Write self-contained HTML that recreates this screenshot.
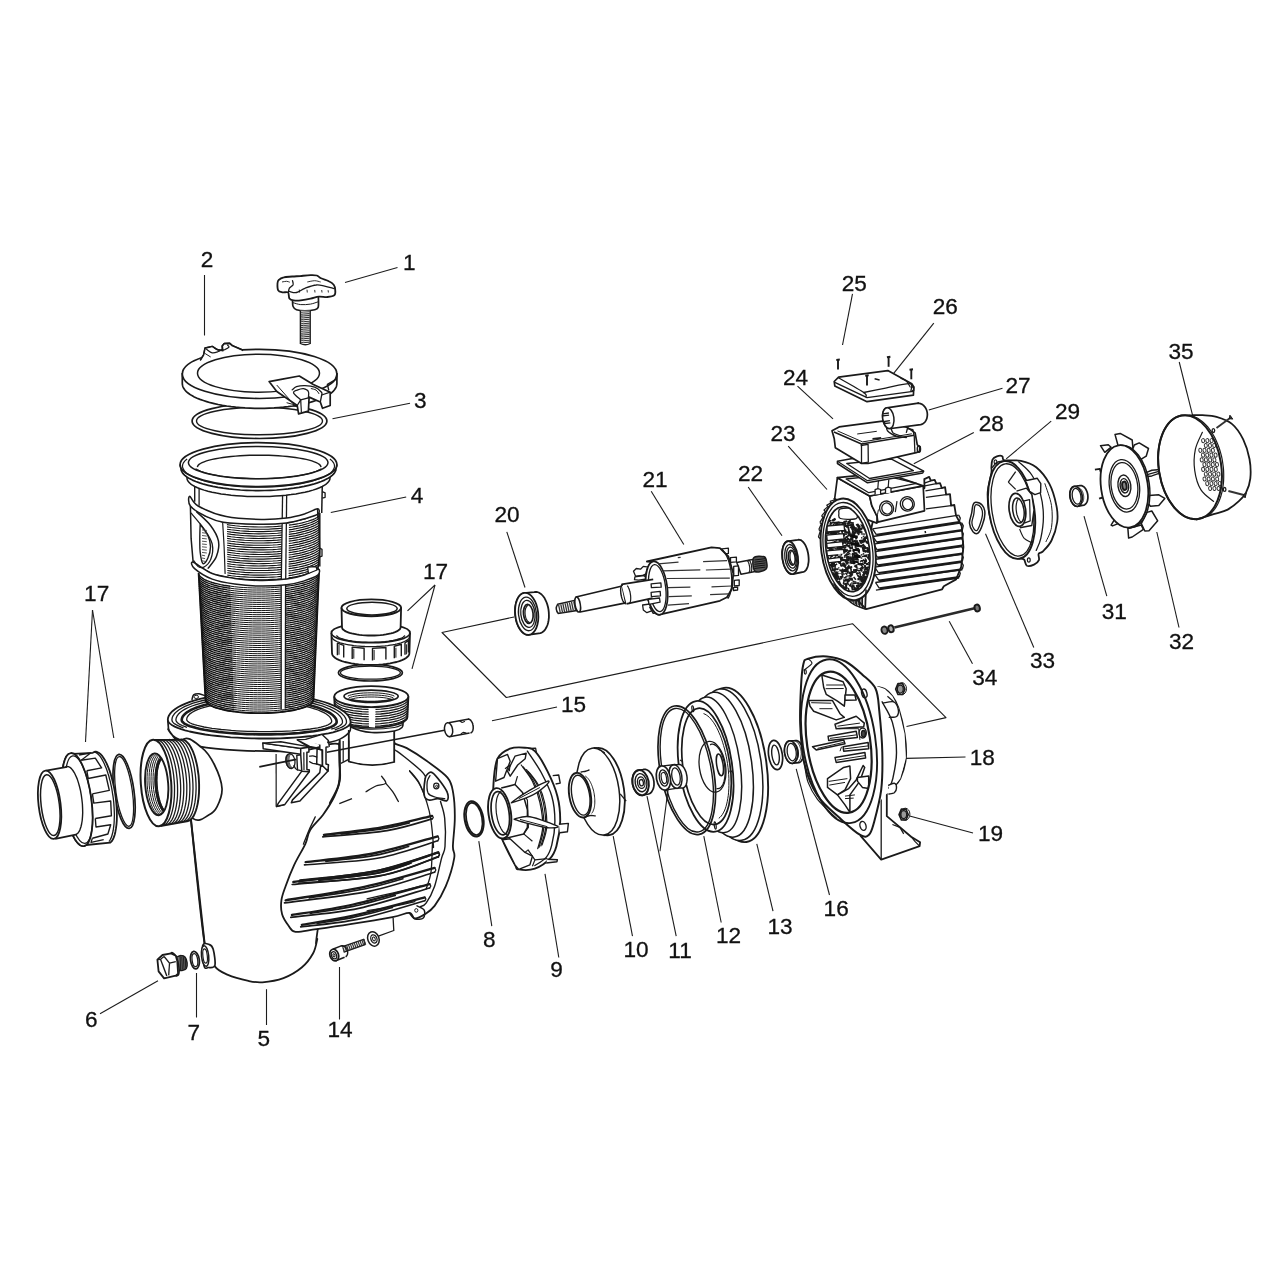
<!DOCTYPE html>
<html><head><meta charset="utf-8"><title>Pump exploded view</title>
<style>
html,body{margin:0;padding:0;background:#fff;}
body{width:1281px;height:1281px;overflow:hidden;font-family:"Liberation Sans",sans-serif;}
svg{display:block;will-change:transform;font-family:"Liberation Sans",sans-serif;}
</style></head><body>
<svg width="1281" height="1281" viewBox="0 0 1281 1281">
<rect width="1281" height="1281" fill="#fff"/>
<!-- p_labels -->
<g font-family="Liberation Sans, sans-serif">
<text x="402.9" y="270.0" font-size="22.6" fill="#111" stroke="#111" stroke-width="0.3">1</text>
<text x="200.7" y="267.0" font-size="22.6" fill="#111" stroke="#111" stroke-width="0.3">2</text>
<text x="413.9" y="407.5" font-size="22.6" fill="#111" stroke="#111" stroke-width="0.3">3</text>
<text x="410.7" y="502.5" font-size="22.6" fill="#111" stroke="#111" stroke-width="0.3">4</text>
<text x="84.1" y="601.0" font-size="22.6" fill="#111" stroke="#111" stroke-width="0.3">17</text>
<text x="422.9" y="579.0" font-size="22.6" fill="#111" stroke="#111" stroke-width="0.3">17</text>
<text x="494.4" y="522.0" font-size="22.6" fill="#111" stroke="#111" stroke-width="0.3">20</text>
<text x="642.4" y="487.0" font-size="22.6" fill="#111" stroke="#111" stroke-width="0.3">21</text>
<text x="737.9" y="481.2" font-size="22.6" fill="#111" stroke="#111" stroke-width="0.3">22</text>
<text x="770.4" y="441.2" font-size="22.6" fill="#111" stroke="#111" stroke-width="0.3">23</text>
<text x="783.0" y="385.2" font-size="22.6" fill="#111" stroke="#111" stroke-width="0.3">24</text>
<text x="841.8" y="290.8" font-size="22.6" fill="#111" stroke="#111" stroke-width="0.3">25</text>
<text x="932.8" y="314.0" font-size="22.6" fill="#111" stroke="#111" stroke-width="0.3">26</text>
<text x="1005.4" y="393.2" font-size="22.6" fill="#111" stroke="#111" stroke-width="0.3">27</text>
<text x="978.7" y="430.5" font-size="22.6" fill="#111" stroke="#111" stroke-width="0.3">28</text>
<text x="1055.0" y="418.5" font-size="22.6" fill="#111" stroke="#111" stroke-width="0.3">29</text>
<text x="1168.4" y="358.8" font-size="22.6" fill="#111" stroke="#111" stroke-width="0.3">35</text>
<text x="1101.7" y="618.8" font-size="22.6" fill="#111" stroke="#111" stroke-width="0.3">31</text>
<text x="1169.0" y="648.8" font-size="22.6" fill="#111" stroke="#111" stroke-width="0.3">32</text>
<text x="1030.0" y="668.2" font-size="22.6" fill="#111" stroke="#111" stroke-width="0.3">33</text>
<text x="972.3" y="684.5" font-size="22.6" fill="#111" stroke="#111" stroke-width="0.3">34</text>
<text x="560.9" y="712.0" font-size="22.6" fill="#111" stroke="#111" stroke-width="0.3">15</text>
<text x="969.7" y="765.0" font-size="22.6" fill="#111" stroke="#111" stroke-width="0.3">18</text>
<text x="977.9" y="840.5" font-size="22.6" fill="#111" stroke="#111" stroke-width="0.3">19</text>
<text x="823.6" y="915.8" font-size="22.6" fill="#111" stroke="#111" stroke-width="0.3">16</text>
<text x="767.4" y="934.0" font-size="22.6" fill="#111" stroke="#111" stroke-width="0.3">13</text>
<text x="715.9" y="942.5" font-size="22.6" fill="#111" stroke="#111" stroke-width="0.3">12</text>
<text x="668.3" y="958.2" font-size="22.6" fill="#111" stroke="#111" stroke-width="0.3">11</text>
<text x="623.4" y="956.5" font-size="22.6" fill="#111" stroke="#111" stroke-width="0.3">10</text>
<text x="550.3" y="976.5" font-size="22.6" fill="#111" stroke="#111" stroke-width="0.3">9</text>
<text x="483.1" y="947.0" font-size="22.6" fill="#111" stroke="#111" stroke-width="0.3">8</text>
<text x="84.9" y="1026.5" font-size="22.6" fill="#111" stroke="#111" stroke-width="0.3">6</text>
<text x="187.5" y="1040.0" font-size="22.6" fill="#111" stroke="#111" stroke-width="0.3">7</text>
<text x="257.5" y="1045.5" font-size="22.6" fill="#111" stroke="#111" stroke-width="0.3">5</text>
<text x="327.4" y="1037.0" font-size="22.6" fill="#111" stroke="#111" stroke-width="0.3">14</text>
</g>
<path d="M397.5 267.5L345 282.5" fill="none" stroke="#1c1c1c" stroke-width="1.1"/>
<path d="M204.5 275L204.5 335.5" fill="none" stroke="#1c1c1c" stroke-width="1.1"/>
<path d="M410 403.2L332.5 418.8" fill="none" stroke="#1c1c1c" stroke-width="1.1"/>
<path d="M406.2 497L330.8 512.5" fill="none" stroke="#1c1c1c" stroke-width="1.1"/>
<path d="M92.5 610L85.5 742" fill="none" stroke="#1c1c1c" stroke-width="1.1"/>
<path d="M92.5 610L113.8 738" fill="none" stroke="#1c1c1c" stroke-width="1.1"/>
<path d="M435 585L407.5 610.8" fill="none" stroke="#1c1c1c" stroke-width="1.1"/>
<path d="M435 585L412 668.8" fill="none" stroke="#1c1c1c" stroke-width="1.1"/>
<path d="M506.8 531.8L525 587.5" fill="none" stroke="#1c1c1c" stroke-width="1.1"/>
<path d="M651.2 491.2L683.8 544.5" fill="none" stroke="#1c1c1c" stroke-width="1.1"/>
<path d="M748.2 487L782 535.8" fill="none" stroke="#1c1c1c" stroke-width="1.1"/>
<path d="M788.2 446.2L827 489.5" fill="none" stroke="#1c1c1c" stroke-width="1.1"/>
<path d="M797.5 386.2L833 418.8" fill="none" stroke="#1c1c1c" stroke-width="1.1"/>
<path d="M852.5 293.8L842.5 345" fill="none" stroke="#1c1c1c" stroke-width="1.1"/>
<path d="M933.8 323.2L887.5 381.2" fill="none" stroke="#1c1c1c" stroke-width="1.1"/>
<path d="M1002.5 388.2L928.8 410" fill="none" stroke="#1c1c1c" stroke-width="1.1"/>
<path d="M973.8 432.5L913.8 463.8" fill="none" stroke="#1c1c1c" stroke-width="1.1"/>
<path d="M1051.2 421.2L1006.2 458.8" fill="none" stroke="#1c1c1c" stroke-width="1.1"/>
<path d="M1179.2 362L1192.8 416.2" fill="none" stroke="#1c1c1c" stroke-width="1.1"/>
<path d="M1084 516.2L1106.8 596.2" fill="none" stroke="#1c1c1c" stroke-width="1.1"/>
<path d="M1156.8 532L1179 627.5" fill="none" stroke="#1c1c1c" stroke-width="1.1"/>
<path d="M985.5 533.8L1033.8 647.5" fill="none" stroke="#1c1c1c" stroke-width="1.1"/>
<path d="M949.2 621.2L972.5 663.8" fill="none" stroke="#1c1c1c" stroke-width="1.1"/>
<path d="M492 720.8L557 707" fill="none" stroke="#1c1c1c" stroke-width="1.1"/>
<path d="M906 758.4L965.5 757" fill="none" stroke="#1c1c1c" stroke-width="1.1"/>
<path d="M909.6 816L973 833" fill="none" stroke="#1c1c1c" stroke-width="1.1"/>
<path d="M796.2 768.8L829.5 895" fill="none" stroke="#1c1c1c" stroke-width="1.1"/>
<path d="M756.8 843.8L773 911.2" fill="none" stroke="#1c1c1c" stroke-width="1.1"/>
<path d="M703.8 836.2L721.2 922.5" fill="none" stroke="#1c1c1c" stroke-width="1.1"/>
<path d="M647 796.2L676.2 936.2" fill="none" stroke="#1c1c1c" stroke-width="1.1"/>
<path d="M668 790L660 851.2" fill="none" stroke="#1c1c1c" stroke-width="1.1"/>
<path d="M613.2 836.2L632.5 936.2" fill="none" stroke="#1c1c1c" stroke-width="1.1"/>
<path d="M545 873.8L558.8 957.5" fill="none" stroke="#1c1c1c" stroke-width="1.1"/>
<path d="M478.8 841.2L491.8 926.2" fill="none" stroke="#1c1c1c" stroke-width="1.1"/>
<path d="M100 1013.8L158 980.8" fill="none" stroke="#1c1c1c" stroke-width="1.1"/>
<path d="M196.5 973L196.5 1017.5" fill="none" stroke="#1c1c1c" stroke-width="1.1"/>
<path d="M266.5 989.2L266.5 1025" fill="none" stroke="#1c1c1c" stroke-width="1.1"/>
<path d="M339.5 967L339.5 1019.5" fill="none" stroke="#1c1c1c" stroke-width="1.1"/>
<path d="M514 617L442 632.5L506.3 697.5L852.5 623.7L946 717.6L906.5 726.5" fill="none" stroke="#1c1c1c" stroke-width="1.1" stroke-linejoin="round"/>
<!-- p_body -->
<path d="M168.6 730C166.9 726.3 170.5 735.1 175.6 737.8C180.7 740.5 188.6 744.3 199 746.4C209.4 748.5 221.2 749.5 238 750.3C254.8 751.1 283 751.9 300 751C317 750.1 333.3 740.2 340 745C346.7 749.8 343.7 748.7 339.9 779.6C336.2 810.5 321.4 903.7 317.6 930.3C313.8 956.9 318 935.6 317.2 939.4C316.4 943.3 315.6 948.8 313 953.5C310.4 958.2 306.7 963.4 301.7 967.5C296.8 971.6 290 975.6 283.5 978.1C276.9 980.5 268.3 981.8 262.4 982.3C256.6 982.8 254.2 982.2 248.4 980.9C242.5 979.6 232.9 977 227.3 974.6C221.7 972.1 218.4 971 214.6 966.1C210.9 961.2 208.7 969.4 204.8 945.1C200.9 920.7 194.1 850.8 191 820C187.9 789.2 189.7 775 186 760C182.3 745 170.3 733.7 168.6 730Z" fill="#fff" stroke="#1a1a1a" stroke-width="1.8" stroke-linejoin="round" stroke-linecap="round"/>
<path d="M182 740.6C186.9 733.8 196.3 743.6 201.7 747.6C207 751.6 210.9 757.7 214.3 764.5C217.7 771.3 221.6 781.3 222 788.4C222.5 795.4 219.3 802.2 217.1 806.6C214.9 811.1 212.7 813.1 208.7 815.1C204.7 817 199.3 823 193.2 818.6C187.1 814.1 174 801.4 172.2 788.4C170.3 775.4 177.1 747.4 182 740.6Z" fill="#fff" stroke="#1a1a1a" stroke-width="1.7" stroke-linejoin="round" stroke-linecap="round"/>
<path d="M191 820L204.8 945" fill="none" stroke="#1a1a1a" stroke-width="1.9"/>
<path d="M202.7 945.8C203.5 942.1 207.3 943.8 209 944.4C210.8 944.9 212.2 945.8 213.2 949.3C214.2 952.8 215.7 962.4 214.9 965.4C214.1 968.5 210.1 967.4 208.3 967.5C206.5 967.7 205 969.8 204.1 966.1C203.2 962.5 201.9 949.4 202.7 945.8Z" fill="#fff" stroke="#1a1a1a" stroke-width="1.7" stroke-linejoin="round" stroke-linecap="round"/>
<ellipse cx="205.1" cy="956" rx="3.6" ry="10.4" transform="rotate(-6 205.1 956)" fill="#fff" stroke="#1a1a1a" stroke-width="1.5"/>
<ellipse cx="205.1" cy="956" rx="2.2" ry="7.2" transform="rotate(-6 205.1 956)" fill="none" stroke="#1a1a1a" stroke-width="1.2"/>
<path d="M151.7 740L180 739.6L181.5 739.4L183.1 739.6L184.6 740.2L186.2 741.3L187.7 742.8L189.3 744.7L190.7 747L192.1 749.7L193.4 752.7L194.6 756L195.6 759.6L196.6 763.4L197.4 767.4L198 771.5L198.6 775.7L198.9 780L199.1 784.3L199.1 788.5L199 792.6L198.7 796.6L198.2 800.5L197.6 804.1L196.8 807.4L195.9 810.5L194.9 813.2L193.8 815.6L192.5 817.5L191.2 819.1L189.7 820.3L188.2 821L160.3 826L160.3 826L158.8 826.3L157.2 826.1L155.5 825.4L153.9 824.3L152.3 822.7L150.8 820.7L149.3 818.2L147.9 815.4L146.5 812.2L145.3 808.7L144.2 804.9L143.2 800.9L142.4 796.7L141.7 792.3L141.2 787.8L140.8 783.3L140.6 778.8L140.5 774.3L140.7 769.9L141 765.7L141.4 761.6L142.1 757.8L142.8 754.2L143.8 751L144.8 748.1L146 745.6L147.3 743.6L148.7 741.9L150.1 740.7L151.7 740Z" fill="#fff" stroke="none" stroke-width="0" stroke-linejoin="round"/>
<path d="M151.7 740L180 739.6L181.5 739.4L183.1 739.6L184.6 740.2L186.2 741.3L187.7 742.8L189.3 744.7L190.7 747L192.1 749.7L193.4 752.7L194.6 756L195.6 759.6L196.6 763.4L197.4 767.4L198 771.5L198.6 775.7L198.9 780L199.1 784.3L199.1 788.5L199 792.6L198.7 796.6L198.2 800.5L197.6 804.1L196.8 807.4L195.9 810.5L194.9 813.2L193.8 815.6L192.5 817.5L191.2 819.1L189.7 820.3L188.2 821L160.3 826" fill="none" stroke="#1a1a1a" stroke-width="1.9" stroke-linejoin="round"/>
<path d="M156.6 739.7L158.6 740.1L160.5 741.1L162.4 742.8L164.2 745.2L166 748.1L167.7 751.5L169.2 755.5L170.6 759.8L171.8 764.6L172.8 769.6L173.6 774.8L174.1 780.1L174.5 785.5L174.5 790.9L174.4 796.1L174 801.1L173.4 805.8L172.5 810.1L171.4 814.1L170.2 817.5L168.8 820.4L167.2 822.7L165.5 824.4L163.7 825.4" fill="none" stroke="#1a1a1a" stroke-width="1.3"/>
<path d="M159.8 739.6L161.7 740L163.6 741.1L165.5 742.8L167.4 745.1L169.1 748L170.8 751.4L172.3 755.3L173.7 759.7L174.9 764.4L175.9 769.4L176.6 774.5L177.2 779.9L177.5 785.2L177.6 790.5L177.5 795.7L177.1 800.6L176.4 805.3L175.6 809.7L174.5 813.6L173.3 817L171.9 819.8L170.3 822.1L168.6 823.8L166.8 824.8" fill="none" stroke="#1a1a1a" stroke-width="1.3"/>
<path d="M162.9 739.6L164.8 740L166.7 741L168.6 742.7L170.5 745L172.2 747.9L173.9 751.3L175.4 755.2L176.8 759.5L178 764.2L179 769.1L179.7 774.3L180.3 779.6L180.6 784.9L180.7 790.2L180.5 795.3L180.1 800.2L179.5 804.9L178.7 809.2L177.6 813.1L176.4 816.5L174.9 819.3L173.4 821.6L171.7 823.2L169.9 824.3" fill="none" stroke="#1a1a1a" stroke-width="1.3"/>
<path d="M166.1 739.6L168 739.9L169.9 741L171.8 742.7L173.6 744.9L175.3 747.8L177 751.2L178.5 755.1L179.9 759.4L181.1 764L182 768.9L182.8 774L183.4 779.3L183.7 784.6L183.8 789.8L183.6 794.9L183.2 799.8L182.6 804.4L181.7 808.7L180.7 812.6L179.4 815.9L178 818.8L176.5 821L174.8 822.7L173 823.7" fill="none" stroke="#1a1a1a" stroke-width="1.3"/>
<path d="M169.2 739.5L171.1 739.9L173 740.9L174.9 742.6L176.7 744.9L178.5 747.7L180.1 751.1L181.6 754.9L183 759.2L184.1 763.8L185.1 768.7L185.9 773.8L186.4 779L186.8 784.2L186.8 789.4L186.7 794.5L186.3 799.4L185.7 804L184.8 808.2L183.8 812.1L182.5 815.4L181.1 818.2L179.6 820.5L177.9 822.1L176.1 823.1" fill="none" stroke="#1a1a1a" stroke-width="1.3"/>
<path d="M172.3 739.5L174.2 739.9L176.1 740.9L178 742.5L179.8 744.8L181.6 747.6L183.2 751L184.7 754.8L186.1 759L187.2 763.6L188.2 768.5L189 773.5L189.5 778.7L189.8 783.9L189.9 789.1L189.7 794.1L189.4 799L188.7 803.6L187.9 807.8L186.8 811.6L185.6 814.9L184.2 817.7L182.6 819.9L181 821.6L179.2 822.6" fill="none" stroke="#1a1a1a" stroke-width="1.3"/>
<path d="M175.5 739.5L177.4 739.8L179.3 740.8L181.1 742.5L182.9 744.7L184.7 747.5L186.3 750.9L187.8 754.7L189.2 758.9L190.3 763.4L191.3 768.3L192.1 773.3L192.6 778.4L192.9 783.6L193 788.7L192.8 793.8L192.4 798.6L191.8 803.1L191 807.3L189.9 811.1L188.7 814.4L187.3 817.2L185.7 819.4L184.1 821L182.3 822" fill="none" stroke="#1a1a1a" stroke-width="1.3"/>
<path d="M178.6 739.4L180.5 739.8L182.4 740.8L184.2 742.4L186.1 744.7L187.8 747.5L189.4 750.8L190.9 754.5L192.2 758.7L193.4 763.2L194.4 768L195.1 773L195.7 778.1L196 783.3L196.1 788.4L195.9 793.4L195.5 798.1L194.9 802.7L194 806.8L193 810.6L191.8 813.9L190.4 816.6L188.8 818.8L187.2 820.4L185.4 821.4" fill="none" stroke="#1a1a1a" stroke-width="1.3"/>
<ellipse cx="156" cy="783" rx="15.2" ry="43.4" transform="rotate(-4 156 783)" fill="#fff" stroke="#1a1a1a" stroke-width="2"/>
<ellipse cx="156.7" cy="784.3" rx="11.5" ry="31" transform="rotate(-4 156.7 784.3)" fill="#fff" stroke="#1a1a1a" stroke-width="1.9"/>
<clipPath id="inl"><ellipse cx="156.7" cy="784.3" rx="11.5" ry="31" transform="rotate(-4 156.7 784.3)"/></clipPath>
<g clip-path="url(#inl)">
<path d="M158.8 814.9L157.2 814L155.6 812.4L154.1 810.4L152.6 807.8L151.3 804.8L150.1 801.4L149.1 797.6L148.3 793.6L147.6 789.4L147.2 785.1L147 780.8L147.1 776.5L147.3 772.5L147.8 768.6L148.5 765L149.4 761.9L150.5 759.1L151.7 756.9L153.1 755.1L154.6 754" fill="none" stroke="#1a1a1a" stroke-width="1"/>
<path d="M160.8 814.9L159.2 814L157.6 812.4L156.1 810.4L154.6 807.8L153.3 804.8L152.1 801.4L151.1 797.6L150.3 793.6L149.6 789.4L149.2 785.1L149 780.8L149.1 776.5L149.3 772.5L149.8 768.6L150.5 765L151.4 761.9L152.5 759.1L153.7 756.9L155.1 755.1L156.6 754" fill="none" stroke="#1a1a1a" stroke-width="1"/>
<path d="M162.8 814.9L161.2 814L159.6 812.4L158.1 810.4L156.6 807.8L155.3 804.8L154.1 801.4L153.1 797.6L152.3 793.6L151.6 789.4L151.2 785.1L151 780.8L151.1 776.5L151.3 772.5L151.8 768.6L152.5 765L153.4 761.9L154.5 759.1L155.7 756.9L157.1 755.1L158.6 754" fill="none" stroke="#1a1a1a" stroke-width="1"/>
<path d="M164.8 814.9L163.2 814L161.6 812.4L160.1 810.4L158.6 807.8L157.3 804.8L156.1 801.4L155.1 797.6L154.3 793.6L153.6 789.4L153.2 785.1L153 780.8L153.1 776.5L153.3 772.5L153.8 768.6L154.5 765L155.4 761.9L156.5 759.1L157.7 756.9L159.1 755.1L160.6 754" fill="none" stroke="#1a1a1a" stroke-width="1"/>
<path d="M166.8 814.9L165.2 814L163.6 812.4L162.1 810.4L160.6 807.8L159.3 804.8L158.1 801.4L157.1 797.6L156.3 793.6L155.6 789.4L155.2 785.1L155 780.8L155.1 776.5L155.3 772.5L155.8 768.6L156.5 765L157.4 761.9L158.5 759.1L159.7 756.9L161.1 755.1L162.6 754" fill="none" stroke="#1a1a1a" stroke-width="1"/>
<path d="M168.8 814.9L167.2 814L165.6 812.4L164.1 810.4L162.6 807.8L161.3 804.8L160.1 801.4L159.1 797.6L158.3 793.6L157.6 789.4L157.2 785.1L157 780.8L157.1 776.5L157.3 772.5L157.8 768.6L158.5 765L159.4 761.9L160.5 759.1L161.7 756.9L163.1 755.1L164.6 754" fill="none" stroke="#1a1a1a" stroke-width="1"/>
<path d="M172.7 808.8L170.9 811.3L169 812.7L166.9 812.9L164.8 811.8L162.7 809.5L160.8 806.2L159.1 802L157.7 797L156.6 791.5L156 785.7L155.8 779.9L156.1 774.3L156.8 769.1L157.9 764.7L159.3 761.2L161.1 758.7L163 757.3L165.1 757.1L167.2 758.2L169.3 760.5" fill="none" stroke="#1a1a1a" stroke-width="2.8"/>
</g>
<path d="M393.9 741.1C394.1 741.5 393.4 742.7 395.5 743.9C397.7 745.1 401.6 745.3 406.8 748.1C411.9 750.9 419.7 755.8 426.5 760.7C433.2 765.7 443.1 772.2 447.5 777.6C452 783 451.9 786.3 453.2 793.1C454.4 799.9 454.9 809.5 454.8 818.4C454.8 827.3 453 839.8 452.9 846.5C452.8 853.1 455.4 851.5 454.2 858.1C453.1 864.7 449.1 878.2 445.8 886.2C442.5 894.2 438.1 901.2 434.6 905.9C431 910.6 428 912.2 424.7 914.3C421.4 916.4 417.5 918.8 414.9 918.5C412.3 918.3 413 913.1 409.3 912.9C405.5 912.7 402.2 915.2 392.4 917.1C382.6 919 362.9 922.2 350.3 924.1C337.6 926.1 325.7 927.8 316.5 929.1C307.4 930.3 300.1 932.5 295.5 931.9C290.8 931.3 290.7 928.5 288.4 925.5C286.2 922.6 283.3 918.5 282.1 914.3C280.9 910.1 280.8 904.9 281.4 900.3C282 895.6 283.5 892.1 285.6 886.2C287.7 880.3 290.8 872.2 294.1 865.1C297.3 858.1 302.6 849.9 305.3 844.1C308 838.2 307.2 834.9 310.2 830C313.2 825.1 319 820.3 323.1 814.7C327.1 809.1 331.5 802.3 334.3 796.5C337.1 790.6 339.1 785.5 339.9 779.6C340.8 773.7 339.5 767.4 339.4 761.3C339.2 755.2 339.1 746.1 339.1 743.1" fill="#fff" stroke="#1a1a1a" stroke-width="1.8" stroke-linejoin="round" stroke-linecap="round"/>
<path d="M395.5 750.2C397 751.3 399.8 753.1 404 756.5C408.2 759.9 417 766.8 420.8 770.6C424.7 774.3 426.1 777.6 427.2 779" fill="none" stroke="#1a1a1a" stroke-width="1.4" stroke-linejoin="round" stroke-linecap="round"/>
<path d="M440.5 801.5C441.2 804.3 444 810.9 444.7 818.4C445.5 825.8 445.5 839.8 445 846.5C444.5 853.1 443.3 851.5 441.6 858.1C439.8 864.7 437.1 878.7 434.6 886.2C432 893.7 428.5 899.7 426.1 903.1C423.8 906.5 421.4 906 420.5 906.6" fill="none" stroke="#1a1a1a" stroke-width="1.4" stroke-linejoin="round" stroke-linecap="round"/>
<path d="M409.6 770.6C411.2 772.7 416.6 778.1 419.4 783.2C422.2 788.4 424.6 795.6 426.5 801.5C428.3 807.3 429.5 810.9 430.7 818.4C431.8 825.8 433.2 842.2 433.5 846.5C433.8 850.7 432.9 839.8 432.5 844.1C432 848.3 432.1 864.7 431 872.2C430 879.6 426.9 886.2 426.1 889" fill="none" stroke="#1a1a1a" stroke-width="1.3" stroke-linejoin="round" stroke-linecap="round"/>
<path d="M425.1 779C425.6 775.3 426.6 774.7 427.9 773.7C429.1 772.6 430.3 771.3 432.4 772.7C434.5 774 438 778.4 440.5 781.8C443 785.2 446.5 789.9 447.5 793.1C448.6 796.2 448.5 799.9 446.8 800.8C445.2 801.7 440.6 798.8 437.7 798.7C434.8 798.6 431.5 800.6 429.3 800.1C427 799.6 425.1 799.4 424.4 795.9C423.6 792.4 424.5 782.7 425.1 779Z" fill="#fff" stroke="#1a1a1a" stroke-width="1.7" stroke-linejoin="round" stroke-linecap="round"/>
<path d="M430 775.5C429.5 776.6 427.5 778.9 427.2 781.8C426.9 784.8 426.9 790.5 428.1 793.1C429.4 795.6 432.1 796.1 434.9 797C437.7 797.9 443.1 798.4 444.7 798.7" fill="none" stroke="#1a1a1a" stroke-width="1.3" stroke-linejoin="round" stroke-linecap="round"/>
<ellipse cx="436.3" cy="786" rx="2.6" ry="2.8" fill="none" stroke="#1a1a1a" stroke-width="1.3"/>
<ellipse cx="436.6" cy="786.3" rx="1" ry="1.1" fill="none" stroke="#1a1a1a" stroke-width="1"/>
<path d="M366 791.7C367.7 790.7 372.6 787.4 375.9 786C379.2 784.6 384.8 784.9 385.7 783.2C386.6 781.6 382.2 777.4 381.5 776.2" fill="none" stroke="#1a1a1a" stroke-width="1.3" stroke-linejoin="round" stroke-linecap="round"/>
<path d="M385.7 783.2C386.9 784.6 390.6 788.6 392.7 791.7C394.8 794.7 397.4 799.9 398.4 801.5" fill="none" stroke="#1a1a1a" stroke-width="1.3" stroke-linejoin="round" stroke-linecap="round"/>
<path d="M339.3 803.6L352 798.7" fill="none" stroke="#1a1a1a" stroke-width="1.3"/>
<path d="M409.6 771.3C411 773 415.7 778.2 418 781.8C420.4 785.5 422.7 791.2 423.6 793.1" fill="none" stroke="#1a1a1a" stroke-width="1.2" stroke-linejoin="round" stroke-linecap="round"/>
<path d="M315.3 816.8C314.3 819.1 311 825.6 309 830.2C307 834.7 304.3 841.9 303.4 844.2" fill="none" stroke="#1a1a1a" stroke-width="1.3" stroke-linejoin="round" stroke-linecap="round"/>
<path d="M323.9 834.9C333.5 833.7 363.5 830.7 381.5 827.5C399.5 824.3 423.6 817.8 432.1 815.8" fill="none" stroke="#1a1a1a" stroke-width="2.3" stroke-linejoin="round" stroke-linecap="round"/>
<path d="M322.8 836.8C333.5 835.8 368.9 833.6 387.1 830.6C405.3 827.6 424.6 820.9 432.1 818.9" fill="none" stroke="#1a1a1a" stroke-width="1.7" stroke-linejoin="round" stroke-linecap="round"/>
<path d="M432.1 815.8C432.3 816.1 433.3 816.9 433.3 817.4C433.3 817.9 432.3 818.7 432.1 818.9" fill="none" stroke="#1a1a1a" stroke-width="1.3" stroke-linejoin="round" stroke-linecap="round"/>
<path d="M341.2 833.9C347.9 833.1 370.1 830.9 381.5 829C392.9 827.2 404.7 823.8 409.3 822.8" fill="none" stroke="#1a1a1a" stroke-width="1.7" stroke-linejoin="round" stroke-linecap="round"/>
<path d="M305.6 862.2C316.9 860.7 351.1 857.8 373.1 853.5C395.1 849.2 426.9 839.2 437.7 836.3" fill="none" stroke="#1a1a1a" stroke-width="2.3" stroke-linejoin="round" stroke-linecap="round"/>
<path d="M304.5 864.9C316.9 863.7 356.5 862 378.7 858C400.9 854 427.9 843.7 437.7 840.8" fill="none" stroke="#1a1a1a" stroke-width="1.7" stroke-linejoin="round" stroke-linecap="round"/>
<path d="M437.7 836.3C437.9 836.7 438.9 837.8 438.9 838.6C438.9 839.3 437.9 840.5 437.7 840.8" fill="none" stroke="#1a1a1a" stroke-width="1.3" stroke-linejoin="round" stroke-linecap="round"/>
<path d="M325.9 861.4C333.7 860.4 359.3 858.2 373.1 855.7C386.9 853.3 402.7 848.1 408.6 846.5" fill="none" stroke="#1a1a1a" stroke-width="1.7" stroke-linejoin="round" stroke-linecap="round"/>
<path d="M300 880.5C312.2 879 350 876.4 373.1 871.7C396.1 867.1 427.5 855.6 438.4 852.4" fill="none" stroke="#1a1a1a" stroke-width="2.3" stroke-linejoin="round" stroke-linecap="round"/>
<path d="M298.9 883.2C312.2 882 355.4 880.6 378.7 876.2C401.9 871.9 428.4 860.1 438.4 856.9" fill="none" stroke="#1a1a1a" stroke-width="1.7" stroke-linejoin="round" stroke-linecap="round"/>
<path d="M438.4 852.4C438.6 852.7 439.6 853.9 439.6 854.6C439.6 855.4 438.6 856.5 438.4 856.9" fill="none" stroke="#1a1a1a" stroke-width="1.3" stroke-linejoin="round" stroke-linecap="round"/>
<path d="M321.9 879.6C330.4 878.7 358.6 876.7 373.1 874C387.6 871.3 403 865.3 409 863.6" fill="none" stroke="#1a1a1a" stroke-width="1.7" stroke-linejoin="round" stroke-linecap="round"/>
<path d="M293.3 882C307.5 880.1 354.2 875.7 378.4 870.7C402.5 865.8 428.1 855.5 438.1 852.5" fill="none" stroke="#1a1a1a" stroke-width="2.3" stroke-linejoin="round" stroke-linecap="round"/>
<path d="M292.2 884.5C307.5 882.9 359.7 879.6 384 875C408.3 870.3 429.1 859.7 438.1 856.7" fill="none" stroke="#1a1a1a" stroke-width="1.7" stroke-linejoin="round" stroke-linecap="round"/>
<path d="M438.1 852.5C438.3 852.8 439.3 853.9 439.3 854.6C439.3 855.3 438.3 856.3 438.1 856.7" fill="none" stroke="#1a1a1a" stroke-width="1.3" stroke-linejoin="round" stroke-linecap="round"/>
<path d="M318.9 880.3C328.8 879.1 363 875.7 378.4 872.9C393.7 870 405.7 864.7 411.2 863" fill="none" stroke="#1a1a1a" stroke-width="1.7" stroke-linejoin="round" stroke-linecap="round"/>
<path d="M285.6 900.3C298.7 898 339.5 892.3 364.3 886.9C389.1 881.5 422.9 871.1 434.6 867.9" fill="none" stroke="#1a1a1a" stroke-width="2.3" stroke-linejoin="round" stroke-linecap="round"/>
<path d="M284.5 902.8C298.7 900.8 344.9 896.2 369.9 891.1C394.9 886 423.8 875.3 434.6 872.2" fill="none" stroke="#1a1a1a" stroke-width="1.7" stroke-linejoin="round" stroke-linecap="round"/>
<path d="M434.6 867.9C434.8 868.3 435.8 869.3 435.8 870C435.8 870.7 434.8 871.8 434.6 872.2" fill="none" stroke="#1a1a1a" stroke-width="1.3" stroke-linejoin="round" stroke-linecap="round"/>
<path d="M309.2 897.9C318.4 896.4 348.7 892.2 364.3 889C379.9 885.8 396.5 880.5 402.9 878.8" fill="none" stroke="#1a1a1a" stroke-width="1.7" stroke-linejoin="round" stroke-linecap="round"/>
<path d="M291.9 915C302.1 913.3 330.1 909.6 353.1 904.5C376 899.3 416.9 887.5 429.6 884.1" fill="none" stroke="#1a1a1a" stroke-width="2.3" stroke-linejoin="round" stroke-linecap="round"/>
<path d="M290.8 917.4C302.1 915.9 335.5 913.3 358.7 908.4C381.8 903.5 417.8 891.4 429.6 888" fill="none" stroke="#1a1a1a" stroke-width="1.7" stroke-linejoin="round" stroke-linecap="round"/>
<path d="M429.6 884.1C429.8 884.4 430.8 885.4 430.8 886.1C430.8 886.7 429.8 887.7 429.6 888" fill="none" stroke="#1a1a1a" stroke-width="1.3" stroke-linejoin="round" stroke-linecap="round"/>
<path d="M310.3 913.4C317.4 912.3 338.9 909.4 353.1 906.4C367.2 903.4 388.2 897.3 395.2 895.4" fill="none" stroke="#1a1a1a" stroke-width="1.7" stroke-linejoin="round" stroke-linecap="round"/>
<path d="M301.8 924.8C310.3 923.3 332.6 920.3 353.1 915.7C373.6 911.1 412.8 900.5 424.7 897.4" fill="none" stroke="#1a1a1a" stroke-width="2.3" stroke-linejoin="round" stroke-linecap="round"/>
<path d="M300.7 926.9C310.3 925.6 338 923.4 358.7 919.1C379.4 914.7 413.7 903.9 424.7 900.8" fill="none" stroke="#1a1a1a" stroke-width="1.7" stroke-linejoin="round" stroke-linecap="round"/>
<path d="M424.7 897.4C424.9 897.7 425.9 898.6 425.9 899.1C425.9 899.7 424.9 900.5 424.7 900.8" fill="none" stroke="#1a1a1a" stroke-width="1.3" stroke-linejoin="round" stroke-linecap="round"/>
<path d="M317.2 923.5C323.1 922.4 340.5 920.1 353.1 917.4C365.6 914.7 385.9 909.2 392.5 907.5" fill="none" stroke="#1a1a1a" stroke-width="1.7" stroke-linejoin="round" stroke-linecap="round"/>
<path d="M367.1 898.8C371.3 897.9 383.5 895.3 392.4 893.2C401.3 891.1 415.8 887.4 420.5 886.2" fill="none" stroke="#1a1a1a" stroke-width="1.3" stroke-linejoin="round" stroke-linecap="round"/>
<path d="M367.1 910.8C371.3 910.1 384.4 908.1 392.4 906.6C400.4 905.1 411.1 902.5 414.9 901.7" fill="none" stroke="#1a1a1a" stroke-width="1.3" stroke-linejoin="round" stroke-linecap="round"/>
<path d="M409.3 912.9C410.2 913.9 412.5 918 414.9 918.8C417.2 919.6 421.8 919.4 423.3 918C424.9 916.5 425.2 912.1 424.2 910.1C423.1 908.1 418.2 906.6 417 905.9" fill="none" stroke="#1a1a1a" stroke-width="1.5" stroke-linejoin="round" stroke-linecap="round"/>
<ellipse cx="416.3" cy="910.4" rx="1.6" ry="1.8" fill="none" stroke="#1a1a1a" stroke-width="1"/>
<path d="M393.1 917.8L393.8 930.5L378.4 936.1" fill="none" stroke="#1a1a1a" stroke-width="1.3" stroke-linejoin="round"/>
<path d="M348.8 730L348.8 761.5Q371.5 768.5 394.2 762L394.2 730" fill="#fff" stroke="#1a1a1a" stroke-width="1.8"/>
<path d="M350.7 721.2C351 722.3 348.6 725.7 352.2 727.5C355.7 729.4 364.8 731.9 371.8 732.5C378.8 733 389.3 731.9 394.3 731C399.3 730.2 400.6 728.9 402 727.5C403.5 726.1 402.9 723.4 403 722.6" fill="#fff" stroke="#1a1a1a" stroke-width="1.7" stroke-linejoin="round" stroke-linecap="round"/>
<path d="M352.2 727.5C355.4 727.8 364.8 729.2 371.8 729.2C378.8 729.2 389.3 728.3 394.3 727.5C399.3 726.8 400.7 725.2 402 724.7" fill="none" stroke="#1a1a1a" stroke-width="1.2" stroke-linejoin="round" stroke-linecap="round"/>
<path d="M334.2 696.6L335.2 717.1L335.4 718.2L336 719.3L337 720.3L338.3 721.4L340 722.4L342.1 723.3L344.5 724.1L347.1 724.9L350.1 725.6L353.2 726.2L356.6 726.7L360.1 727.1L363.8 727.4L367.5 727.5L371.3 727.6L375.1 727.5L378.8 727.4L382.5 727.1L386 726.7L389.4 726.2L392.5 725.6L395.5 724.9L398.1 724.1L400.5 723.3L402.6 722.4L404.3 721.4L405.6 720.3L406.6 719.3L407.2 718.2L407.4 717.1L408.4 696.6" fill="#fff" stroke="#1a1a1a" stroke-width="1.8" stroke-linejoin="round"/>
<path d="M334.3 699.4L334.8 700.7L335.9 702L337.5 703.3L339.7 704.5L342.4 705.6L345.6 706.6L349.2 707.4L353.2 708.2L357.4 708.7L361.9 709.2L366.6 709.4L371.3 709.5L376 709.4L380.7 709.2L385.2 708.7L389.4 708.2L393.4 707.4L397 706.6L400.2 705.6L402.9 704.5L405.1 703.3L406.7 702L407.8 700.7L408.3 699.4" fill="none" stroke="#1a1a1a" stroke-width="1.3"/>
<path d="M334.4 701.8L334.9 703.1L336 704.4L337.6 705.7L339.8 706.9L342.5 708L345.7 709L349.3 709.8L353.2 710.6L357.5 711.1L362 711.6L366.6 711.8L371.3 711.9L376 711.8L380.6 711.6L385.1 711.1L389.4 710.6L393.3 709.8L396.9 709L400.1 708L402.8 706.9L405 705.7L406.6 704.4L407.7 703.1L408.2 701.8" fill="none" stroke="#1a1a1a" stroke-width="1.3"/>
<path d="M334.5 704.2L335 705.5L336 706.8L337.7 708.1L339.9 709.3L342.6 710.4L345.7 711.4L349.3 712.2L353.3 713L357.5 713.5L362 714L366.6 714.2L371.3 714.3L376 714.2L380.6 714L385.1 713.5L389.3 713L393.3 712.2L396.9 711.4L400 710.4L402.7 709.3L404.9 708.1L406.6 706.8L407.6 705.5L408.1 704.2" fill="none" stroke="#1a1a1a" stroke-width="1.3"/>
<path d="M334.6 706.6L335.1 707.9L336.1 709.2L337.8 710.5L340 711.7L342.6 712.8L345.8 713.8L349.4 714.6L353.3 715.4L357.6 715.9L362 716.4L366.6 716.6L371.3 716.7L376 716.6L380.6 716.4L385 715.9L389.3 715.4L393.2 714.6L396.8 713.8L400 712.8L402.6 711.7L404.8 710.5L406.5 709.2L407.5 707.9L408 706.6" fill="none" stroke="#1a1a1a" stroke-width="1.3"/>
<path d="M334.7 709L335.2 710.3L336.2 711.6L337.9 712.9L340 714.1L342.7 715.2L345.9 716.2L349.4 717L353.4 717.8L357.6 718.3L362 718.8L366.6 719L371.3 719.1L376 719L380.6 718.8L385 718.3L389.2 717.8L393.2 717L396.7 716.2L399.9 715.2L402.6 714.1L404.7 712.9L406.4 711.6L407.4 710.3L407.9 709" fill="none" stroke="#1a1a1a" stroke-width="1.3"/>
<path d="M334.8 711.4L335.3 712.7L336.3 714L338 715.3L340.1 716.5L342.8 717.6L345.9 718.6L349.5 719.4L353.4 720.2L357.6 720.7L362.1 721.2L366.6 721.4L371.3 721.5L376 721.4L380.5 721.2L385 720.7L389.2 720.2L393.1 719.4L396.7 718.6L399.8 717.6L402.5 716.5L404.6 715.3L406.3 714L407.3 712.7L407.8 711.4" fill="none" stroke="#1a1a1a" stroke-width="1.3"/>
<path d="M334.9 713.8L335.4 715.1L336.4 716.4L338 717.7L340.2 718.9L342.9 720L346 721L349.6 721.8L353.5 722.6L357.7 723.1L362.1 723.6L366.7 723.8L371.3 723.9L375.9 723.8L380.5 723.6L384.9 723.1L389.1 722.6L393 721.8L396.6 721L399.7 720L402.4 718.9L404.6 717.7L406.2 716.4L407.2 715.1L407.7 713.8" fill="none" stroke="#1a1a1a" stroke-width="1.3"/>
<path d="M335 716.2L335.5 717.5L336.5 718.8L338.1 720.1L340.3 721.3L343 722.4L346.1 723.4L349.6 724.2L353.5 725L357.7 725.5L362.1 726L366.7 726.2L371.3 726.3L375.9 726.2L380.5 726L384.9 725.5L389.1 725L393 724.2L396.5 723.4L399.6 722.4L402.3 721.3L404.5 720.1L406.1 718.8L407.1 717.5L407.6 716.2" fill="none" stroke="#1a1a1a" stroke-width="1.3"/>
<path d="M368.5 708L375.5 708.5L375 727.5L369 727Z" fill="#fff" stroke="none" stroke-width="0" stroke-linejoin="round"/>
<ellipse cx="371.3" cy="696.6" rx="37.1" ry="10.5" fill="#fff" stroke="#1a1a1a" stroke-width="1.9"/>
<ellipse cx="371.1" cy="696.3" rx="27.1" ry="6.1" fill="none" stroke="#1a1a1a" stroke-width="1.7"/>
<path d="M347.8 696.2L349.4 695.4L351.4 694.8L354 694.2L356.9 693.7L360.1 693.3L363.6 693L367.3 692.9L371.1 692.8L374.9 692.9L378.6 693L382.1 693.3L385.3 693.7L388.2 694.2L390.8 694.8L392.8 695.4L394.4 696.2" fill="none" stroke="#1a1a1a" stroke-width="1"/>
<path d="M394 698.6L392.5 699.3L390.5 699.9L388 700.4L385.1 700.9L381.9 701.3L378.4 701.6L374.8 701.7L371.1 701.8L367.4 701.7L363.8 701.6L360.3 701.3L357.1 700.9L354.2 700.4L351.7 699.9L349.7 699.3L348.2 698.6" fill="none" stroke="#1a1a1a" stroke-width="0.9"/>
<path d="M348.9 697.9L350.4 697.3L352.4 696.7L354.8 696.2L357.6 695.7L360.7 695.4L364 695.1L367.5 695L371.1 694.9L374.7 695L378.2 695.1L381.5 695.4L384.6 695.7L387.4 696.2L389.8 696.7L391.8 697.3L393.3 697.9" fill="none" stroke="#1a1a1a" stroke-width="1"/>
<path d="M392.5 698.9L391.1 699.4L389.2 699.9L386.9 700.4L384.2 700.8L381.2 701.1L378 701.3L374.6 701.5L371.1 701.5L367.6 701.5L364.2 701.3L361 701.1L358 700.8L355.3 700.4L353 699.9L351.1 699.4L349.7 698.9" fill="none" stroke="#1a1a1a" stroke-width="0.9"/>
<path d="M350.1 699.7L351.5 699.1L353.3 698.6L355.6 698.1L358.3 697.7L361.2 697.4L364.4 697.2L367.7 697L371.1 697L374.5 697L377.8 697.2L381 697.4L383.9 697.7L386.6 698.1L388.9 698.6L390.7 699.1L392.1 699.7" fill="none" stroke="#1a1a1a" stroke-width="1"/>
<path d="M391 699.2L389.7 699.6L387.9 700L385.8 700.3L383.3 700.6L380.5 700.9L377.5 701.1L374.3 701.2L371.1 701.2L367.9 701.2L364.7 701.1L361.7 700.9L358.9 700.6L356.4 700.3L354.3 700L352.5 699.6L351.2 699.2" fill="none" stroke="#1a1a1a" stroke-width="0.9"/>
<path d="M350.5 722.2C350.3 723.7 351.5 728.7 349.7 731.5C347.9 734.4 343.1 737.5 339.5 739.3C336 741.2 330.4 741.9 328.6 742.5" fill="none" stroke="#1a1a1a" stroke-width="1.5" stroke-linejoin="round" stroke-linecap="round"/>
<path d="M167.8 719.8L168.1 717.6L169 715.4L170.4 713.3L172.4 711.2L174.9 709.2L177.9 707.2L181.5 705.4L185.5 703.6L189.9 701.9L194.8 700.4L200.1 698.9L205.8 697.6L211.8 696.5L218 695.5L224.6 694.7L231.3 694L238.2 693.5L245.3 693.2L252.4 693L259.6 693L266.7 693.2L273.9 693.5L280.9 694.1L287.8 694.7L294.5 695.6L301 696.6L307.3 697.8L313.2 699.1L318.8 700.5L324.1 702L328.9 703.7L333.4 705.5L337.3 707.4L340.8 709.4L343.8 711.4L346.2 713.5L348.2 715.6L349.5 717.8L350.3 720L350.6 722.2L350.6 722.2L350.3 723.6L349.4 724.9L348 726.2L346 727.5L343.5 728.8L340.5 730L337 731.2L333 732.3L328.5 733.3L323.7 734.2L318.4 735.1L312.7 735.9L306.8 736.5L300.5 737.1L294 737.6L287.2 738L280.3 738.3L273.3 738.5L266.1 738.5L259 738.5L251.8 738.4L244.7 738.1L237.6 737.7L230.7 737.3L224 736.7L217.5 736L211.3 735.3L205.3 734.5L199.7 733.5L194.4 732.5L189.6 731.5L185.1 730.3L181.2 729.1L177.7 727.9L174.7 726.6L172.2 725.3L170.3 723.9L168.9 722.6L168.1 721.2L167.8 719.8Z" fill="#fff" stroke="#1a1a1a" stroke-width="1.8" stroke-linejoin="round"/>
<path d="M183.5 727.8L180.8 726.9L178.5 725.9L176.5 724.9L174.8 723.9L173.5 722.9L172.6 721.9L172.1 720.9L171.9 719.9L171.9 719.9L172.2 717.8L173 715.8L174.4 713.8L176.3 711.9L178.7 710L181.6 708.2L184.9 706.4L188.8 704.8L193 703.2L197.7 701.8L202.8 700.5L208.2 699.3L213.9 698.2L219.9 697.3L226.1 696.5L232.5 695.9L239.2 695.5L245.9 695.1L252.7 695L259.5 695L266.4 695.2L273.2 695.5L279.9 696L286.5 696.6L292.9 697.4L299.1 698.4L305.1 699.4L310.8 700.6L316.2 702L321.2 703.4L325.8 705L330 706.6L333.8 708.4L337.1 710.2L340 712.1L342.3 714.1L344.2 716L345.5 718.1L346.3 720.1L346.5 722.1L346.5 722.1L346.3 723.2L345.7 724.2L344.8 725.2L343.5 726.1L341.8 727.1L339.8 728L337.4 728.9L334.7 729.8" fill="none" stroke="#1a1a1a" stroke-width="1.3" stroke-linejoin="round"/>
<path d="M187 727.3L184.4 726.4L182.2 725.5L180.3 724.6L178.7 723.7L177.5 722.7L176.6 721.8L176.1 720.9L175.9 719.9L175.9 719.9L176.2 718L177 716.2L178.3 714.3L180.1 712.5L182.4 710.8L185.1 709.1L188.3 707.5L192 706L196.1 704.6L200.5 703.3L205.3 702L210.5 700.9L215.9 700L221.7 699.1L227.6 698.4L233.8 697.8L240.1 697.4L246.5 697.1L253 697L259.5 697L266 697.2L272.5 697.5L278.9 697.9L285.2 698.5L291.4 699.2L297.3 700.1L303 701.1L308.4 702.2L313.5 703.5L318.3 704.8L322.7 706.2L326.8 707.8L330.4 709.4L333.6 711.1L336.3 712.8L338.5 714.6L340.3 716.5L341.5 718.3L342.3 720.2L342.5 722.1L342.5 722.1L342.3 723L341.8 724L340.9 724.9L339.6 725.8L338 726.7L336.1 727.5L333.8 728.3L331.2 729.1" fill="none" stroke="#1a1a1a" stroke-width="1.3" stroke-linejoin="round"/>
<path d="M181.7 720L182 718.3L182.7 716.6L183.9 715L185.6 713.4L187.7 711.8L190.3 710.3L193.3 708.9L196.7 707.5L200.5 706.3L204.6 705.1L209.1 704L213.9 703L218.9 702.1L224.3 701.4L229.8 700.8L235.5 700.2L241.4 699.9L247.4 699.6L253.4 699.5L259.5 699.5L265.6 699.6L271.6 699.9L277.6 700.3L283.4 700.9L289.1 701.5L294.6 702.3L299.9 703.2L305 704.2L309.7 705.3L314.2 706.5L318.3 707.8L322.1 709.2L325.4 710.6L328.4 712.1L330.9 713.7L333 715.3L334.6 717L335.8 718.6L336.5 720.3L336.7 722L336.7 722L336.4 723.1L335.7 724.1L334.5 725.1L332.8 726.1L330.7 727.1L328.2 728L325.2 728.9L321.8 729.7L318 730.5L313.9 731.2L309.4 731.8L304.6 732.4L299.5 733L294.2 733.4L288.7 733.8L283 734.1L277.1 734.3L271.1 734.4L265.1 734.4L259 734.4L252.9 734.3L246.9 734.1L240.9 733.8L235.1 733.4L229.4 733L223.9 732.5L218.6 731.9L213.5 731.2L208.7 730.5L204.3 729.8L200.2 728.9L196.4 728.1L193 727.1L190.1 726.2L187.5 725.2L185.4 724.2L183.8 723.1L182.6 722.1L181.9 721L181.7 720Z" fill="none" stroke="#1a1a1a" stroke-width="2.6" stroke-linejoin="round"/>
<path d="M186.7 719.5L186.9 718L187.6 716.5L188.8 715L190.3 713.6L192.3 712.3L194.7 710.9L197.5 709.7L200.7 708.5L204.2 707.3L208.1 706.3L212.3 705.3L216.8 704.5L221.5 703.7L226.5 703L231.7 702.5L237 702L242.5 701.7L248.1 701.5L253.8 701.4L259.4 701.4L265.1 701.5L270.8 701.8L276.4 702.1L281.8 702.6L287.2 703.2L292.3 703.9L297.3 704.7L302 705.6L306.5 706.6L310.6 707.6L314.5 708.8L318 710L321.1 711.3L323.9 712.6L326.3 714L328.2 715.4L329.7 716.9L330.8 718.4L331.5 719.9L331.7 721.3L331.7 721.3L331.5 722.2L330.8 723.1L329.7 723.9L328.1 724.8L326.1 725.6L323.7 726.3L320.9 727.1L317.8 727.8L314.2 728.4L310.4 729L306.2 729.5L301.7 730L297 730.4L292 730.8L286.8 731.1L281.5 731.3L276 731.5L270.4 731.6L264.7 731.6L259.1 731.6L253.4 731.5L247.7 731.3L242.1 731.1L236.7 730.8L231.3 730.4L226.2 729.9L221.2 729.5L216.5 728.9L212 728.3L207.8 727.6L204 727L200.5 726.2L197.3 725.4L194.5 724.6L192.2 723.8L190.2 723L188.7 722.1L187.6 721.2L186.9 720.3L186.7 719.5Z" fill="none" stroke="#1a1a1a" stroke-width="1.3" stroke-linejoin="round"/>
<path d="M192 699.5C192.3 698.7 192.4 695.8 193.6 694.8C194.7 693.9 197.2 693.6 199 693.7C200.9 693.9 203.6 695.3 204.5 695.6" fill="none" stroke="#1a1a1a" stroke-width="1.5" stroke-linejoin="round" stroke-linecap="round"/>
<ellipse cx="196.2" cy="696.9" rx="2.3" ry="1.6" fill="none" stroke="#1a1a1a" stroke-width="1"/>
<path d="M167.8 720.5L168.6 730" fill="none" stroke="#1a1a1a" stroke-width="1.7"/>
<path d="M276.1 753.9L276.2 806.6" fill="none" stroke="#1a1a1a" stroke-width="1.2"/>
<path d="M276.2 806.6L284.7 804.6" fill="none" stroke="#1a1a1a" stroke-width="1.3"/>
<path d="M301.8 771.1L278.4 803.1L276.5 806.6L284.7 804.6L309 772L308.9 769.9Z" fill="#fff" stroke="#1a1a1a" stroke-width="1.5" stroke-linejoin="round"/>
<path d="M320.6 766.4L319.8 772.6L292.5 799.9L291.3 802.7L299.9 801.1L328 771.1L328.4 764.8Z" fill="#fff" stroke="#1a1a1a" stroke-width="1.5" stroke-linejoin="round"/>
<ellipse cx="290.5" cy="761.1" rx="4.4" ry="7.6" transform="rotate(-8 290.5 761.1)" fill="#fff" stroke="#1a1a1a" stroke-width="1.3"/>
<path d="M289.7 768.2L289.5 768.1L289.2 768L288.9 767.9L288.7 767.7L288.4 767.5L288.2 767.3L287.9 767L287.7 766.7L287.5 766.4L287.3 766L287.1 765.7L286.9 765.3L286.7 764.9L286.5 764.4L286.3 764L286.2 763.5L286.1 763L286 762.6L285.9 762.1L285.8 761.6L285.7 761.1L285.7 760.6L285.7 760.1L285.6 759.6L285.7 759.1L285.7 758.6L285.7 758.2L285.8 757.7L285.9 757.3L286 756.9L286.1 756.5L286.2 756.1L286.4 755.8L286.5 755.4L286.7 755.1L286.9 754.9L287.1 754.6L287.3 754.4L287.5 754.3L287.7 754.1" fill="none" stroke="#1a1a1a" stroke-width="1"/>
<path d="M290.8 768.2L290.6 768.1L290.3 768L290 767.9L289.8 767.7L289.5 767.5L289.3 767.3L289 767L288.8 766.7L288.6 766.4L288.4 766L288.1 765.7L287.9 765.3L287.8 764.9L287.6 764.4L287.4 764L287.3 763.5L287.2 763L287.1 762.6L287 762.1L286.9 761.6L286.8 761.1L286.8 760.6L286.7 760.1L286.7 759.6L286.7 759.1L286.8 758.6L286.8 758.2L286.9 757.7L287 757.3L287.1 756.9L287.2 756.5L287.3 756.1L287.5 755.8L287.6 755.4L287.8 755.1L288 754.9L288.2 754.6L288.4 754.4L288.6 754.3L288.8 754.1" fill="none" stroke="#1a1a1a" stroke-width="1"/>
<path d="M291.9 768.2L291.6 768.1L291.4 768L291.1 767.9L290.9 767.7L290.6 767.5L290.4 767.3L290.1 767L289.9 766.7L289.7 766.4L289.4 766L289.2 765.7L289 765.3L288.9 764.9L288.7 764.4L288.5 764L288.4 763.5L288.3 763L288.1 762.6L288 762.1L288 761.6L287.9 761.1L287.9 760.6L287.8 760.1L287.8 759.6L287.8 759.1L287.9 758.6L287.9 758.2L288 757.7L288.1 757.3L288.2 756.9L288.3 756.5L288.4 756.1L288.5 755.8L288.7 755.4L288.9 755.1L289.1 754.9L289.3 754.6L289.5 754.4L289.7 754.3L289.9 754.1" fill="none" stroke="#1a1a1a" stroke-width="1"/>
<path d="M293 768.2L292.7 768.1L292.5 768L292.2 767.9L292 767.7L291.7 767.5L291.5 767.3L291.2 767L291 766.7L290.8 766.4L290.5 766L290.3 765.7L290.1 765.3L289.9 764.9L289.8 764.4L289.6 764L289.5 763.5L289.3 763L289.2 762.6L289.1 762.1L289.1 761.6L289 761.1L289 760.6L288.9 760.1L288.9 759.6L288.9 759.1L289 758.6L289 758.2L289.1 757.7L289.2 757.3L289.3 756.9L289.4 756.5L289.5 756.1L289.6 755.8L289.8 755.4L290 755.1L290.2 754.9L290.4 754.6L290.6 754.4L290.8 754.3L291 754.1" fill="none" stroke="#1a1a1a" stroke-width="1"/>
<path d="M259.3 766.8L296.4 759.3" fill="none" stroke="#1a1a1a" stroke-width="1.8"/>
<path d="M296.8 755.4L302.6 754.7L303.8 771.1L297.5 769.9Z" fill="#fff" stroke="#1a1a1a" stroke-width="1.4" stroke-linejoin="round"/>
<path d="M297.5 769.9C297.2 769.7 296.2 769.4 295.6 768.7C295 768 294.3 766.1 294 765.6" fill="none" stroke="#1a1a1a" stroke-width="1.3" stroke-linejoin="round" stroke-linecap="round"/>
<path d="M262.8 743.1L263.2 748.8L300.7 754.3L301.1 748.4Z" fill="#fff" stroke="#1a1a1a" stroke-width="1.5" stroke-linejoin="round"/>
<path d="M262.8 743.1L280.8 741.7L309.6 746.9L301.1 748.4Z" fill="#fff" stroke="#1a1a1a" stroke-width="1.4" stroke-linejoin="round"/>
<path d="M300.7 748.4L308.9 747.2L308.9 751.9L306.9 752.3L306.9 769.5L309.3 769.9L309.3 771.8L301.8 771.2L300.7 754.3Z" fill="#fff" stroke="#1a1a1a" stroke-width="1.5" stroke-linejoin="round"/>
<path d="M303.8 752.3L304 770.3" fill="none" stroke="#1a1a1a" stroke-width="1.2"/>
<path d="M317.1 748.8L322.1 750L322.5 765.7L316.7 764Z" fill="#fff" stroke="#1a1a1a" stroke-width="1.5" stroke-linejoin="round"/>
<path d="M309.6 756.2C310.2 756.2 311.6 755.7 312.8 755.8C313.9 756 316 756.8 316.7 757" fill="none" stroke="#1a1a1a" stroke-width="1.3" stroke-linejoin="round" stroke-linecap="round"/>
<path d="M309.6 761.7C310.2 762 311.6 762.9 312.8 763.3C313.9 763.6 316 763.9 316.7 764" fill="none" stroke="#1a1a1a" stroke-width="1.3" stroke-linejoin="round" stroke-linecap="round"/>
<path d="M297.2 739.8L309.6 746.5L319.8 748.4L319.8 744.1L327.6 743.3L328.8 746.5L326 747.2L326 764L328.4 764.8L328 771.1L322.5 765.7L322.5 750L317.1 748.8L308.9 747.2Z" fill="#fff" stroke="#1a1a1a" stroke-width="1.5" stroke-linejoin="round"/>
<path d="M305.7 739.4L319.8 744.1" fill="none" stroke="#1a1a1a" stroke-width="1.3" stroke-linejoin="round"/>
<path d="M297.2 739.8L305.7 739.4L322.1 734.4L328.4 740.6L329.2 746.1L328.8 746.5" fill="#fff" stroke="#1a1a1a" stroke-width="1.4" stroke-linejoin="round"/>
<path d="M319.8 744.1L322.1 734.4" fill="none" stroke="#1a1a1a" stroke-width="0" stroke-linejoin="round"/>
<path d="M327.6 743.3L328.4 740.6" fill="none" stroke="#1a1a1a" stroke-width="1.3" stroke-linejoin="round"/>
<path d="M339.7 740.6C339.7 746.5 340 767.9 339.7 775.7C339.4 783.5 339.4 782.9 337.7 787.5C336.1 792 331.2 800.5 329.9 803.1" fill="none" stroke="#1a1a1a" stroke-width="2" stroke-linejoin="round" stroke-linecap="round"/>
<path d="M348.7 740.6L348.7 759.3L340.9 763.3" fill="none" stroke="#1a1a1a" stroke-width="1.3" stroke-linejoin="round"/>
<path d="M343.2 741L343.2 761.7" fill="none" stroke="#1a1a1a" stroke-width="1.2"/>
<path d="M326.9 752.3L444.5 730.2" fill="none" stroke="#1a1a1a" stroke-width="1.5"/>
<path d="M448.6 722.7L469 719.1L469 733.1L449.4 736.7Z" fill="#fff" stroke="none" stroke-width="0" stroke-linejoin="round"/>
<path d="M448.6 722.7L469 719.1" fill="none" stroke="#1a1a1a" stroke-width="1.5"/>
<path d="M449.4 736.7L469.6 732.9" fill="none" stroke="#1a1a1a" stroke-width="1.5"/>
<path d="M468 719.2L468.3 719.2L468.6 719.2L468.9 719.2L469.2 719.3L469.5 719.5L469.9 719.7L470.2 719.9L470.5 720.1L470.8 720.4L471.1 720.7L471.3 721.1L471.6 721.5L471.8 721.9L472.1 722.4L472.3 722.8L472.5 723.3L472.7 723.8L472.8 724.4L472.9 724.9L473 725.4L473.1 726L473.2 726.5L473.2 727.1L473.2 727.6L473.2 728.1L473.2 728.6L473.1 729.1L473 729.6L472.9 730.1L472.8 730.5L472.6 730.9L472.4 731.3L472.2 731.6L472 731.9L471.8 732.2L471.5 732.4L471.3 732.6L471 732.8L470.7 732.9L470.4 733" fill="none" stroke="#1a1a1a" stroke-width="1.5"/>
<ellipse cx="448.6" cy="729.7" rx="4" ry="7" transform="rotate(-10 448.6 729.7)" fill="#fff" stroke="#1a1a1a" stroke-width="1.5"/>
<path d="M460 721.1C460.3 721.3 461.2 722.2 462 722.3C462.8 722.4 464.1 721.6 464.5 721.5" fill="none" stroke="#1a1a1a" stroke-width="1.2" stroke-linejoin="round" stroke-linecap="round"/>
<path d="M461 734.1C461.3 733.8 462.2 732.7 463 732.5C463.8 732.3 465.5 733 466 733.1" fill="none" stroke="#1a1a1a" stroke-width="1.2" stroke-linejoin="round" stroke-linecap="round"/>
<ellipse cx="373.4" cy="938.9" rx="5.6" ry="7.4" transform="rotate(-20 373.4 938.9)" fill="#fff" stroke="#1a1a1a" stroke-width="1.5"/>
<ellipse cx="373.9" cy="938.9" rx="3" ry="4.2" transform="rotate(-20 373.9 938.9)" fill="none" stroke="#1a1a1a" stroke-width="1.3"/>
<ellipse cx="373.9" cy="938.9" rx="1.3" ry="2" transform="rotate(-20 373.9 938.9)" fill="none" stroke="#1a1a1a" stroke-width="1"/>
<path d="M341.8 946.9L363.7 939.3L365.1 944.5L343.9 952.2Z" fill="#fff" stroke="#1a1a1a" stroke-width="1.4" stroke-linejoin="round"/>
<path d="M342.6 946.6L344.6 952" fill="none" stroke="#333" stroke-width="1.2"/>
<path d="M344.5 946L346.5 951.4" fill="none" stroke="#333" stroke-width="1.2"/>
<path d="M346.5 945.3L348.5 950.7" fill="none" stroke="#333" stroke-width="1.2"/>
<path d="M348.4 944.6L350.4 950" fill="none" stroke="#333" stroke-width="1.2"/>
<path d="M350.3 943.9L352.3 949.3" fill="none" stroke="#333" stroke-width="1.2"/>
<path d="M352.2 943.2L354.2 948.6" fill="none" stroke="#333" stroke-width="1.2"/>
<path d="M354.1 942.6L356.1 948" fill="none" stroke="#333" stroke-width="1.2"/>
<path d="M356 941.9L358 947.3" fill="none" stroke="#333" stroke-width="1.2"/>
<path d="M358 941.2L360 946.6" fill="none" stroke="#333" stroke-width="1.2"/>
<path d="M359.9 940.5L361.9 945.9" fill="none" stroke="#333" stroke-width="1.2"/>
<path d="M361.8 939.9L363.8 945.3" fill="none" stroke="#333" stroke-width="1.2"/>
<path d="M363.7 939.2L365.7 944.6" fill="none" stroke="#333" stroke-width="1.2"/>
<path d="M332.7 949.3L341.8 945.6L344.9 957.2L335.8 960.8Z" fill="#fff" stroke="none" stroke-width="0" stroke-linejoin="round"/>
<path d="M332.7 949.3L341.8 945.6" fill="none" stroke="#1a1a1a" stroke-width="1.5"/>
<path d="M335.8 960.8L344.6 957.2" fill="none" stroke="#1a1a1a" stroke-width="1.5"/>
<path d="M340.9 946L341.2 945.9L341.5 945.8L341.8 945.7L342.2 945.7L342.5 945.7L342.8 945.7L343.2 945.8L343.5 945.9L343.9 946.1L344.2 946.2L344.6 946.4L344.9 946.7L345.2 946.9L345.5 947.2L345.8 947.6L346.1 947.9L346.3 948.3L346.6 948.7L346.8 949.1L347 949.5L347.2 949.9L347.3 950.4L347.4 950.8L347.5 951.2L347.6 951.7L347.6 952.1L347.7 952.6L347.7 953L347.6 953.4L347.5 953.9L347.5 954.3L347.3 954.6L347.2 955L347 955.3L346.8 955.7L346.6 955.9L346.4 956.2L346.1 956.4L345.9 956.6L345.6 956.8" fill="none" stroke="#1a1a1a" stroke-width="1.4"/>
<ellipse cx="334.2" cy="955.1" rx="4.3" ry="6" transform="rotate(-20 334.2 955.1)" fill="#fff" stroke="#1a1a1a" stroke-width="1.7"/>
<ellipse cx="334" cy="955.3" rx="2.5" ry="3.7" transform="rotate(-20 334 955.3)" fill="none" stroke="#1a1a1a" stroke-width="1.3"/>
<ellipse cx="334" cy="955.3" rx="1" ry="1.6" transform="rotate(-20 334 955.3)" fill="none" stroke="#1a1a1a" stroke-width="1"/>
<ellipse cx="194.9" cy="960.1" rx="4.4" ry="8.8" transform="rotate(-8 194.9 960.1)" fill="#fff" stroke="#1a1a1a" stroke-width="1.7"/>
<ellipse cx="194.9" cy="960.1" rx="2.8" ry="6.6" transform="rotate(-8 194.9 960.1)" fill="none" stroke="#1a1a1a" stroke-width="1.3"/>
<path d="M177.3 956.9C178 956.7 179.9 955.3 181.2 955.4C182.5 955.4 184.2 956.1 185.1 957.3C186.1 958.6 186.9 961 187.1 962.8C187.3 964.6 187 967 186.3 968.3C185.6 969.5 184 969.8 182.8 970.2C181.6 970.6 179.5 970.5 178.9 970.6" fill="#777" stroke="#1a1a1a" stroke-width="1.5" stroke-linejoin="round" stroke-linecap="round"/>
<path d="M180.1 956.2L180.6 970.2" fill="none" stroke="#222" stroke-width="1.2"/>
<path d="M181.8 956.6L182.3 969.6" fill="none" stroke="#222" stroke-width="1.2"/>
<path d="M183.5 957.1L184 969" fill="none" stroke="#222" stroke-width="1.2"/>
<path d="M185.2 957.6L185.8 968.3" fill="none" stroke="#222" stroke-width="1.2"/>
<path d="M171.1 953.4C171.5 951.2 174.5 953.9 175.8 955.8C177 957.6 178 961.4 178.5 964.3C179 967.3 179.3 971.8 178.9 973.7C178.4 975.6 176.7 976.4 175.8 975.7C174.9 974.9 174.2 972.7 173.4 969C172.6 965.3 170.7 955.6 171.1 953.4Z" fill="#fff" stroke="#1a1a1a" stroke-width="1.5" stroke-linejoin="round" stroke-linecap="round"/>
<path d="M157.4 959.7L162.5 955L171.1 953.4L175.8 955.8L177.3 961.2L178.1 973.7L175.8 975.7L164.1 978.4L158.6 971.4Z" fill="#fff" stroke="#1a1a1a" stroke-width="1.8" stroke-linejoin="round"/>
<path d="M160.5 959.3L166.8 976.1" fill="none" stroke="#1a1a1a" stroke-width="1.4" stroke-linejoin="round"/>
<path d="M164.1 956.5L169.5 963.2L175.8 961.6" fill="none" stroke="#1a1a1a" stroke-width="1.3" stroke-linejoin="round"/>
<path d="M169.5 963.2L168.7 975.4" fill="none" stroke="#1a1a1a" stroke-width="1.3" stroke-linejoin="round"/>
<path d="M157.4 959.7L160.5 959.3L164.1 956.5" fill="none" stroke="#1a1a1a" stroke-width="1.2" stroke-linejoin="round"/>
<!-- p_strainer -->
<path d="M292.5 300.1C292.6 301.2 292.4 304.9 293.1 306.5C293.7 308 294.5 309 296.5 309.7C298.4 310.4 301.8 310.8 304.9 310.8C307.9 310.8 312.5 310.3 314.7 309.7C316.9 309.1 317.6 309.2 318.2 307.2C318.8 305.1 318.4 299.2 318.4 297.6" fill="#fff" stroke="#1a1a1a" stroke-width="1.7" stroke-linejoin="round" stroke-linecap="round"/>
<path d="M293.1 302.7C294.4 303 297.8 304.4 300.7 304.6C303.6 304.9 307.6 304.5 310.5 304.1C313.4 303.6 316.8 302.2 318.1 301.8" fill="none" stroke="#1a1a1a" stroke-width="1" stroke-linejoin="round" stroke-linecap="round"/>
<path d="M277.5 283.3C277.6 281.5 277.8 280.7 278.9 279.8C279.9 278.8 281.6 277.9 283.8 277.4C286 276.8 289.4 276.8 292.2 276.5C295.1 276.3 297.6 276.2 300.7 276C303.7 275.7 307.8 275.2 310.5 275.1C313.2 275 315.1 275 316.8 275.5C318.6 276.1 319.1 277.4 321 278.3C323 279.3 326.7 280.1 328.8 281.2C330.9 282.2 332.6 283.3 333.7 284.7C334.8 286.1 335.1 287.8 335.2 289.6C335.4 291.3 335.7 294 334.4 295.2C333.1 296.5 329.9 296.8 327.4 297C324.8 297.3 321.7 296.3 318.9 296.6C316.1 296.9 313.6 298.1 310.5 298.7C307.5 299.4 303.5 300.1 300.7 300.4C297.9 300.7 295.5 300.7 293.6 300.4C291.8 300.1 290.4 299.8 289.4 298.4C288.5 297.1 289.2 293.4 288 292.4C286.9 291.4 284 292.8 282.4 292.4C280.8 292 279 291.8 278.2 290.3C277.4 288.8 277.4 285 277.5 283.3Z" fill="#fff" stroke="#1a1a1a" stroke-width="1.8" stroke-linejoin="round" stroke-linecap="round"/>
<path d="M288.3 292.4C288.5 291.7 288.6 289.5 289.4 288.2C290.2 286.9 292.6 285.9 293.1 284.7C293.6 283.4 292.6 281.4 292.5 280.7" fill="none" stroke="#1a1a1a" stroke-width="1.3" stroke-linejoin="round" stroke-linecap="round"/>
<path d="M289.4 291.4C290.6 291.6 293.9 293.1 296.5 292.5C299 292 301.6 289.6 304.9 288.3C308.2 287.1 312.9 285.3 316.1 285C319.4 284.6 321.6 285.5 324.6 286.1C327.6 286.7 332.5 288.2 334.1 288.6" fill="none" stroke="#1a1a1a" stroke-width="1.3" stroke-linejoin="round" stroke-linecap="round"/>
<path d="M299.3 289.6L299.5 292.5" fill="none" stroke="#1a1a1a" stroke-width="0.9"/>
<path d="M307 289.7L307.3 292.5" fill="none" stroke="#1a1a1a" stroke-width="0.9"/>
<path d="M314.7 289.9L315 292.5" fill="none" stroke="#1a1a1a" stroke-width="0.9"/>
<path d="M321.7 290L322 292.5" fill="none" stroke="#1a1a1a" stroke-width="0.9"/>
<path d="M328.1 290.2L328.4 292.5" fill="none" stroke="#1a1a1a" stroke-width="0.9"/>
<path d="M282.4 281.9C283.1 281.8 285.5 281.3 286.6 281.3C287.8 281.3 289 282 289.4 282.1" fill="none" stroke="#1a1a1a" stroke-width="0.9" stroke-linejoin="round" stroke-linecap="round"/>
<path d="M307.7 281.9C308.9 281.7 312.6 280.7 314.7 280.7C316.8 280.7 319.4 281.7 320.3 281.9" fill="none" stroke="#1a1a1a" stroke-width="0.9" stroke-linejoin="round" stroke-linecap="round"/>
<path d="M300.4 310.8L300.4 343.5Q305.3 346.0 310.2 343.5L310.2 310.8" fill="#fff" stroke="#1a1a1a" stroke-width="1.4"/>
<path d="M300.9 312.3L309.7 311.7" fill="none" stroke="#333" stroke-width="1.1"/>
<path d="M300.9 314.2L309.7 313.6" fill="none" stroke="#333" stroke-width="1.1"/>
<path d="M300.9 316.1L309.7 315.5" fill="none" stroke="#333" stroke-width="1.1"/>
<path d="M300.9 318L309.7 317.4" fill="none" stroke="#333" stroke-width="1.1"/>
<path d="M300.9 319.9L309.7 319.3" fill="none" stroke="#333" stroke-width="1.1"/>
<path d="M300.9 321.8L309.7 321.2" fill="none" stroke="#333" stroke-width="1.1"/>
<path d="M300.9 323.7L309.7 323.1" fill="none" stroke="#333" stroke-width="1.1"/>
<path d="M300.9 325.6L309.7 325" fill="none" stroke="#333" stroke-width="1.1"/>
<path d="M300.9 327.5L309.7 326.9" fill="none" stroke="#333" stroke-width="1.1"/>
<path d="M300.9 329.4L309.7 328.8" fill="none" stroke="#333" stroke-width="1.1"/>
<path d="M300.9 331.3L309.7 330.7" fill="none" stroke="#333" stroke-width="1.1"/>
<path d="M300.9 333.2L309.7 332.6" fill="none" stroke="#333" stroke-width="1.1"/>
<path d="M300.9 335.1L309.7 334.5" fill="none" stroke="#333" stroke-width="1.1"/>
<path d="M300.9 337L309.7 336.4" fill="none" stroke="#333" stroke-width="1.1"/>
<path d="M300.9 338.9L309.7 338.3" fill="none" stroke="#333" stroke-width="1.1"/>
<path d="M300.9 340.8L309.7 340.2" fill="none" stroke="#333" stroke-width="1.1"/>
<path d="M300.9 342.7L309.7 342.1" fill="none" stroke="#333" stroke-width="1.1"/>
<path d="M303.8 311.8L303.8 343.5" fill="none" stroke="#999" stroke-width="0.8"/>
<ellipse cx="259.5" cy="421" rx="67.4" ry="17.5" fill="#fff" stroke="#1a1a1a" stroke-width="1.7"/>
<ellipse cx="259.5" cy="421" rx="63" ry="13.8" fill="none" stroke="#1a1a1a" stroke-width="1.4"/>
<path d="M336.9 373.9L336.9 383.7L336.7 385.2L336.3 386.8L335.5 388.3L334.5 389.8L333.1 391.3L331.5 392.8L329.5 394.2L327.3 395.6L324.9 396.9L322.1 398.2L319.2 399.4L315.9 400.5L312.5 401.6L308.9 402.7L305 403.6L301 404.5L296.8 405.3L292.5 406L288.1 406.6L283.5 407.1L278.8 407.5L274.1 407.9L269.3 408.1L264.5 408.3L259.6 408.3L254.7 408.3L249.9 408.1L245.1 407.9L240.4 407.5L235.7 407.1L231.1 406.6L226.7 406L222.4 405.3L218.2 404.5L214.2 403.6L210.3 402.7L206.7 401.6L203.3 400.5L200 399.4L197.1 398.2L194.3 396.9L191.9 395.6L189.7 394.2L187.7 392.8L186.1 391.3L184.7 389.8L183.7 388.3L182.9 386.8L182.5 385.2L182.3 383.7L182.3 373.9Z" fill="#fff" stroke="#1a1a1a" stroke-width="1.7"/>
<path d="M191.1 366.2L200.2 360.5L203.7 354.9L205.1 348.2L212.2 346.5L216.4 349.3L222.7 351L222.3 346.1L224.1 343.7L229.7 343.3L232.5 345.8L236 347.3L243.1 350.4L248.7 354.9L226.2 363.4Z" fill="#fff" stroke="#1a1a1a" stroke-width="1.7" stroke-linejoin="round"/>
<ellipse cx="259.6" cy="373.9" rx="77.3" ry="24.6" fill="#fff" stroke="#1a1a1a" stroke-width="1.7"/>
<path d="M200.2 360.5L203.7 354.9L205.1 348.2L212.2 346.5L216.4 349.3L222.7 351L222.3 346.1L224.1 343.7L229.7 343.3L232.5 345.8L236 347.3L243.1 350.4" fill="#fff" stroke="#1a1a1a" stroke-width="1.7" stroke-linejoin="round"/>
<path d="M201.2 361.1L204.6 355.5L206 349.3L212.2 347.6L216.4 350.4L223.4 351.8L231.8 347.1L235.3 348.5L241.9 351L237.4 354.9L212.2 362Z" fill="#fff" stroke="none" stroke-width="0" stroke-linejoin="round"/>
<path d="M206.5 349.3C207.5 349.9 210.3 352.4 212.2 352.8C214 353.2 216.1 352.4 217.8 351.8C219.5 351.2 221.5 349.7 222.3 349.3" fill="none" stroke="#1a1a1a" stroke-width="1.2" stroke-linejoin="round" stroke-linecap="round"/>
<path d="M216.4 349.3C216.8 349.5 217.8 350.4 219.2 350.4C220.6 350.5 223.2 350.1 224.8 349.6C226.4 349 228.5 347.9 229 347.2C229.5 346.4 227.8 345.4 227.6 345.1" fill="none" stroke="#1a1a1a" stroke-width="1.2" stroke-linejoin="round" stroke-linecap="round"/>
<path d="M205.1 353.5L210.7 357" fill="none" stroke="#1a1a1a" stroke-width="1"/>
<ellipse cx="258.5" cy="373.2" rx="61" ry="19" fill="none" stroke="#1a1a1a" stroke-width="1.5"/>
<path d="M336.8 373.2L336.4 379.1L327.4 384.4L328.8 390.3" fill="none" stroke="#1a1a1a" stroke-width="1.4" stroke-linejoin="round"/>
<path d="M269.1 381.6L282.4 379.1L299.3 376L313.3 384.4L330.2 392.2L330.2 405.5L322.5 408.3L320.3 402L309.1 397.1L308.4 411.1L298.6 413.9L297.2 405.5L276.8 391.5Z" fill="#fff" stroke="#1a1a1a" stroke-width="1.7" stroke-linejoin="round"/>
<path d="M297.2 405.5L300.7 399.9L308.4 397.8" fill="none" stroke="#1a1a1a" stroke-width="1.3" stroke-linejoin="round"/>
<path d="M300.7 399.9L301.4 412.5" fill="none" stroke="#1a1a1a" stroke-width="1.2" stroke-linejoin="round"/>
<path d="M320.3 402L321.7 395L330.2 392.2" fill="none" stroke="#1a1a1a" stroke-width="1.3" stroke-linejoin="round"/>
<path d="M308.4 397.8C308.4 396.7 309.2 393 308.4 391.5C307.6 389.9 305.4 388.9 303.5 388.6C301.6 388.4 298.8 389.4 297.2 390.1C295.5 390.8 293.1 391.2 293.6 392.9C294.2 394.5 299.5 398.7 300.7 399.9" fill="none" stroke="#1a1a1a" stroke-width="1.3" stroke-linejoin="round" stroke-linecap="round"/>
<path d="M292.2 389.8C292.9 389.3 294.4 387.4 296.5 386.7C298.6 386 301.8 385.5 304.9 385.6C307.9 385.7 312 386.1 314.7 387.2C317.5 388.3 320.3 390.9 321.5 392.2C322.6 393.4 321.7 394.5 321.7 395" fill="none" stroke="#1a1a1a" stroke-width="1.3" stroke-linejoin="round" stroke-linecap="round"/>
<path d="M311.2 388.6C312 388.9 314.8 389.2 316.1 390.1C317.4 390.9 318.5 393 318.9 393.6" fill="none" stroke="#1a1a1a" stroke-width="1" stroke-linejoin="round" stroke-linecap="round"/>
<path d="M276.8 385.1L293.6 404.1" fill="none" stroke="#1a1a1a" stroke-width="1"/>
<path d="M286.6 402.7L297.2 405.5" fill="none" stroke="#1a1a1a" stroke-width="1"/>
<path d="M198.6 573L205.5 699.7L205.7 700.8L206.2 701.8L207 702.9L208.1 703.9L209.6 704.9L211.4 705.8L213.5 706.8L215.8 707.6L218.4 708.5L221.3 709.2L224.4 710L227.8 710.6L231.3 711.2L235 711.7L238.8 712.2L242.8 712.5L246.9 712.8L251.1 713L255.3 713.2L259.5 713.2L263.7 713.2L267.9 713L272.1 712.8L276.2 712.5L280.2 712.2L284 711.7L287.7 711.2L291.2 710.6L294.6 710L297.7 709.2L300.6 708.5L303.2 707.6L305.5 706.8L307.6 705.8L309.4 704.9L310.9 703.9L312 702.9L312.8 701.8L313.3 700.8L313.5 699.7L319 573" fill="#fff" stroke="#1a1a1a" stroke-width="1.8" stroke-linejoin="round"/>
<path d="M198.6 573.3L198.8 574.3L199.3 575.2L200 576.2L201 577.2L202.3 578.1L203.8 579.1L205.5 580L207.5 580.8L209.7 581.7L212.1 582.5L214.7 583.2L217.6 583.9L220.6 584.6L223.7 585.2L227.1 585.7L230.5 586.2" fill="none" stroke="#111" stroke-width="1.4"/>
<path d="M230.5 586.2L234.6 586.7L238.9 587.2L243.2 587.5L247.7 587.7L252.2 587.9L256.7 588L261.3 588L265.8 587.9L270.3 587.7L274.7 587.5L279.1 587.1L283.3 586.7" fill="none" stroke="#111" stroke-width="1"/>
<path d="M283.3 586.7L287.1 586.2L290.8 585.7L294.3 585.1L297.7 584.4L300.9 583.7L303.8 583L306.5 582.1L309 581.3L311.2 580.4L313.2 579.4L314.9 578.5L316.3 577.4L317.4 576.4L318.2 575.4L318.8 574.3L319 573.3" fill="none" stroke="#111" stroke-width="1.3"/>
<path d="M198.7 575.3L198.9 576.3L199.4 577.3L200.1 578.3L201.1 579.3L202.4 580.2L203.9 581.1L205.6 582L207.6 582.9L209.8 583.7L212.2 584.5L214.8 585.3L217.6 586L220.6 586.6L223.8 587.2L227.1 587.8L230.6 588.3" fill="none" stroke="#111" stroke-width="1.4"/>
<path d="M230.6 588.3L234.7 588.8L238.9 589.2L243.3 589.5L247.7 589.8L252.2 590L256.7 590L261.3 590L265.8 590L270.3 589.8L274.7 589.5L279 589.2L283.3 588.8" fill="none" stroke="#111" stroke-width="1"/>
<path d="M283.3 588.8L287.1 588.3L290.8 587.8L294.3 587.2L297.6 586.5L300.8 585.8L303.7 585L306.5 584.2L308.9 583.3L311.2 582.4L313.1 581.5L314.8 580.5L316.2 579.5L317.3 578.5L318.1 577.5L318.7 576.4L318.9 575.3" fill="none" stroke="#111" stroke-width="1.3"/>
<path d="M198.8 577.4L199 578.4L199.5 579.4L200.2 580.4L201.2 581.3L202.5 582.3L204 583.2L205.7 584.1L207.7 585L209.9 585.8L212.3 586.6L214.9 587.3L217.7 588L220.7 588.7L223.9 589.3L227.2 589.9L230.7 590.4" fill="none" stroke="#111" stroke-width="1.4"/>
<path d="M230.7 590.4L234.7 590.8L239 591.3L243.3 591.6L247.7 591.8L252.2 592L256.7 592.1L261.3 592.1L265.8 592L270.3 591.8L274.7 591.6L279 591.2L283.2 590.8" fill="none" stroke="#111" stroke-width="1"/>
<path d="M283.2 590.8L287 590.3L290.7 589.8L294.2 589.2L297.6 588.6L300.7 587.9L303.7 587.1L306.4 586.3L308.9 585.4L311.1 584.5L313 583.6L314.7 582.6L316.1 581.6L317.2 580.6L318.1 579.5L318.6 578.5L318.8 577.4" fill="none" stroke="#111" stroke-width="1.3"/>
<path d="M198.9 579.5L199.2 580.5L199.6 581.5L200.3 582.4L201.3 583.4L202.6 584.4L204.1 585.3L205.8 586.2L207.8 587L210 587.9L212.4 588.6L215 589.4L217.8 590.1L220.8 590.8L223.9 591.4L227.3 591.9L230.7 592.4" fill="none" stroke="#111" stroke-width="1.4"/>
<path d="M230.7 592.4L234.8 592.9L239 593.3L243.3 593.6L247.7 593.9L252.2 594.1L256.7 594.1L261.3 594.1L265.8 594.1L270.3 593.9L274.7 593.6L279 593.3L283.2 592.9" fill="none" stroke="#111" stroke-width="1"/>
<path d="M283.2 592.9L287 592.4L290.7 591.9L294.2 591.3L297.5 590.6L300.7 589.9L303.6 589.1L306.3 588.3L308.8 587.5L311 586.6L313 585.6L314.6 584.7L316 583.7L317.1 582.6L318 581.6L318.5 580.5L318.7 579.5" fill="none" stroke="#111" stroke-width="1.3"/>
<path d="M199.1 581.6L199.3 582.6L199.7 583.5L200.5 584.5L201.4 585.5L202.7 586.4L204.2 587.3L205.9 588.2L207.9 589.1L210.1 589.9L212.5 590.7L215.1 591.5L217.9 592.2L220.9 592.8L224 593.4L227.3 594L230.8 594.5" fill="none" stroke="#111" stroke-width="1.4"/>
<path d="M230.8 594.5L234.8 595L239.1 595.4L243.4 595.7L247.8 596L252.2 596.1L256.8 596.2L261.3 596.2L265.8 596.1L270.3 595.9L274.7 595.7L279 595.3L283.2 594.9" fill="none" stroke="#111" stroke-width="1"/>
<path d="M283.2 594.9L287 594.5L290.6 593.9L294.1 593.3L297.5 592.7L300.6 592L303.5 591.2L306.2 590.4L308.7 589.5L310.9 588.6L312.9 587.7L314.6 586.7L315.9 585.7L317.1 584.7L317.9 583.7L318.4 582.6L318.6 581.6" fill="none" stroke="#111" stroke-width="1.3"/>
<path d="M199.2 583.6L199.4 584.6L199.8 585.6L200.6 586.6L201.6 587.5L202.8 588.5L204.3 589.4L206 590.3L208 591.2L210.1 592L212.6 592.8L215.2 593.5L218 594.2L220.9 594.9L224.1 595.5L227.4 596L230.8 596.5" fill="none" stroke="#111" stroke-width="1.4"/>
<path d="M230.8 596.5L234.9 597L239.1 597.4L243.4 597.8L247.8 598L252.3 598.2L256.8 598.3L261.3 598.2L265.8 598.2L270.2 598L274.6 597.7L278.9 597.4L283.1 597" fill="none" stroke="#111" stroke-width="1"/>
<path d="M283.1 597L286.9 596.5L290.6 596L294.1 595.4L297.4 594.7L300.6 594L303.5 593.3L306.2 592.5L308.6 591.6L310.8 590.7L312.8 589.8L314.5 588.8L315.9 587.8L317 586.8L317.8 585.7L318.3 584.7L318.5 583.6" fill="none" stroke="#111" stroke-width="1.3"/>
<path d="M199.3 585.7L199.5 586.7L200 587.7L200.7 588.7L201.7 589.6L202.9 590.6L204.4 591.5L206.1 592.4L208.1 593.2L210.2 594L212.6 594.8L215.2 595.6L218 596.3L221 596.9L224.2 597.5L227.5 598.1L230.9 598.6" fill="none" stroke="#111" stroke-width="1.4"/>
<path d="M230.9 598.6L234.9 599.1L239.1 599.5L243.4 599.8L247.8 600.1L252.3 600.2L256.8 600.3L261.3 600.3L265.8 600.2L270.2 600L274.6 599.8L278.9 599.4L283.1 599" fill="none" stroke="#111" stroke-width="1"/>
<path d="M283.1 599L286.9 598.6L290.6 598L294.1 597.4L297.4 596.8L300.5 596.1L303.4 595.3L306.1 594.5L308.6 593.7L310.8 592.8L312.7 591.8L314.4 590.9L315.8 589.9L316.9 588.9L317.7 587.8L318.2 586.8L318.4 585.7" fill="none" stroke="#111" stroke-width="1.3"/>
<path d="M199.4 587.8L199.6 588.8L200.1 589.8L200.8 590.7L201.8 591.7L203 592.6L204.5 593.5L206.2 594.4L208.2 595.3L210.3 596.1L212.7 596.9L215.3 597.6L218.1 598.3L221.1 599L224.2 599.6L227.5 600.1L231 600.6" fill="none" stroke="#111" stroke-width="1.4"/>
<path d="M231 600.6L235 601.1L239.2 601.5L243.5 601.9L247.9 602.1L252.3 602.3L256.8 602.4L261.3 602.4L265.8 602.3L270.2 602.1L274.6 601.8L278.9 601.5L283.1 601.1" fill="none" stroke="#111" stroke-width="1"/>
<path d="M283.1 601.1L286.9 600.6L290.5 600.1L294 599.5L297.3 598.9L300.4 598.1L303.3 597.4L306 596.6L308.5 595.7L310.7 594.8L312.6 593.9L314.3 592.9L315.7 591.9L316.8 590.9L317.6 589.9L318.1 588.8L318.4 587.8" fill="none" stroke="#111" stroke-width="1.3"/>
<path d="M199.5 589.9L199.7 590.9L200.2 591.8L200.9 592.8L201.9 593.8L203.1 594.7L204.6 595.6L206.3 596.5L208.3 597.4L210.4 598.2L212.8 599L215.4 599.7L218.2 600.4L221.2 601L224.3 601.6L227.6 602.2L231 602.7" fill="none" stroke="#111" stroke-width="1.4"/>
<path d="M231 602.7L235.1 603.2L239.2 603.6L243.5 603.9L247.9 604.2L252.3 604.3L256.8 604.4L261.3 604.4L265.8 604.3L270.2 604.1L274.6 603.9L278.9 603.6L283 603.1" fill="none" stroke="#111" stroke-width="1"/>
<path d="M283 603.1L286.8 602.7L290.5 602.2L294 601.6L297.3 600.9L300.4 600.2L303.3 599.4L306 598.6L308.4 597.8L310.6 596.9L312.5 596L314.2 595L315.6 594L316.7 593L317.5 592L318 590.9L318.3 589.9" fill="none" stroke="#111" stroke-width="1.3"/>
<path d="M199.6 592L199.8 592.9L200.3 593.9L201 594.9L202 595.8L203.2 596.8L204.7 597.7L206.4 598.6L208.4 599.4L210.5 600.2L212.9 601L215.5 601.8L218.3 602.5L221.2 603.1L224.4 603.7L227.7 604.3L231.1 604.7" fill="none" stroke="#111" stroke-width="1.4"/>
<path d="M231.1 604.7L235.1 605.2L239.3 605.6L243.6 606L247.9 606.2L252.4 606.4L256.8 606.5L261.3 606.5L265.8 606.4L270.2 606.2L274.6 605.9L278.9 605.6L283 605.2" fill="none" stroke="#111" stroke-width="1"/>
<path d="M283 605.2L286.8 604.7L290.4 604.2L293.9 603.6L297.2 603L300.3 602.3L303.2 601.5L305.9 600.7L308.3 599.9L310.5 599L312.5 598L314.1 597.1L315.5 596.1L316.6 595.1L317.4 594L318 593L318.2 592" fill="none" stroke="#111" stroke-width="1.3"/>
<path d="M199.7 594L199.9 595L200.4 596L201.1 596.9L202.1 597.9L203.3 598.8L204.8 599.7L206.5 600.6L208.5 601.5L210.6 602.3L213 603.1L215.6 603.8L218.4 604.5L221.3 605.2L224.4 605.8L227.7 606.3L231.1 606.8" fill="none" stroke="#111" stroke-width="1.4"/>
<path d="M231.1 606.8L235.2 607.3L239.3 607.7L243.6 608L248 608.3L252.4 608.4L256.8 608.5L261.3 608.5L265.8 608.4L270.2 608.3L274.6 608L278.8 607.7L283 607.2" fill="none" stroke="#111" stroke-width="1"/>
<path d="M283 607.2L286.8 606.8L290.4 606.3L293.9 605.7L297.2 605L300.3 604.3L303.2 603.6L305.8 602.8L308.3 601.9L310.5 601L312.4 600.1L314.1 599.1L315.4 598.1L316.5 597.1L317.3 596.1L317.9 595.1L318.1 594" fill="none" stroke="#111" stroke-width="1.3"/>
<path d="M199.9 596.1L200.1 597.1L200.5 598.1L201.2 599L202.2 600L203.4 600.9L204.9 601.8L206.6 602.7L208.6 603.5L210.7 604.4L213.1 605.1L215.7 605.9L218.4 606.6L221.4 607.2L224.5 607.8L227.8 608.4L231.2 608.9" fill="none" stroke="#111" stroke-width="1.4"/>
<path d="M231.2 608.9L235.2 609.3L239.4 609.7L243.6 610.1L248 610.3L252.4 610.5L256.9 610.6L261.3 610.6L265.8 610.5L270.2 610.3L274.5 610.1L278.8 609.7L283 609.3" fill="none" stroke="#111" stroke-width="1"/>
<path d="M283 609.3L286.7 608.8L290.3 608.3L293.8 607.7L297.1 607.1L300.2 606.4L303.1 605.6L305.8 604.8L308.2 604L310.4 603.1L312.3 602.2L314 601.2L315.4 600.2L316.5 599.2L317.3 598.2L317.8 597.1L318 596.1" fill="none" stroke="#111" stroke-width="1.3"/>
<path d="M200 598.2L200.2 599.2L200.6 600.1L201.3 601.1L202.3 602L203.5 603L205 603.9L206.7 604.8L208.6 605.6L210.8 606.4L213.2 607.2L215.8 607.9L218.5 608.6L221.5 609.3L224.6 609.9L227.8 610.4L231.2 610.9" fill="none" stroke="#111" stroke-width="1.4"/>
<path d="M231.2 610.9L235.3 611.4L239.4 611.8L243.7 612.1L248 612.4L252.4 612.5L256.9 612.6L261.3 612.6L265.8 612.5L270.2 612.4L274.5 612.1L278.8 611.8L282.9 611.4" fill="none" stroke="#111" stroke-width="1"/>
<path d="M282.9 611.4L286.7 610.9L290.3 610.4L293.8 609.8L297 609.1L300.1 608.4L303 607.7L305.7 606.9L308.1 606L310.3 605.2L312.2 604.2L313.9 603.3L315.3 602.3L316.4 601.3L317.2 600.3L317.7 599.2L317.9 598.2" fill="none" stroke="#111" stroke-width="1.3"/>
<path d="M200.1 600.3L200.3 601.2L200.7 602.2L201.5 603.2L202.4 604.1L203.6 605L205.1 605.9L206.8 606.8L208.7 607.7L210.9 608.5L213.3 609.3L215.8 610L218.6 610.7L221.5 611.3L224.7 611.9L227.9 612.5L231.3 613" fill="none" stroke="#111" stroke-width="1.4"/>
<path d="M231.3 613L235.3 613.4L239.5 613.9L243.7 614.2L248.1 614.4L252.5 614.6L256.9 614.7L261.3 614.7L265.8 614.6L270.2 614.4L274.5 614.2L278.8 613.8L282.9 613.4" fill="none" stroke="#111" stroke-width="1"/>
<path d="M282.9 613.4L286.6 613L290.3 612.4L293.7 611.8L297 611.2L300.1 610.5L303 609.8L305.6 609L308 608.1L310.2 607.2L312.1 606.3L313.8 605.3L315.2 604.4L316.3 603.4L317.1 602.3L317.6 601.3L317.8 600.3" fill="none" stroke="#111" stroke-width="1.3"/>
<path d="M200.2 602.3L200.4 603.3L200.8 604.3L201.6 605.2L202.5 606.2L203.8 607.1L205.2 608L206.9 608.9L208.8 609.7L211 610.6L213.4 611.3L215.9 612.1L218.7 612.8L221.6 613.4L224.7 614L228 614.5L231.4 615" fill="none" stroke="#111" stroke-width="1.4"/>
<path d="M231.4 615L235.4 615.5L239.5 615.9L243.7 616.2L248.1 616.5L252.5 616.6L256.9 616.7L261.4 616.7L265.8 616.6L270.2 616.5L274.5 616.2L278.7 615.9L282.9 615.5" fill="none" stroke="#111" stroke-width="1"/>
<path d="M282.9 615.5L286.6 615L290.2 614.5L293.7 613.9L296.9 613.3L300 612.6L302.9 611.8L305.6 611L308 610.2L310.1 609.3L312.1 608.4L313.7 607.4L315.1 606.4L316.2 605.4L317 604.4L317.5 603.4L317.7 602.3" fill="none" stroke="#111" stroke-width="1.3"/>
<path d="M200.3 604.4L200.5 605.4L201 606.3L201.7 607.3L202.6 608.2L203.9 609.2L205.3 610.1L207 611L208.9 611.8L211.1 612.6L213.5 613.4L216 614.1L218.8 614.8L221.7 615.5L224.8 616L228 616.6L231.4 617.1" fill="none" stroke="#111" stroke-width="1.4"/>
<path d="M231.4 617.1L235.4 617.6L239.5 618L243.8 618.3L248.1 618.5L252.5 618.7L256.9 618.8L261.4 618.8L265.8 618.7L270.2 618.5L274.5 618.3L278.7 617.9L282.8 617.5" fill="none" stroke="#111" stroke-width="1"/>
<path d="M282.8 617.5L286.6 617.1L290.2 616.5L293.6 616L296.9 615.3L300 614.6L302.8 613.9L305.5 613.1L307.9 612.2L310.1 611.3L312 610.4L313.6 609.5L315 608.5L316.1 607.5L316.9 606.5L317.4 605.4L317.6 604.4" fill="none" stroke="#111" stroke-width="1.3"/>
<path d="M200.4 606.5L200.6 607.5L201.1 608.4L201.8 609.4L202.7 610.3L204 611.2L205.4 612.1L207.1 613L209 613.9L211.2 614.7L213.5 615.4L216.1 616.2L218.8 616.9L221.8 617.5L224.9 618.1L228.1 618.6L231.5 619.1" fill="none" stroke="#111" stroke-width="1.4"/>
<path d="M231.5 619.1L235.5 619.6L239.6 620L243.8 620.3L248.1 620.6L252.5 620.8L256.9 620.8L261.4 620.8L265.8 620.7L270.2 620.6L274.5 620.3L278.7 620L282.8 619.6" fill="none" stroke="#111" stroke-width="1"/>
<path d="M282.8 619.6L286.5 619.1L290.1 618.6L293.6 618L296.8 617.4L299.9 616.7L302.8 615.9L305.4 615.1L307.8 614.3L310 613.4L311.9 612.5L313.6 611.5L314.9 610.6L316 609.6L316.8 608.5L317.3 607.5L317.5 606.5" fill="none" stroke="#111" stroke-width="1.3"/>
<path d="M200.5 608.6L200.7 609.5L201.2 610.5L201.9 611.5L202.9 612.4L204.1 613.3L205.5 614.2L207.2 615.1L209.1 615.9L211.3 616.7L213.6 617.5L216.2 618.2L218.9 618.9L221.9 619.6L224.9 620.2L228.2 620.7L231.5 621.2" fill="none" stroke="#111" stroke-width="1.4"/>
<path d="M231.5 621.2L235.5 621.7L239.6 622.1L243.9 622.4L248.2 622.6L252.5 622.8L257 622.9L261.4 622.9L265.8 622.8L270.2 622.6L274.5 622.4L278.7 622L282.8 621.6" fill="none" stroke="#111" stroke-width="1"/>
<path d="M282.8 621.6L286.5 621.2L290.1 620.7L293.5 620.1L296.8 619.4L299.8 618.7L302.7 618L305.3 617.2L307.8 616.4L309.9 615.5L311.8 614.6L313.5 613.6L314.8 612.6L315.9 611.6L316.7 610.6L317.2 609.6L317.5 608.6" fill="none" stroke="#111" stroke-width="1.3"/>
<path d="M200.6 610.6L200.8 611.6L201.3 612.6L202 613.5L203 614.5L204.2 615.4L205.6 616.3L207.3 617.2L209.2 618L211.4 618.8L213.7 619.6L216.3 620.3L219 621L221.9 621.6L225 622.2L228.2 622.8L231.6 623.2" fill="none" stroke="#111" stroke-width="1.4"/>
<path d="M231.6 623.2L235.6 623.7L239.7 624.1L243.9 624.4L248.2 624.7L252.6 624.9L257 624.9L261.4 624.9L265.8 624.8L270.1 624.7L274.4 624.4L278.7 624.1L282.7 623.7" fill="none" stroke="#111" stroke-width="1"/>
<path d="M282.7 623.7L286.5 623.2L290 622.7L293.5 622.1L296.7 621.5L299.8 620.8L302.6 620.1L305.3 619.3L307.7 618.4L309.8 617.5L311.7 616.6L313.4 615.7L314.8 614.7L315.8 613.7L316.6 612.7L317.1 611.7L317.4 610.6" fill="none" stroke="#111" stroke-width="1.3"/>
<path d="M200.8 612.7L201 613.7L201.4 614.6L202.1 615.6L203.1 616.5L204.3 617.4L205.7 618.3L207.4 619.2L209.3 620.1L211.5 620.9L213.8 621.6L216.4 622.4L219.1 623L222 623.7L225.1 624.3L228.3 624.8L231.7 625.3" fill="none" stroke="#111" stroke-width="1.4"/>
<path d="M231.7 625.3L235.6 625.8L239.7 626.2L243.9 626.5L248.2 626.7L252.6 626.9L257 627L261.4 627L265.8 626.9L270.1 626.7L274.4 626.5L278.6 626.1L282.7 625.7" fill="none" stroke="#111" stroke-width="1"/>
<path d="M282.7 625.7L286.4 625.3L290 624.8L293.4 624.2L296.7 623.6L299.7 622.9L302.6 622.1L305.2 621.3L307.6 620.5L309.8 619.6L311.7 618.7L313.3 617.7L314.7 616.8L315.8 615.8L316.5 614.8L317.1 613.7L317.3 612.7" fill="none" stroke="#111" stroke-width="1.3"/>
<path d="M200.9 614.8L201.1 615.8L201.5 616.7L202.2 617.7L203.2 618.6L204.4 619.5L205.8 620.4L207.5 621.3L209.4 622.1L211.6 622.9L213.9 623.7L216.4 624.4L219.2 625.1L222.1 625.7L225.1 626.3L228.4 626.9L231.7 627.4" fill="none" stroke="#111" stroke-width="1.4"/>
<path d="M231.7 627.4L235.7 627.8L239.8 628.2L244 628.6L248.3 628.8L252.6 629L257 629L261.4 629L265.8 629L270.1 628.8L274.4 628.5L278.6 628.2L282.7 627.8" fill="none" stroke="#111" stroke-width="1"/>
<path d="M282.7 627.8L286.4 627.3L290 626.8L293.4 626.3L296.6 625.6L299.7 624.9L302.5 624.2L305.1 623.4L307.5 622.5L309.7 621.7L311.6 620.8L313.2 619.8L314.6 618.8L315.7 617.9L316.5 616.8L317 615.8L317.2 614.8" fill="none" stroke="#111" stroke-width="1.3"/>
<path d="M201 616.9L201.2 617.8L201.6 618.8L202.3 619.7L203.3 620.7L204.5 621.6L205.9 622.5L207.6 623.3L209.5 624.2L211.7 625L214 625.8L216.5 626.5L219.3 627.2L222.2 627.8L225.2 628.4L228.4 628.9L231.8 629.4" fill="none" stroke="#111" stroke-width="1.4"/>
<path d="M231.8 629.4L235.7 629.9L239.8 630.3L244 630.6L248.3 630.9L252.6 631L257 631.1L261.4 631.1L265.8 631L270.1 630.8L274.4 630.6L278.6 630.3L282.7 629.8" fill="none" stroke="#111" stroke-width="1"/>
<path d="M282.7 629.8L286.4 629.4L289.9 628.9L293.3 628.3L296.6 627.7L299.6 627L302.4 626.2L305.1 625.4L307.5 624.6L309.6 623.7L311.5 622.8L313.1 621.9L314.5 620.9L315.6 619.9L316.4 618.9L316.9 617.9L317.1 616.9" fill="none" stroke="#111" stroke-width="1.3"/>
<path d="M201.1 618.9L201.3 619.9L201.7 620.9L202.4 621.8L203.4 622.7L204.6 623.7L206 624.5L207.7 625.4L209.6 626.2L211.8 627.1L214.1 627.8L216.6 628.5L219.3 629.2L222.2 629.9L225.3 630.4L228.5 631L231.8 631.5" fill="none" stroke="#111" stroke-width="1.4"/>
<path d="M231.8 631.5L235.8 631.9L239.9 632.3L244.1 632.7L248.3 632.9L252.7 633.1L257 633.1L261.4 633.1L265.8 633.1L270.1 632.9L274.4 632.6L278.6 632.3L282.6 631.9" fill="none" stroke="#111" stroke-width="1"/>
<path d="M282.6 631.9L286.3 631.5L289.9 630.9L293.3 630.4L296.5 629.7L299.5 629L302.4 628.3L305 627.5L307.4 626.7L309.5 625.8L311.4 624.9L313.1 624L314.4 623L315.5 622L316.3 621L316.8 620L317 618.9" fill="none" stroke="#111" stroke-width="1.3"/>
<path d="M201.2 621L201.4 622L201.9 622.9L202.6 623.9L203.5 624.8L204.7 625.7L206.2 626.6L207.8 627.5L209.7 628.3L211.8 629.1L214.2 629.9L216.7 630.6L219.4 631.3L222.3 631.9L225.4 632.5L228.6 633L231.9 633.5" fill="none" stroke="#111" stroke-width="1.4"/>
<path d="M231.9 633.5L235.8 634L239.9 634.4L244.1 634.7L248.4 635L252.7 635.1L257 635.2L261.4 635.2L265.8 635.1L270.1 634.9L274.4 634.7L278.5 634.4L282.6 634" fill="none" stroke="#111" stroke-width="1"/>
<path d="M282.6 634L286.3 633.5L289.8 633L293.2 632.4L296.5 631.8L299.5 631.1L302.3 630.4L304.9 629.6L307.3 628.7L309.5 627.9L311.3 627L313 626L314.3 625.1L315.4 624.1L316.2 623.1L316.7 622L316.9 621" fill="none" stroke="#111" stroke-width="1.3"/>
<path d="M201.3 623.1L201.5 624.1L202 625L202.7 626L203.6 626.9L204.8 627.8L206.3 628.7L207.9 629.5L209.8 630.4L211.9 631.2L214.3 631.9L216.8 632.7L219.5 633.3L222.4 634L225.4 634.6L228.6 635.1L232 635.6" fill="none" stroke="#111" stroke-width="1.4"/>
<path d="M232 635.6L235.9 636L240 636.4L244.1 636.8L248.4 637L252.7 637.2L257.1 637.3L261.4 637.2L265.8 637.2L270.1 637L274.3 636.7L278.5 636.4L282.6 636" fill="none" stroke="#111" stroke-width="1"/>
<path d="M282.6 636L286.2 635.6L289.8 635.1L293.2 634.5L296.4 633.8L299.4 633.2L302.3 632.4L304.9 631.6L307.2 630.8L309.4 629.9L311.3 629L312.9 628.1L314.2 627.1L315.3 626.1L316.1 625.1L316.6 624.1L316.8 623.1" fill="none" stroke="#111" stroke-width="1.3"/>
<path d="M201.4 625.2L201.6 626.1L202.1 627.1L202.8 628L203.7 629L204.9 629.9L206.4 630.7L208 631.6L209.9 632.4L212 633.2L214.4 634L216.9 634.7L219.6 635.4L222.5 636L225.5 636.6L228.7 637.2L232 637.6" fill="none" stroke="#111" stroke-width="1.4"/>
<path d="M232 637.6L235.9 638.1L240 638.5L244.2 638.8L248.4 639.1L252.7 639.2L257.1 639.3L261.4 639.3L265.8 639.2L270.1 639L274.3 638.8L278.5 638.5L282.5 638.1" fill="none" stroke="#111" stroke-width="1"/>
<path d="M282.5 638.1L286.2 637.6L289.7 637.1L293.1 636.5L296.3 635.9L299.4 635.2L302.2 634.5L304.8 633.7L307.2 632.9L309.3 632L311.2 631.1L312.8 630.2L314.2 629.2L315.2 628.2L316 627.2L316.5 626.2L316.7 625.2" fill="none" stroke="#111" stroke-width="1.3"/>
<path d="M201.5 627.3L201.7 628.2L202.2 629.2L202.9 630.1L203.8 631L205 631.9L206.5 632.8L208.1 633.7L210 634.5L212.1 635.3L214.4 636.1L217 636.8L219.7 637.5L222.5 638.1L225.6 638.7L228.8 639.2L232.1 639.7" fill="none" stroke="#111" stroke-width="1.4"/>
<path d="M232.1 639.7L236 640.2L240 640.6L244.2 640.9L248.4 641.1L252.7 641.3L257.1 641.4L261.4 641.4L265.8 641.3L270.1 641.1L274.3 640.9L278.5 640.5L282.5 640.1" fill="none" stroke="#111" stroke-width="1"/>
<path d="M282.5 640.1L286.2 639.7L289.7 639.2L293.1 638.6L296.3 638L299.3 637.3L302.1 636.5L304.7 635.8L307.1 634.9L309.2 634.1L311.1 633.2L312.7 632.2L314.1 631.3L315.1 630.3L315.9 629.3L316.4 628.3L316.6 627.3" fill="none" stroke="#111" stroke-width="1.3"/>
<path d="M201.7 629.3L201.9 630.3L202.3 631.2L203 632.2L203.9 633.1L205.1 634L206.6 634.9L208.2 635.7L210.1 636.6L212.2 637.4L214.5 638.1L217 638.8L219.7 639.5L222.6 640.2L225.6 640.7L228.8 641.3L232.1 641.7" fill="none" stroke="#111" stroke-width="1.4"/>
<path d="M232.1 641.7L236 642.2L240.1 642.6L244.2 642.9L248.5 643.2L252.8 643.3L257.1 643.4L261.4 643.4L265.8 643.3L270.1 643.2L274.3 642.9L278.4 642.6L282.5 642.2" fill="none" stroke="#111" stroke-width="1"/>
<path d="M282.5 642.2L286.1 641.7L289.7 641.2L293 640.7L296.2 640L299.2 639.3L302.1 638.6L304.7 637.8L307 637L309.1 636.1L311 635.2L312.6 634.3L314 633.3L315.1 632.4L315.8 631.4L316.3 630.3L316.6 629.3" fill="none" stroke="#111" stroke-width="1.3"/>
<path d="M201.8 631.4L202 632.4L202.4 633.3L203.1 634.2L204.1 635.2L205.2 636.1L206.7 636.9L208.3 637.8L210.2 638.6L212.3 639.4L214.6 640.2L217.1 640.9L219.8 641.6L222.7 642.2L225.7 642.8L228.9 643.3L232.2 643.8" fill="none" stroke="#111" stroke-width="1.4"/>
<path d="M232.2 643.8L236.1 644.3L240.1 644.7L244.3 645L248.5 645.2L252.8 645.4L257.1 645.5L261.5 645.5L265.8 645.4L270.1 645.2L274.3 645L278.4 644.6L282.4 644.2" fill="none" stroke="#111" stroke-width="1"/>
<path d="M282.4 644.2L286.1 643.8L289.6 643.3L293 642.7L296.2 642.1L299.2 641.4L302 640.7L304.6 639.9L306.9 639.1L309.1 638.2L310.9 637.3L312.6 636.4L313.9 635.4L315 634.4L315.7 633.4L316.3 632.4L316.5 631.4" fill="none" stroke="#111" stroke-width="1.3"/>
<path d="M201.9 633.5L202.1 634.4L202.5 635.4L203.2 636.3L204.2 637.2L205.4 638.1L206.8 639L208.4 639.9L210.3 640.7L212.4 641.5L214.7 642.2L217.2 643L219.9 643.6L222.8 644.3L225.8 644.8L229 645.4L232.3 645.8" fill="none" stroke="#111" stroke-width="1.4"/>
<path d="M232.3 645.8L236.2 646.3L240.2 646.7L244.3 647L248.5 647.3L252.8 647.4L257.1 647.5L261.5 647.5L265.8 647.4L270.1 647.3L274.3 647L278.4 646.7L282.4 646.3" fill="none" stroke="#111" stroke-width="1"/>
<path d="M282.4 646.3L286.1 645.8L289.6 645.3L292.9 644.8L296.1 644.1L299.1 643.5L301.9 642.7L304.5 641.9L306.9 641.1L309 640.3L310.9 639.4L312.5 638.4L313.8 637.5L314.9 636.5L315.7 635.5L316.2 634.5L316.4 633.5" fill="none" stroke="#111" stroke-width="1.3"/>
<path d="M202 635.6L202.2 636.5L202.6 637.5L203.3 638.4L204.3 639.3L205.5 640.2L206.9 641.1L208.5 641.9L210.4 642.8L212.5 643.6L214.8 644.3L217.3 645L220 645.7L222.8 646.3L225.9 646.9L229 647.4L232.3 647.9" fill="none" stroke="#111" stroke-width="1.4"/>
<path d="M232.3 647.9L236.2 648.4L240.2 648.8L244.4 649.1L248.6 649.3L252.8 649.5L257.1 649.6L261.5 649.6L265.8 649.5L270 649.3L274.3 649.1L278.4 648.7L282.4 648.3" fill="none" stroke="#111" stroke-width="1"/>
<path d="M282.4 648.3L286 647.9L289.5 647.4L292.9 646.8L296.1 646.2L299.1 645.5L301.9 644.8L304.4 644L306.8 643.2L308.9 642.3L310.8 641.4L312.4 640.5L313.7 639.5L314.8 638.6L315.6 637.6L316.1 636.6L316.3 635.6" fill="none" stroke="#111" stroke-width="1.3"/>
<path d="M202.1 637.6L202.3 638.6L202.8 639.5L203.4 640.5L204.4 641.4L205.6 642.3L207 643.2L208.6 644L210.5 644.8L212.6 645.6L214.9 646.4L217.4 647.1L220.1 647.8L222.9 648.4L225.9 649L229.1 649.5L232.4 650" fill="none" stroke="#111" stroke-width="1.4"/>
<path d="M232.4 650L236.3 650.4L240.3 650.8L244.4 651.1L248.6 651.4L252.9 651.5L257.2 651.6L261.5 651.6L265.8 651.5L270 651.4L274.2 651.1L278.4 650.8L282.4 650.4" fill="none" stroke="#111" stroke-width="1"/>
<path d="M282.4 650.4L286 650L289.5 649.4L292.8 648.9L296 648.3L299 647.6L301.8 646.8L304.4 646.1L306.7 645.2L308.8 644.4L310.7 643.5L312.3 642.6L313.6 641.6L314.7 640.6L315.5 639.6L316 638.6L316.2 637.6" fill="none" stroke="#111" stroke-width="1.3"/>
<path d="M202.2 639.7L202.4 640.7L202.9 641.6L203.6 642.5L204.5 643.4L205.7 644.3L207.1 645.2L208.7 646.1L210.6 646.9L212.7 647.7L215 648.4L217.5 649.1L220.1 649.8L223 650.4L226 651L229.1 651.5L232.4 652" fill="none" stroke="#111" stroke-width="1.4"/>
<path d="M232.4 652L236.3 652.5L240.3 652.9L244.4 653.2L248.6 653.4L252.9 653.6L257.2 653.7L261.5 653.7L265.8 653.6L270 653.4L274.2 653.2L278.3 652.8L282.3 652.4" fill="none" stroke="#111" stroke-width="1"/>
<path d="M282.3 652.4L286 652L289.5 651.5L292.8 650.9L296 650.3L298.9 649.6L301.7 648.9L304.3 648.1L306.7 647.3L308.8 646.5L310.6 645.6L312.2 644.6L313.6 643.7L314.6 642.7L315.4 641.7L315.9 640.7L316.1 639.7" fill="none" stroke="#111" stroke-width="1.3"/>
<path d="M202.3 641.8L202.5 642.7L203 643.7L203.7 644.6L204.6 645.5L205.8 646.4L207.2 647.3L208.8 648.1L210.7 649L212.8 649.7L215.1 650.5L217.6 651.2L220.2 651.9L223.1 652.5L226.1 653.1L229.2 653.6L232.5 654.1" fill="none" stroke="#111" stroke-width="1.4"/>
<path d="M232.5 654.1L236.4 654.5L240.4 654.9L244.5 655.2L248.7 655.5L252.9 655.6L257.2 655.7L261.5 655.7L265.8 655.6L270 655.5L274.2 655.2L278.3 654.9L282.3 654.5" fill="none" stroke="#111" stroke-width="1"/>
<path d="M282.3 654.5L285.9 654.1L289.4 653.6L292.7 653L295.9 652.4L298.9 651.7L301.7 651L304.2 650.2L306.6 649.4L308.7 648.5L310.5 647.6L312.1 646.7L313.5 645.8L314.5 644.8L315.3 643.8L315.8 642.8L316 641.8" fill="none" stroke="#111" stroke-width="1.3"/>
<path d="M202.5 643.9L202.6 644.8L203.1 645.7L203.8 646.7L204.7 647.6L205.9 648.5L207.3 649.4L208.9 650.2L210.8 651L212.9 651.8L215.2 652.6L217.6 653.3L220.3 653.9L223.1 654.6L226.1 655.1L229.3 655.7L232.6 656.1" fill="none" stroke="#111" stroke-width="1.4"/>
<path d="M232.6 656.1L236.4 656.6L240.4 657L244.5 657.3L248.7 657.5L252.9 657.7L257.2 657.8L261.5 657.8L265.8 657.7L270 657.5L274.2 657.3L278.3 657L282.3 656.6" fill="none" stroke="#111" stroke-width="1"/>
<path d="M282.3 656.6L285.9 656.1L289.4 655.6L292.7 655.1L295.9 654.4L298.8 653.8L301.6 653L304.2 652.3L306.5 651.4L308.6 650.6L310.5 649.7L312.1 648.8L313.4 647.8L314.4 646.9L315.2 645.9L315.7 644.9L315.9 643.9" fill="none" stroke="#111" stroke-width="1.3"/>
<path d="M202.6 645.9L202.8 646.9L203.2 647.8L203.9 648.7L204.8 649.7L206 650.5L207.4 651.4L209 652.3L210.9 653.1L213 653.9L215.3 654.6L217.7 655.3L220.4 656L223.2 656.6L226.2 657.2L229.3 657.7L232.6 658.2" fill="none" stroke="#111" stroke-width="1.4"/>
<path d="M232.6 658.2L236.5 658.6L240.4 659L244.5 659.4L248.7 659.6L253 659.7L257.2 659.8L261.5 659.8L265.8 659.7L270 659.6L274.2 659.3L278.3 659L282.2 658.6" fill="none" stroke="#111" stroke-width="1"/>
<path d="M282.2 658.6L285.8 658.2L289.3 657.7L292.6 657.1L295.8 656.5L298.8 655.8L301.5 655.1L304.1 654.3L306.4 653.5L308.5 652.6L310.4 651.8L312 650.8L313.3 649.9L314.4 648.9L315.1 647.9L315.6 646.9L315.8 645.9" fill="none" stroke="#111" stroke-width="1.3"/>
<path d="M202.7 648L202.9 649L203.3 649.9L204 650.8L204.9 651.7L206.1 652.6L207.5 653.5L209.1 654.3L211 655.1L213.1 655.9L215.4 656.7L217.8 657.4L220.5 658.1L223.3 658.7L226.3 659.2L229.4 659.8L232.7 660.2" fill="none" stroke="#111" stroke-width="1.4"/>
<path d="M232.7 660.2L236.5 660.7L240.5 661.1L244.6 661.4L248.7 661.6L253 661.8L257.2 661.9L261.5 661.9L265.8 661.8L270 661.6L274.2 661.4L278.2 661.1L282.2 660.7" fill="none" stroke="#111" stroke-width="1"/>
<path d="M282.2 660.7L285.8 660.2L289.3 659.7L292.6 659.2L295.7 658.5L298.7 657.9L301.5 657.1L304 656.4L306.4 655.6L308.5 654.7L310.3 653.8L311.9 652.9L313.2 652L314.3 651L315 650L315.5 649L315.7 648" fill="none" stroke="#111" stroke-width="1.3"/>
<path d="M202.8 650.1L203 651L203.4 652L204.1 652.9L205 653.8L206.2 654.7L207.6 655.6L209.2 656.4L211.1 657.2L213.2 658L215.4 658.7L217.9 659.4L220.6 660.1L223.4 660.7L226.3 661.3L229.5 661.8L232.7 662.3" fill="none" stroke="#111" stroke-width="1.4"/>
<path d="M232.7 662.3L236.6 662.8L240.5 663.1L244.6 663.5L248.8 663.7L253 663.9L257.3 663.9L261.5 663.9L265.8 663.8L270 663.7L274.1 663.4L278.2 663.1L282.2 662.7" fill="none" stroke="#111" stroke-width="1"/>
<path d="M282.2 662.7L285.8 662.3L289.2 661.8L292.5 661.2L295.7 660.6L298.7 659.9L301.4 659.2L304 658.4L306.3 657.6L308.4 656.8L310.2 655.9L311.8 655L313.1 654L314.2 653.1L314.9 652.1L315.4 651.1L315.7 650.1" fill="none" stroke="#111" stroke-width="1.3"/>
<path d="M202.9 652.2L203.1 653.1L203.5 654L204.2 655L205.1 655.9L206.3 656.8L207.7 657.6L209.3 658.5L211.2 659.3L213.3 660.1L215.5 660.8L218 661.5L220.6 662.2L223.4 662.8L226.4 663.4L229.5 663.9L232.8 664.3" fill="none" stroke="#111" stroke-width="1.4"/>
<path d="M232.8 664.3L236.6 664.8L240.6 665.2L244.7 665.5L248.8 665.8L253 665.9L257.3 666L261.5 666L265.8 665.9L270 665.7L274.1 665.5L278.2 665.2L282.2 664.8" fill="none" stroke="#111" stroke-width="1"/>
<path d="M282.2 664.8L285.7 664.3L289.2 663.8L292.5 663.3L295.6 662.7L298.6 662L301.3 661.3L303.9 660.5L306.2 659.7L308.3 658.8L310.1 658L311.7 657L313 656.1L314.1 655.1L314.9 654.2L315.4 653.2L315.6 652.2" fill="none" stroke="#111" stroke-width="1.3"/>
<path d="M203 654.2L203.2 655.2L203.6 656.1L204.3 657L205.3 657.9L206.4 658.8L207.8 659.7L209.5 660.5L211.3 661.3L213.4 662.1L215.6 662.9L218.1 663.6L220.7 664.2L223.5 664.8L226.5 665.4L229.6 665.9L232.8 666.4" fill="none" stroke="#111" stroke-width="1.4"/>
<path d="M232.8 666.4L236.7 666.9L240.6 667.3L244.7 667.6L248.8 667.8L253 668L257.3 668L261.5 668L265.8 668L270 667.8L274.1 667.5L278.2 667.2L282.1 666.8" fill="none" stroke="#111" stroke-width="1"/>
<path d="M282.1 666.8L285.7 666.4L289.2 665.9L292.5 665.3L295.6 664.7L298.5 664.1L301.3 663.3L303.8 662.6L306.1 661.8L308.2 660.9L310.1 660L311.6 659.1L313 658.2L314 657.2L314.8 656.2L315.3 655.2L315.5 654.2" fill="none" stroke="#111" stroke-width="1.3"/>
<path d="M203.1 656.3L203.3 657.3L203.8 658.2L204.4 659.1L205.4 660L206.5 660.9L207.9 661.8L209.6 662.6L211.4 663.4L213.5 664.2L215.7 664.9L218.2 665.6L220.8 666.3L223.6 666.9L226.6 667.5L229.7 668L232.9 668.5" fill="none" stroke="#111" stroke-width="1.4"/>
<path d="M232.9 668.5L236.7 668.9L240.7 669.3L244.7 669.6L248.9 669.9L253.1 670L257.3 670.1L261.5 670.1L265.8 670L270 669.8L274.1 669.6L278.2 669.3L282.1 668.9" fill="none" stroke="#111" stroke-width="1"/>
<path d="M282.1 668.9L285.7 668.5L289.1 668L292.4 667.4L295.5 666.8L298.5 666.1L301.2 665.4L303.8 664.6L306.1 663.8L308.1 663L310 662.1L311.6 661.2L312.9 660.2L313.9 659.3L314.7 658.3L315.2 657.3L315.4 656.3" fill="none" stroke="#111" stroke-width="1.3"/>
<path d="M203.2 658.4L203.4 659.3L203.9 660.3L204.6 661.2L205.5 662.1L206.6 663L208 663.8L209.7 664.7L211.5 665.5L213.5 666.2L215.8 667L218.2 667.7L220.9 668.4L223.7 669L226.6 669.5L229.7 670L233 670.5" fill="none" stroke="#111" stroke-width="1.4"/>
<path d="M233 670.5L236.8 671L240.7 671.4L244.8 671.7L248.9 671.9L253.1 672.1L257.3 672.1L261.6 672.1L265.8 672.1L270 671.9L274.1 671.7L278.1 671.3L282.1 670.9" fill="none" stroke="#111" stroke-width="1"/>
<path d="M282.1 670.9L285.6 670.5L289.1 670L292.4 669.5L295.5 668.8L298.4 668.2L301.2 667.5L303.7 666.7L306 665.9L308.1 665L309.9 664.2L311.5 663.2L312.8 662.3L313.8 661.4L314.6 660.4L315.1 659.4L315.3 658.4" fill="none" stroke="#111" stroke-width="1.3"/>
<path d="M203.4 660.5L203.5 661.4L204 662.3L204.7 663.2L205.6 664.1L206.7 665L208.1 665.9L209.8 666.7L211.6 667.5L213.6 668.3L215.9 669L218.3 669.8L221 670.4L223.8 671L226.7 671.6L229.8 672.1L233 672.6" fill="none" stroke="#111" stroke-width="1.4"/>
<path d="M233 672.6L236.8 673L240.8 673.4L244.8 673.7L248.9 674L253.1 674.1L257.3 674.2L261.6 674.2L265.8 674.1L270 673.9L274.1 673.7L278.1 673.4L282 673" fill="none" stroke="#111" stroke-width="1"/>
<path d="M282 673L285.6 672.6L289 672.1L292.3 671.5L295.4 670.9L298.4 670.2L301.1 669.5L303.6 668.8L305.9 667.9L308 667.1L309.8 666.2L311.4 665.3L312.7 664.4L313.7 663.4L314.5 662.5L315 661.5L315.2 660.5" fill="none" stroke="#111" stroke-width="1.3"/>
<path d="M203.5 662.6L203.7 663.5L204.1 664.4L204.8 665.3L205.7 666.2L206.9 667.1L208.2 668L209.9 668.8L211.7 669.6L213.7 670.4L216 671.1L218.4 671.8L221 672.5L223.8 673.1L226.8 673.6L229.9 674.2L233.1 674.6" fill="none" stroke="#111" stroke-width="1.4"/>
<path d="M233.1 674.6L236.9 675.1L240.8 675.5L244.8 675.8L249 676L253.1 676.2L257.3 676.2L261.6 676.2L265.8 676.2L269.9 676L274.1 675.8L278.1 675.4L282 675.1" fill="none" stroke="#111" stroke-width="1"/>
<path d="M282 675.1L285.6 674.6L289 674.1L292.3 673.6L295.4 673L298.3 672.3L301 671.6L303.5 670.8L305.8 670L307.9 669.2L309.7 668.3L311.3 667.4L312.6 666.4L313.7 665.5L314.4 664.5L314.9 663.5L315.1 662.6" fill="none" stroke="#111" stroke-width="1.3"/>
<path d="M203.6 664.6L203.8 665.6L204.2 666.5L204.9 667.4L205.8 668.3L207 669.2L208.3 670L210 670.9L211.8 671.7L213.8 672.4L216.1 673.2L218.5 673.9L221.1 674.5L223.9 675.1L226.8 675.7L229.9 676.2L233.1 676.7" fill="none" stroke="#111" stroke-width="1.4"/>
<path d="M233.1 676.7L236.9 677.1L240.9 677.5L244.9 677.8L249 678.1L253.2 678.2L257.4 678.3L261.6 678.3L265.8 678.2L269.9 678.1L274 677.8L278.1 677.5L282 677.1" fill="none" stroke="#111" stroke-width="1"/>
<path d="M282 677.1L285.5 676.7L288.9 676.2L292.2 675.6L295.3 675L298.2 674.3L301 673.6L303.5 672.9L305.8 672.1L307.8 671.2L309.7 670.4L311.2 669.4L312.5 668.5L313.6 667.6L314.3 666.6L314.8 665.6L315 664.6" fill="none" stroke="#111" stroke-width="1.3"/>
<path d="M203.7 666.7L203.9 667.6L204.3 668.6L205 669.5L205.9 670.4L207.1 671.2L208.5 672.1L210.1 672.9L211.9 673.7L213.9 674.5L216.2 675.2L218.6 675.9L221.2 676.6L224 677.2L226.9 677.8L230 678.3L233.2 678.7" fill="none" stroke="#111" stroke-width="1.4"/>
<path d="M233.2 678.7L237 679.2L240.9 679.6L244.9 679.9L249 680.1L253.2 680.3L257.4 680.4L261.6 680.3L265.8 680.3L269.9 680.1L274 679.9L278 679.6L281.9 679.2" fill="none" stroke="#111" stroke-width="1"/>
<path d="M281.9 679.2L285.5 678.7L288.9 678.2L292.2 677.7L295.3 677.1L298.2 676.4L300.9 675.7L303.4 674.9L305.7 674.1L307.8 673.3L309.6 672.4L311.1 671.5L312.4 670.6L313.5 669.6L314.2 668.7L314.7 667.7L314.9 666.7" fill="none" stroke="#111" stroke-width="1.3"/>
<path d="M203.8 668.8L204 669.7L204.4 670.6L205.1 671.5L206 672.4L207.2 673.3L208.6 674.2L210.2 675L212 675.8L214 676.6L216.3 677.3L218.7 678L221.3 678.6L224.1 679.3L227 679.8L230.1 680.3L233.3 680.8" fill="none" stroke="#111" stroke-width="1.4"/>
<path d="M233.3 680.8L237 681.2L240.9 681.6L245 681.9L249.1 682.2L253.2 682.3L257.4 682.4L261.6 682.4L265.8 682.3L269.9 682.2L274 681.9L278 681.6L281.9 681.2" fill="none" stroke="#111" stroke-width="1"/>
<path d="M281.9 681.2L285.4 680.8L288.9 680.3L292.1 679.7L295.2 679.1L298.1 678.5L300.8 677.8L303.3 677L305.6 676.2L307.7 675.4L309.5 674.5L311.1 673.6L312.4 672.7L313.4 671.7L314.1 670.7L314.6 669.8L314.8 668.8" fill="none" stroke="#111" stroke-width="1.3"/>
<path d="M203.9 670.9L204.1 671.8L204.5 672.7L205.2 673.6L206.1 674.5L207.3 675.4L208.7 676.2L210.3 677.1L212.1 677.9L214.1 678.6L216.3 679.4L218.8 680.1L221.4 680.7L224.1 681.3L227.1 681.9L230.1 682.4L233.3 682.8" fill="none" stroke="#111" stroke-width="1.4"/>
<path d="M233.3 682.8L237.1 683.3L241 683.7L245 684L249.1 684.2L253.2 684.4L257.4 684.5L261.6 684.5L265.8 684.4L269.9 684.2L274 684L278 683.7L281.9 683.3" fill="none" stroke="#111" stroke-width="1"/>
<path d="M281.9 683.3L285.4 682.8L288.8 682.3L292.1 681.8L295.1 681.2L298.1 680.5L300.8 679.8L303.3 679.1L305.6 678.3L307.6 677.4L309.4 676.6L311 675.7L312.3 674.7L313.3 673.8L314.1 672.8L314.5 671.8L314.8 670.9" fill="none" stroke="#111" stroke-width="1.3"/>
<path d="M204 672.9L204.2 673.9L204.7 674.8L205.3 675.7L206.2 676.6L207.4 677.4L208.8 678.3L210.4 679.1L212.2 679.9L214.2 680.7L216.4 681.4L218.9 682.1L221.4 682.8L224.2 683.4L227.1 683.9L230.2 684.4L233.4 684.9" fill="none" stroke="#111" stroke-width="1.4"/>
<path d="M233.4 684.9L237.1 685.4L241 685.7L245 686L249.1 686.3L253.2 686.4L257.4 686.5L261.6 686.5L265.8 686.4L269.9 686.3L274 686L278 685.7L281.9 685.3" fill="none" stroke="#111" stroke-width="1"/>
<path d="M281.9 685.3L285.4 684.9L288.8 684.4L292 683.9L295.1 683.2L298 682.6L300.7 681.9L303.2 681.1L305.5 680.3L307.5 679.5L309.3 678.6L310.9 677.7L312.2 676.8L313.2 675.9L314 674.9L314.5 673.9L314.7 672.9" fill="none" stroke="#111" stroke-width="1.3"/>
<path d="M204.2 675L204.3 675.9L204.8 676.8L205.4 677.7L206.3 678.6L207.5 679.5L208.9 680.4L210.5 681.2L212.3 682L214.3 682.7L216.5 683.5L218.9 684.2L221.5 684.8L224.3 685.4L227.2 686L230.3 686.5L233.4 687" fill="none" stroke="#111" stroke-width="1.4"/>
<path d="M233.4 687L237.2 687.4L241.1 687.8L245.1 688.1L249.1 688.3L253.3 688.5L257.4 688.6L261.6 688.6L265.8 688.5L269.9 688.3L274 688.1L277.9 687.8L281.8 687.4" fill="none" stroke="#111" stroke-width="1"/>
<path d="M281.8 687.4L285.3 686.9L288.7 686.5L292 685.9L295 685.3L297.9 684.6L300.6 683.9L303.1 683.2L305.4 682.4L307.5 681.6L309.3 680.7L310.8 679.8L312.1 678.9L313.1 677.9L313.9 677L314.4 676L314.6 675" fill="none" stroke="#111" stroke-width="1.3"/>
<path d="M204.3 677.1L204.5 678L204.9 678.9L205.5 679.8L206.5 680.7L207.6 681.6L209 682.4L210.6 683.3L212.4 684L214.4 684.8L216.6 685.5L219 686.2L221.6 686.9L224.4 687.5L227.3 688L230.3 688.6L233.5 689" fill="none" stroke="#111" stroke-width="1.4"/>
<path d="M233.5 689L237.2 689.5L241.1 689.8L245.1 690.2L249.2 690.4L253.3 690.5L257.5 690.6L261.6 690.6L265.8 690.5L269.9 690.4L273.9 690.1L277.9 689.8L281.8 689.4" fill="none" stroke="#111" stroke-width="1"/>
<path d="M281.8 689.4L285.3 689L288.7 688.5L291.9 688L295 687.4L297.9 686.7L300.6 686L303.1 685.2L305.3 684.5L307.4 683.6L309.2 682.8L310.7 681.9L312 680.9L313 680L313.8 679L314.3 678.1L314.5 677.1" fill="none" stroke="#111" stroke-width="1.3"/>
<path d="M204.4 679.2L204.6 680.1L205 681L205.7 681.9L206.6 682.8L207.7 683.6L209.1 684.5L210.7 685.3L212.5 686.1L214.5 686.9L216.7 687.6L219.1 688.3L221.7 688.9L224.4 689.5L227.3 690.1L230.4 690.6L233.6 691.1" fill="none" stroke="#111" stroke-width="1.4"/>
<path d="M233.6 691.1L237.3 691.5L241.2 691.9L245.1 692.2L249.2 692.4L253.3 692.6L257.5 692.7L261.6 692.7L265.8 692.6L269.9 692.4L273.9 692.2L277.9 691.9L281.8 691.5" fill="none" stroke="#111" stroke-width="1"/>
<path d="M281.8 691.5L285.3 691.1L288.6 690.6L291.9 690L294.9 689.4L297.8 688.8L300.5 688.1L303 687.3L305.3 686.5L307.3 685.7L309.1 684.8L310.6 683.9L311.9 683L313 682.1L313.7 681.1L314.2 680.1L314.4 679.2" fill="none" stroke="#111" stroke-width="1.3"/>
<path d="M204.5 681.2L204.7 682.2L205.1 683.1L205.8 684L206.7 684.8L207.8 685.7L209.2 686.6L210.8 687.4L212.6 688.2L214.6 688.9L216.8 689.7L219.2 690.4L221.8 691L224.5 691.6L227.4 692.2L230.4 692.7L233.6 693.1" fill="none" stroke="#111" stroke-width="1.4"/>
<path d="M233.6 693.1L237.4 693.6L241.2 694L245.2 694.3L249.2 694.5L253.3 694.6L257.5 694.7L261.6 694.7L265.8 694.6L269.9 694.5L273.9 694.2L277.9 693.9L281.7 693.5" fill="none" stroke="#111" stroke-width="1"/>
<path d="M281.7 693.5L285.2 693.1L288.6 692.6L291.8 692.1L294.9 691.5L297.8 690.8L300.4 690.1L302.9 689.4L305.2 688.6L307.2 687.8L309 686.9L310.6 686L311.8 685.1L312.9 684.1L313.6 683.2L314.1 682.2L314.3 681.2" fill="none" stroke="#111" stroke-width="1.3"/>
<path d="M204.6 683.3L204.8 684.2L205.2 685.1L205.9 686L206.8 686.9L207.9 687.8L209.3 688.6L210.9 689.4L212.7 690.2L214.7 691L216.9 691.7L219.3 692.4L221.9 693.1L224.6 693.7L227.5 694.2L230.5 694.7L233.7 695.2" fill="none" stroke="#111" stroke-width="1.4"/>
<path d="M233.7 695.2L237.4 695.6L241.3 696L245.2 696.3L249.3 696.5L253.4 696.7L257.5 696.8L261.6 696.8L265.8 696.7L269.9 696.5L273.9 696.3L277.9 696L281.7 695.6" fill="none" stroke="#111" stroke-width="1"/>
<path d="M281.7 695.6L285.2 695.2L288.6 694.7L291.8 694.1L294.8 693.5L297.7 692.9L300.4 692.2L302.9 691.4L305.1 690.6L307.1 689.8L308.9 689L310.5 688.1L311.8 687.1L312.8 686.2L313.5 685.3L314 684.3L314.2 683.3" fill="none" stroke="#111" stroke-width="1.3"/>
<path d="M204.7 685.4L204.9 686.3L205.3 687.2L206 688.1L206.9 689L208 689.9L209.4 690.7L211 691.5L212.8 692.3L214.8 693.1L217 693.8L219.4 694.5L221.9 695.1L224.7 695.7L227.6 696.3L230.6 696.8L233.7 697.2" fill="none" stroke="#111" stroke-width="1.4"/>
<path d="M233.7 697.2L237.5 697.7L241.3 698.1L245.3 698.4L249.3 698.6L253.4 698.7L257.5 698.8L261.6 698.8L265.8 698.7L269.9 698.6L273.9 698.3L277.8 698L281.7 697.7" fill="none" stroke="#111" stroke-width="1"/>
<path d="M281.7 697.7L285.2 697.2L288.5 696.7L291.7 696.2L294.8 695.6L297.6 694.9L300.3 694.2L302.8 693.5L305 692.7L307.1 691.9L308.9 691L310.4 690.1L311.7 689.2L312.7 688.3L313.4 687.3L313.9 686.4L314.1 685.4" fill="none" stroke="#111" stroke-width="1.3"/>
<path d="M204.8 687.5L205 688.4L205.4 689.3L206.1 690.2L207 691.1L208.1 691.9L209.5 692.8L211.1 693.6L212.9 694.4L214.9 695.1L217.1 695.8L219.5 696.5L222 697.2L224.7 697.8L227.6 698.3L230.6 698.8L233.8 699.3" fill="none" stroke="#111" stroke-width="1.4"/>
<path d="M233.8 699.3L237.5 699.7L241.4 700.1L245.3 700.4L249.3 700.6L253.4 700.8L257.5 700.9L261.7 700.9L265.8 700.8L269.9 700.6L273.9 700.4L277.8 700.1L281.6 699.7" fill="none" stroke="#111" stroke-width="1"/>
<path d="M281.6 699.7L285.1 699.3L288.5 698.8L291.7 698.3L294.7 697.7L297.6 697L300.3 696.3L302.7 695.6L305 694.8L307 693.9L308.8 693.1L310.3 692.2L311.6 691.3L312.6 690.4L313.3 689.4L313.8 688.4L314 687.5" fill="none" stroke="#111" stroke-width="1.3"/>
<path d="M204.9 689.6L205.1 690.5L205.6 691.4L206.2 692.2L207.1 693.1L208.2 694L209.6 694.8L211.2 695.6L213 696.4L215 697.2L217.2 697.9L219.5 698.6L222.1 699.2L224.8 699.8L227.7 700.4L230.7 700.9L233.9 701.3" fill="none" stroke="#111" stroke-width="1.4"/>
<path d="M233.9 701.3L237.6 701.8L241.4 702.2L245.3 702.5L249.4 702.7L253.4 702.9L257.5 702.9L261.7 702.9L265.8 702.8L269.8 702.7L273.9 702.5L277.8 702.1L281.6 701.8" fill="none" stroke="#111" stroke-width="1"/>
<path d="M281.6 701.8L285.1 701.3L288.4 700.9L291.6 700.3L294.7 699.7L297.5 699.1L300.2 698.4L302.7 697.6L304.9 696.8L306.9 696L308.7 695.2L310.2 694.3L311.5 693.4L312.5 692.4L313.3 691.5L313.7 690.5L313.9 689.6" fill="none" stroke="#111" stroke-width="1.3"/>
<path d="M205.1 691.6L205.2 692.5L205.7 693.4L206.3 694.3L207.2 695.2L208.3 696.1L209.7 696.9L211.3 697.7L213.1 698.5L215.1 699.3L217.2 700L219.6 700.7L222.2 701.3L224.9 701.9L227.8 702.4L230.8 702.9L233.9 703.4" fill="none" stroke="#111" stroke-width="1.4"/>
<path d="M233.9 703.4L237.6 703.8L241.4 704.2L245.4 704.5L249.4 704.8L253.5 704.9L257.6 705L261.7 705L265.8 704.9L269.8 704.7L273.8 704.5L277.8 704.2L281.6 703.8" fill="none" stroke="#111" stroke-width="1"/>
<path d="M281.6 703.8L285 703.4L288.4 702.9L291.6 702.4L294.6 701.8L297.5 701.1L300.1 700.4L302.6 699.7L304.8 698.9L306.8 698.1L308.6 697.2L310.1 696.3L311.4 695.4L312.4 694.5L313.2 693.5L313.6 692.6L313.9 691.6" fill="none" stroke="#111" stroke-width="1.3"/>
<path d="M205.2 693.7L205.4 694.6L205.8 695.5L206.4 696.4L207.3 697.3L208.5 698.1L209.8 699L211.4 699.8L213.2 700.6L215.2 701.3L217.3 702L219.7 702.7L222.3 703.4L225 704L227.8 704.5L230.8 705L234 705.5" fill="none" stroke="#111" stroke-width="1.4"/>
<path d="M234 705.5L237.7 705.9L241.5 706.3L245.4 706.6L249.4 706.8L253.5 707L257.6 707L261.7 707L265.8 707L269.8 706.8L273.8 706.6L277.7 706.3L281.6 705.9" fill="none" stroke="#111" stroke-width="1"/>
<path d="M281.6 705.9L285 705.4L288.3 705L291.5 704.4L294.6 703.8L297.4 703.2L300.1 702.5L302.5 701.7L304.7 701L306.8 700.1L308.5 699.3L310.1 698.4L311.3 697.5L312.3 696.6L313.1 695.6L313.6 694.7L313.8 693.7" fill="none" stroke="#111" stroke-width="1.3"/>
<path d="M205.3 695.8L205.5 696.7L205.9 697.6L206.5 698.5L207.4 699.3L208.6 700.2L209.9 701L211.5 701.8L213.3 702.6L215.2 703.4L217.4 704.1L219.8 704.8L222.3 705.4L225 706L227.9 706.6L230.9 707.1L234 707.5" fill="none" stroke="#111" stroke-width="1.4"/>
<path d="M234 707.5L237.7 708L241.5 708.3L245.4 708.6L249.4 708.9L253.5 709L257.6 709.1L261.7 709.1L265.8 709L269.8 708.8L273.8 708.6L277.7 708.3L281.5 707.9" fill="none" stroke="#111" stroke-width="1"/>
<path d="M281.5 707.9L285 707.5L288.3 707L291.5 706.5L294.5 705.9L297.3 705.2L300 704.5L302.4 703.8L304.7 703L306.7 702.2L308.5 701.4L310 700.5L311.2 699.6L312.3 698.6L313 697.7L313.5 696.7L313.7 695.8" fill="none" stroke="#111" stroke-width="1.3"/>
<path d="M205.4 697.9L205.6 698.8L206 699.7L206.7 700.5L207.5 701.4L208.7 702.3L210 703.1L211.6 703.9L213.4 704.7L215.3 705.4L217.5 706.2L219.9 706.8L222.4 707.5L225.1 708.1L228 708.6L231 709.1L234.1 709.6" fill="none" stroke="#111" stroke-width="1.4"/>
<path d="M234.1 709.6L237.8 710L241.6 710.4L245.5 710.7L249.5 710.9L253.5 711.1L257.6 711.1L261.7 711.1L265.8 711.1L269.8 710.9L273.8 710.7L277.7 710.4L281.5 710" fill="none" stroke="#111" stroke-width="1"/>
<path d="M281.5 710L284.9 709.6L288.3 709.1L291.4 708.5L294.4 707.9L297.3 707.3L299.9 706.6L302.4 705.9L304.6 705.1L306.6 704.3L308.4 703.4L309.9 702.5L311.2 701.6L312.2 700.7L312.9 699.8L313.4 698.8L313.6 697.9" fill="none" stroke="#111" stroke-width="1.3"/>
<path d="M205.5 699.9L205.7 700.8L206.1 701.7L206.8 702.6L207.7 703.5L208.8 704.3L210.1 705.2L211.7 706L213.5 706.8L215.4 707.5L217.6 708.2L220 708.9L222.5 709.5L225.2 710.1L228 710.7L231 711.2L234.1 711.6" fill="none" stroke="#111" stroke-width="1.4"/>
<path d="M234.1 711.6L237.8 712.1L241.6 712.4L245.5 712.7L249.5 713L253.5 713.1L257.6 713.2L261.7 713.2L265.8 713.1L269.8 713L273.8 712.7L277.7 712.4L281.5 712" fill="none" stroke="#111" stroke-width="1"/>
<path d="M281.5 712L284.9 711.6L288.2 711.1L291.4 710.6L294.4 710L297.2 709.4L299.9 708.7L302.3 707.9L304.5 707.2L306.5 706.3L308.3 705.5L309.8 704.6L311.1 703.7L312.1 702.8L312.8 701.8L313.3 700.9L313.5 699.9" fill="none" stroke="#111" stroke-width="1.3"/>
<clipPath id="bk"><path d="M198.6 573L205.5 699.7L205.7 700.8L206.2 701.8L207 702.9L208.1 703.9L209.6 704.9L211.4 705.8L213.5 706.8L215.8 707.6L218.4 708.5L221.3 709.2L224.4 710L227.8 710.6L231.3 711.2L235 711.7L238.8 712.2L242.8 712.5L246.9 712.8L251.1 713L255.3 713.2L259.5 713.2L263.7 713.2L267.9 713L272.1 712.8L276.2 712.5L280.2 712.2L284 711.7L287.7 711.2L291.2 710.6L294.6 710L297.7 709.2L300.6 708.5L303.2 707.6L305.5 706.8L307.6 705.8L309.4 704.9L310.9 703.9L312 702.9L312.8 701.8L313.3 700.8L313.5 699.7L319 573Z"/></clipPath>
<g clip-path="url(#bk)" stroke="#222" stroke-width="0.6" opacity="0.5">
<path d="M198 585.0L236 594.0"/>
<path d="M288 593.0L320 581.0"/>
<path d="M198 587.4L236 596.4"/>
<path d="M288 595.4L320 583.4"/>
<path d="M198 589.8L236 598.8"/>
<path d="M288 597.8L320 585.8"/>
<path d="M198 592.2L236 601.2"/>
<path d="M288 600.2L320 588.2"/>
<path d="M198 594.6L236 603.6"/>
<path d="M288 602.6L320 590.6"/>
<path d="M198 597.0L236 606.0"/>
<path d="M288 605.0L320 593.0"/>
<path d="M198 599.4L236 608.4"/>
<path d="M288 607.4L320 595.4"/>
<path d="M198 601.8L236 610.8"/>
<path d="M288 609.8L320 597.8"/>
<path d="M198 604.2L236 613.2"/>
<path d="M288 612.2L320 600.2"/>
<path d="M198 606.6L236 615.6"/>
<path d="M288 614.6L320 602.6"/>
<path d="M198 609.0L236 618.0"/>
<path d="M288 617.0L320 605.0"/>
<path d="M198 611.4L236 620.4"/>
<path d="M288 619.4L320 607.4"/>
<path d="M198 613.8L236 622.8"/>
<path d="M288 621.8L320 609.8"/>
<path d="M198 616.2L236 625.2"/>
<path d="M288 624.2L320 612.2"/>
<path d="M198 618.6L236 627.6"/>
<path d="M288 626.6L320 614.6"/>
<path d="M198 621.0L236 630.0"/>
<path d="M288 629.0L320 617.0"/>
<path d="M198 623.4L236 632.4"/>
<path d="M288 631.4L320 619.4"/>
<path d="M198 625.8L236 634.8"/>
<path d="M288 633.8L320 621.8"/>
<path d="M198 628.2L236 637.2"/>
<path d="M288 636.2L320 624.2"/>
<path d="M198 630.6L236 639.6"/>
<path d="M288 638.6L320 626.6"/>
<path d="M198 633.0L236 642.0"/>
<path d="M288 641.0L320 629.0"/>
<path d="M198 635.4L236 644.4"/>
<path d="M288 643.4L320 631.4"/>
<path d="M198 637.8L236 646.8"/>
<path d="M288 645.8L320 633.8"/>
<path d="M198 640.2L236 649.2"/>
<path d="M288 648.2L320 636.2"/>
<path d="M198 642.6L236 651.6"/>
<path d="M288 650.6L320 638.6"/>
<path d="M198 645.0L236 654.0"/>
<path d="M288 653.0L320 641.0"/>
<path d="M198 647.4L236 656.4"/>
<path d="M288 655.4L320 643.4"/>
<path d="M198 649.8L236 658.8"/>
<path d="M288 657.8L320 645.8"/>
<path d="M198 652.2L236 661.2"/>
<path d="M288 660.2L320 648.2"/>
<path d="M198 654.6L236 663.6"/>
<path d="M288 662.6L320 650.6"/>
<path d="M198 657.0L236 666.0"/>
<path d="M288 665.0L320 653.0"/>
<path d="M198 659.4L236 668.4"/>
<path d="M288 667.4L320 655.4"/>
<path d="M198 661.8L236 670.8"/>
<path d="M288 669.8L320 657.8"/>
<path d="M198 664.2L236 673.2"/>
<path d="M288 672.2L320 660.2"/>
<path d="M198 666.6L236 675.6"/>
<path d="M288 674.6L320 662.6"/>
<path d="M198 669.0L236 678.0"/>
<path d="M288 677.0L320 665.0"/>
<path d="M198 671.4L236 680.4"/>
<path d="M288 679.4L320 667.4"/>
<path d="M198 673.8L236 682.8"/>
<path d="M288 681.8L320 669.8"/>
<path d="M198 676.2L236 685.2"/>
<path d="M288 684.2L320 672.2"/>
<path d="M198 678.6L236 687.6"/>
<path d="M288 686.6L320 674.6"/>
<path d="M198 681.0L236 690.0"/>
<path d="M288 689.0L320 677.0"/>
<path d="M198 683.4L236 692.4"/>
<path d="M288 691.4L320 679.4"/>
<path d="M198 685.8L236 694.8"/>
<path d="M288 693.8L320 681.8"/>
<path d="M198 688.2L236 697.2"/>
<path d="M288 696.2L320 684.2"/>
<path d="M198 690.6L236 699.6"/>
<path d="M288 698.6L320 686.6"/>
<path d="M198 693.0L236 702.0"/>
<path d="M288 701.0L320 689.0"/>
<path d="M198 695.4L236 704.4"/>
<path d="M288 703.4L320 691.4"/>
<path d="M198 697.8L236 706.8"/>
<path d="M288 705.8L320 693.8"/>
<path d="M198 700.2L236 709.2"/>
<path d="M288 708.2L320 696.2"/>
<path d="M198 702.6L236 711.6"/>
<path d="M288 710.6L320 698.6"/>
<path d="M198 705.0L236 714.0"/>
<path d="M288 713.0L320 701.0"/>
<path d="M198 707.4L236 716.4"/>
<path d="M288 715.4L320 703.4"/>
<path d="M198 709.8L236 718.8"/>
<path d="M288 717.8L320 705.8"/>
<path d="M198 712.2L236 721.2"/>
<path d="M288 720.2L320 708.2"/>
<path d="M198 714.6L236 723.6"/>
<path d="M288 722.6L320 710.6"/>
<path d="M198 717.0L236 726.0"/>
<path d="M288 725.0L320 713.0"/>
<path d="M198 719.4L236 728.4"/>
<path d="M288 727.4L320 715.4"/>
<path d="M198 721.8L236 730.8"/>
<path d="M288 729.8L320 717.8"/>
<path d="M198 724.2L236 733.2"/>
<path d="M288 732.2L320 720.2"/>
<path d="M198 726.6L236 735.6"/>
<path d="M288 734.6L320 722.6"/>
</g>
<path d="M281.2 578L285.6 578L285.3 708.5L281.2 709.5Z" fill="#fff" stroke="none" stroke-width="0" stroke-linejoin="round"/>
<path d="M281.2 578L281.2 709.8" fill="none" stroke="#1a1a1a" stroke-width="1.3"/>
<path d="M285.6 578L285.3 708.6" fill="none" stroke="#1a1a1a" stroke-width="1.3"/>
<path d="M190.4 506L205.1 515.9L223.4 522.2L261.3 524.3L286.6 522.9L304.9 518.7L318.9 513.1L319.5 552.4L317.8 570.7L303.5 576.3L286.6 579.8L259.9 581.1L234.6 579.1L212.2 574.2L193.2 562.9L191.1 538.4Z" fill="#fff" stroke="#1a1a1a" stroke-width="1.5" stroke-linejoin="round"/>
<path d="M226.9 524.6L231.1 525.2L235.4 525.8L239.9 526.2L244.5 526.5L249.1 526.8L253.9 526.9L258.6 527L263.4 527L268.2 526.9L272.9 526.7L277.5 526.4L282 526" fill="none" stroke="#111" stroke-width="1.1"/>
<path d="M288.9 525.2L292.5 524.7L296 524.1L299.2 523.5L302.3 522.8L305.3 522L308 521.3L310.5 520.4L312.8 519.6L314.8 518.7L316.6 517.7L318.1 516.8L319.4 515.8" fill="none" stroke="#111" stroke-width="1.2"/>
<path d="M227 526.9L231.1 527.5L235.4 528L239.9 528.5L244.5 528.8L249.1 529.1L253.9 529.2L258.6 529.3L263.4 529.3L268.2 529.2L272.9 528.9L277.5 528.6L282 528.3" fill="none" stroke="#111" stroke-width="1.1"/>
<path d="M288.9 527.5L292.5 527L295.9 526.4L299.2 525.8L302.3 525.1L305.2 524.3L308 523.5L310.5 522.7L312.7 521.9L314.8 520.9L316.6 520L318.1 519.1L319.4 518.1" fill="none" stroke="#111" stroke-width="1.2"/>
<path d="M227 529.2L231.1 529.8L235.4 530.3L239.9 530.8L244.5 531.1L249.1 531.4L253.9 531.5L258.6 531.6L263.4 531.6L268.2 531.4L272.9 531.2L277.5 530.9L282 530.6" fill="none" stroke="#111" stroke-width="1.1"/>
<path d="M288.9 529.8L292.5 529.3L295.9 528.7L299.2 528L302.3 527.4L305.2 526.6L307.9 525.8L310.4 525L312.7 524.1L314.7 523.2L316.5 522.3L318.1 521.3L319.3 520.4" fill="none" stroke="#111" stroke-width="1.2"/>
<path d="M227 531.5L231.1 532.1L235.4 532.6L239.9 533.1L244.5 533.4L249.1 533.6L253.9 533.8L258.6 533.9L263.4 533.8L268.1 533.7L272.8 533.5L277.5 533.2L282 532.8" fill="none" stroke="#111" stroke-width="1.1"/>
<path d="M288.9 532.1L292.4 531.5L295.9 531L299.2 530.3L302.3 529.6L305.2 528.9L307.9 528.1L310.4 527.3L312.7 526.4L314.7 525.5L316.5 524.6L318 523.6L319.3 522.6" fill="none" stroke="#111" stroke-width="1.2"/>
<path d="M227 533.8L231.2 534.4L235.5 534.9L239.9 535.3L244.5 535.7L249.1 535.9L253.9 536.1L258.6 536.2L263.4 536.1L268.1 536L272.8 535.8L277.5 535.5L282 535.1" fill="none" stroke="#111" stroke-width="1.1"/>
<path d="M288.8 534.4L292.4 533.8L295.9 533.3L299.2 532.6L302.3 531.9L305.2 531.2L307.9 530.4L310.4 529.6L312.6 528.7L314.7 527.8L316.5 526.9L318 525.9L319.3 524.9" fill="none" stroke="#111" stroke-width="1.2"/>
<path d="M227 536.1L231.2 536.7L235.5 537.2L239.9 537.6L244.5 538L249.2 538.2L253.9 538.4L258.6 538.5L263.4 538.4L268.1 538.3L272.8 538.1L277.4 537.8L282 537.4" fill="none" stroke="#111" stroke-width="1.1"/>
<path d="M288.8 536.6L292.4 536.1L295.9 535.6L299.1 534.9L302.2 534.2L305.1 533.5L307.9 532.7L310.3 531.9L312.6 531L314.6 530.1L316.4 529.2L318 528.2L319.2 527.2" fill="none" stroke="#111" stroke-width="1.2"/>
<path d="M227.1 538.4L231.2 539L235.5 539.5L239.9 539.9L244.5 540.3L249.2 540.5L253.9 540.7L258.6 540.7L263.4 540.7L268.1 540.6L272.8 540.4L277.4 540.1L281.9 539.7" fill="none" stroke="#111" stroke-width="1.1"/>
<path d="M288.8 538.9L292.4 538.4L295.8 537.8L299.1 537.2L302.2 536.5L305.1 535.8L307.8 535L310.3 534.2L312.6 533.3L314.6 532.4L316.4 531.5L317.9 530.5L319.2 529.5" fill="none" stroke="#111" stroke-width="1.2"/>
<path d="M227.1 540.7L231.2 541.3L235.5 541.8L239.9 542.2L244.5 542.6L249.2 542.8L253.9 543L258.6 543L263.4 543L268.1 542.9L272.8 542.7L277.4 542.4L281.9 542" fill="none" stroke="#111" stroke-width="1.1"/>
<path d="M288.8 541.2L292.4 540.7L295.8 540.1L299.1 539.5L302.2 538.8L305.1 538.1L307.8 537.3L310.3 536.5L312.6 535.6L314.6 534.7L316.4 533.8L317.9 532.8L319.2 531.8" fill="none" stroke="#111" stroke-width="1.2"/>
<path d="M227.1 543L231.2 543.6L235.5 544.1L240 544.5L244.5 544.9L249.2 545.1L253.9 545.3L258.6 545.3L263.4 545.3L268.1 545.2L272.8 545L277.4 544.7L281.9 544.3" fill="none" stroke="#111" stroke-width="1.1"/>
<path d="M288.8 543.5L292.4 543L295.8 542.4L299.1 541.8L302.2 541.1L305.1 540.4L307.8 539.6L310.3 538.8L312.5 537.9L314.6 537L316.3 536.1L317.9 535.1L319.1 534.1" fill="none" stroke="#111" stroke-width="1.2"/>
<path d="M227.1 545.3L231.2 545.9L235.5 546.4L240 546.8L244.5 547.1L249.2 547.4L253.9 547.6L258.6 547.6L263.4 547.6L268.1 547.5L272.8 547.3L277.4 547L281.9 546.6" fill="none" stroke="#111" stroke-width="1.1"/>
<path d="M288.8 545.8L292.3 545.3L295.8 544.7L299 544.1L302.1 543.4L305 542.7L307.7 541.9L310.2 541.1L312.5 540.2L314.5 539.3L316.3 538.3L317.8 537.4L319.1 536.4" fill="none" stroke="#111" stroke-width="1.2"/>
<path d="M227.1 547.6L231.2 548.2L235.5 548.7L240 549.1L244.5 549.4L249.2 549.7L253.9 549.8L258.6 549.9L263.4 549.9L268.1 549.8L272.8 549.6L277.4 549.3L281.9 548.9" fill="none" stroke="#111" stroke-width="1.1"/>
<path d="M288.8 548.1L292.3 547.6L295.8 547L299 546.4L302.1 545.7L305 545L307.7 544.2L310.2 543.3L312.5 542.5L314.5 541.6L316.3 540.6L317.8 539.7L319.1 538.7" fill="none" stroke="#111" stroke-width="1.2"/>
<path d="M227.1 549.9L231.3 550.4L235.6 551L240 551.4L244.5 551.7L249.2 552L253.9 552.1L258.6 552.2L263.4 552.2L268.1 552.1L272.8 551.9L277.4 551.6L281.9 551.2" fill="none" stroke="#111" stroke-width="1.1"/>
<path d="M288.7 550.4L292.3 549.9L295.7 549.3L299 548.7L302.1 548L305 547.2L307.7 546.5L310.2 545.6L312.4 544.8L314.5 543.9L316.2 542.9L317.8 542L319 541" fill="none" stroke="#111" stroke-width="1.2"/>
<path d="M227.2 552.1L231.3 552.7L235.6 553.3L240 553.7L244.6 554L249.2 554.3L253.9 554.4L258.6 554.5L263.4 554.5L268.1 554.4L272.8 554.2L277.4 553.9L281.9 553.5" fill="none" stroke="#111" stroke-width="1.1"/>
<path d="M288.7 552.7L292.3 552.2L295.7 551.6L299 551L302.1 550.3L305 549.5L307.7 548.8L310.2 547.9L312.4 547.1L314.4 546.2L316.2 545.2L317.7 544.3L319 543.3" fill="none" stroke="#111" stroke-width="1.2"/>
<path d="M227.2 554.4L231.3 555L235.6 555.5L240 556L244.6 556.3L249.2 556.6L253.9 556.7L258.6 556.8L263.4 556.8L268.1 556.7L272.8 556.4L277.4 556.1L281.9 555.8" fill="none" stroke="#111" stroke-width="1.1"/>
<path d="M288.7 555L292.3 554.5L295.7 553.9L299 553.3L302 552.6L304.9 551.8L307.6 551L310.1 550.2L312.4 549.4L314.4 548.4L316.2 547.5L317.7 546.6L319 545.6" fill="none" stroke="#111" stroke-width="1.2"/>
<path d="M227.2 556.7L231.3 557.3L235.6 557.8L240 558.3L244.6 558.6L249.2 558.9L253.9 559L258.6 559.1L263.4 559.1L268.1 558.9L272.8 558.7L277.4 558.4L281.9 558.1" fill="none" stroke="#111" stroke-width="1.1"/>
<path d="M288.7 557.3L292.3 556.8L295.7 556.2L298.9 555.5L302 554.9L304.9 554.1L307.6 553.3L310.1 552.5L312.4 551.6L314.4 550.7L316.2 549.8L317.7 548.8L318.9 547.9" fill="none" stroke="#111" stroke-width="1.2"/>
<path d="M227.2 559L231.3 559.6L235.6 560.1L240 560.6L244.6 560.9L249.2 561.1L253.9 561.3L258.6 561.4L263.4 561.3L268.1 561.2L272.8 561L277.4 560.7L281.8 560.3" fill="none" stroke="#111" stroke-width="1.1"/>
<path d="M288.7 559.6L292.2 559L295.7 558.5L298.9 557.8L302 557.1L304.9 556.4L307.6 555.6L310.1 554.8L312.3 553.9L314.4 553L316.1 552.1L317.7 551.1L318.9 550.1" fill="none" stroke="#111" stroke-width="1.2"/>
<path d="M227.2 561.3L231.3 561.9L235.6 562.4L240 562.8L244.6 563.2L249.2 563.4L253.9 563.6L258.6 563.7L263.4 563.6L268.1 563.5L272.8 563.3L277.3 563L281.8 562.6" fill="none" stroke="#111" stroke-width="1.1"/>
<path d="M288.7 561.9L292.2 561.3L295.6 560.8L298.9 560.1L302 559.4L304.9 558.7L307.6 557.9L310 557.1L312.3 556.2L314.3 555.3L316.1 554.4L317.6 553.4L318.9 552.4" fill="none" stroke="#111" stroke-width="1.2"/>
<path d="M227.2 563.6L231.4 564.2L235.6 564.7L240.1 565.1L244.6 565.5L249.2 565.7L253.9 565.9L258.6 566L263.4 565.9L268.1 565.8L272.7 565.6L277.3 565.3L281.8 564.9" fill="none" stroke="#111" stroke-width="1.1"/>
<path d="M288.6 564.1L292.2 563.6L295.6 563.1L298.9 562.4L302 561.7L304.9 561L307.5 560.2L310 559.4L312.3 558.5L314.3 557.6L316.1 556.7L317.6 555.7L318.9 554.7" fill="none" stroke="#111" stroke-width="1.2"/>
<path d="M227.3 565.9L231.4 566.5L235.6 567L240.1 567.4L244.6 567.8L249.2 568L253.9 568.2L258.6 568.2L263.4 568.2L268.1 568.1L272.7 567.9L277.3 567.6L281.8 567.2" fill="none" stroke="#111" stroke-width="1.1"/>
<path d="M288.6 566.4L292.2 565.9L295.6 565.3L298.9 564.7L301.9 564L304.8 563.3L307.5 562.5L310 561.7L312.2 560.8L314.3 559.9L316 559L317.6 558L318.8 557" fill="none" stroke="#111" stroke-width="1.2"/>
<path d="M227.3 568.2L231.4 568.8L235.7 569.3L240.1 569.7L244.6 570.1L249.2 570.3L253.9 570.5L258.6 570.5L263.4 570.5L268.1 570.4L272.7 570.2L277.3 569.9L281.8 569.5" fill="none" stroke="#111" stroke-width="1.1"/>
<path d="M288.6 568.7L292.2 568.2L295.6 567.6L298.8 567L301.9 566.3L304.8 565.6L307.5 564.8L310 564L312.2 563.1L314.2 562.2L316 561.3L317.5 560.3L318.8 559.3" fill="none" stroke="#111" stroke-width="1.2"/>
<path d="M227.3 570.5L231.4 571.1L235.7 571.6L240.1 572L244.6 572.4L249.2 572.6L253.9 572.8L258.6 572.8L263.4 572.8L268.1 572.7L272.7 572.5L277.3 572.2L281.8 571.8" fill="none" stroke="#111" stroke-width="1.1"/>
<path d="M288.6 571L292.2 570.5L295.6 569.9L298.8 569.3L301.9 568.6L304.8 567.9L307.5 567.1L309.9 566.3L312.2 565.4L314.2 564.5L316 563.6L317.5 562.6L318.8 561.6" fill="none" stroke="#111" stroke-width="1.2"/>
<path d="M227.3 572.8L231.4 573.4L235.7 573.9L240.1 574.3L244.6 574.6L249.2 574.9L253.9 575.1L258.6 575.1L263.4 575.1L268.1 575L272.7 574.8L277.3 574.5L281.8 574.1" fill="none" stroke="#111" stroke-width="1.1"/>
<path d="M288.6 573.3L292.1 572.8L295.5 572.2L298.8 571.6L301.9 570.9L304.8 570.2L307.4 569.4L309.9 568.6L312.2 567.7L314.2 566.8L315.9 565.8L317.5 564.9L318.7 563.9" fill="none" stroke="#111" stroke-width="1.2"/>
<path d="M227.3 575.1L231.4 575.7L235.7 576.2L240.1 576.6L244.6 576.9L249.2 577.2L253.9 577.3L258.6 577.4L263.4 577.4L268.1 577.3L272.7 577.1L277.3 576.8L281.8 576.4" fill="none" stroke="#111" stroke-width="1.1"/>
<path d="M288.6 575.6L292.1 575.1L295.5 574.5L298.8 573.9L301.8 573.2L304.7 572.5L307.4 571.7L309.9 570.8L312.1 570L314.1 569.1L315.9 568.1L317.4 567.2L318.7 566.2" fill="none" stroke="#111" stroke-width="1.2"/>
<path d="M227.4 577.4L231.4 577.9L235.7 578.5L240.1 578.9L244.6 579.2L249.3 579.5L253.9 579.6L258.6 579.7L263.4 579.7L268.1 579.6L272.7 579.4L277.3 579.1L281.7 578.7" fill="none" stroke="#111" stroke-width="1.1"/>
<path d="M288.5 577.9L292.1 577.4L295.5 576.8L298.7 576.2L301.8 575.5L304.7 574.7L307.4 574L309.9 573.1L312.1 572.3L314.1 571.4L315.9 570.4L317.4 569.5L318.7 568.5" fill="none" stroke="#111" stroke-width="1.2"/>
<path d="M227.4 579.6L231.5 580.2L235.7 580.8L240.1 581.2L244.6 581.5L249.3 581.8L253.9 581.9L258.6 582L263.4 582L268.1 581.9L272.7 581.7L277.3 581.4L281.7 581" fill="none" stroke="#111" stroke-width="1.1"/>
<path d="M288.5 580.2L292.1 579.7L295.5 579.1L298.7 578.5L301.8 577.8L304.7 577L307.4 576.3L309.8 575.4L312.1 574.6L314.1 573.7L315.9 572.7L317.4 571.8L318.6 570.8" fill="none" stroke="#111" stroke-width="1.2"/>
<path d="M189.7 496.2L198.1 506L226.2 516.6L261.3 519.4L286.6 518L317.5 508.8L324.6 507.4L324.6 493.4L189.7 493.4Z" fill="#fff" stroke="none" stroke-width="0" stroke-linejoin="round"/>
<path d="M282.4 493.5L286.6 493.5L286 580L281.4 580Z" fill="#fff" stroke="none" stroke-width="0" stroke-linejoin="round"/>
<path d="M282.6 493.5L281.3 580" fill="none" stroke="#1a1a1a" stroke-width="1.3"/>
<path d="M286.7 493.5L285.7 580" fill="none" stroke="#1a1a1a" stroke-width="1.3"/>
<path d="M193.2 562.2C196.1 563.1 205.2 570.8 212.2 573.5C219.1 576.2 226.7 577.2 234.6 578.4C242.6 579.6 251.3 580.4 259.9 580.5C268.6 580.6 279.4 580 286.6 579.1C293.9 578.2 298.3 576.9 303.5 575.2C308.7 573.5 315.4 569 317.8 569C320.2 569 320.2 573.2 317.8 575.2C315.4 577.2 308.7 579.5 303.5 581.1C298.3 582.7 293.9 583.9 286.6 584.7C279.4 585.6 268.6 586.2 259.9 586.1C251.3 586 242.6 585.2 234.6 584C226.7 582.9 218.8 581.7 212.2 579.1C205.5 576.5 197.8 571.4 194.6 568.6C191.4 565.8 190.3 561.4 193.2 562.2Z" fill="#fff" stroke="#1a1a1a" stroke-width="1.5" stroke-linejoin="round" stroke-linecap="round"/>
<path d="M307.7 567.2L316.1 566.5L317 570L308.4 573.5Z" fill="#fff" stroke="#1a1a1a" stroke-width="1.3" stroke-linejoin="round"/>
<path d="M189.7 496.2C191 496.2 192 502.6 198.1 506C204.2 509.4 215.7 514.4 226.2 516.6C236.7 518.8 251.3 519.2 261.3 519.4C271.4 519.6 279.4 518.9 286.6 518C293.9 517 299.7 515.3 304.9 513.8C310 512.2 315.4 508.8 317.5 508.8C319.7 508.9 319.9 512.5 317.8 514.2C315.7 515.8 310.1 517.2 304.9 518.7C299.7 520.1 293.9 522 286.6 522.9C279.4 523.8 271.9 524.4 261.3 524.3C250.8 524.2 232.8 523.6 223.4 522.2C214 520.8 210.6 518.6 205.1 515.9C199.6 513.2 192.9 509.3 190.4 506C187.8 502.8 188.4 496.2 189.7 496.2Z" fill="#fff" stroke="#1a1a1a" stroke-width="1.5" stroke-linejoin="round" stroke-linecap="round"/>
<path d="M196.7 511.9C199 514.2 207.1 520.8 210.7 525.7C214.4 530.6 217.5 536 218.5 541.2C219.4 546.3 218.1 552.1 216.4 556.6C214.7 561.1 209.6 566.2 208.2 568.1" fill="none" stroke="#1a1a1a" stroke-width="1.5" stroke-linejoin="round" stroke-linecap="round"/>
<path d="M200.2 524.3C201.5 526.2 206.2 531.8 207.9 535.5C209.6 539.3 210.5 543 210.5 546.8C210.5 550.5 209.2 555.2 207.9 558C206.7 560.8 204.3 564.6 203 563.6C201.7 562.7 200.7 556.6 200.2 552.4C199.7 548.2 199.8 543 199.8 538.4C199.8 533.7 200.1 526.6 200.2 524.3" fill="none" stroke="#1a1a1a" stroke-width="1.4" stroke-linejoin="round" stroke-linecap="round"/>
<path d="M191.1 513.1C193.2 515.6 200.2 523.4 203.7 528.5C207.2 533.7 211 538.8 212.2 544C213.3 549.1 212.2 555.6 210.7 559.4C209.3 563.3 205.8 566 203.7 567.2C201.6 568.3 199.7 567.5 198.1 566.5C196.5 565.4 194.6 561.8 193.9 560.8" fill="none" stroke="#1a1a1a" stroke-width="1.3" stroke-linejoin="round" stroke-linecap="round"/>
<path d="M202 529.9L206.8 530.5" fill="none" stroke="#444" stroke-width="0.9"/>
<path d="M202 532.7L206.8 533.3" fill="none" stroke="#444" stroke-width="0.9"/>
<path d="M202 535.5L206.8 536.1" fill="none" stroke="#444" stroke-width="0.9"/>
<path d="M202 538.4L206.8 538.9" fill="none" stroke="#444" stroke-width="0.9"/>
<path d="M202 541.2L206.8 541.7" fill="none" stroke="#444" stroke-width="0.9"/>
<path d="M202 544L206.8 544.5" fill="none" stroke="#444" stroke-width="0.9"/>
<path d="M202 546.8L206.8 547.3" fill="none" stroke="#444" stroke-width="0.9"/>
<path d="M202 549.6L206.8 550.2" fill="none" stroke="#444" stroke-width="0.9"/>
<path d="M202 552.4L206.8 553" fill="none" stroke="#444" stroke-width="0.9"/>
<path d="M202 555.2L205.1 555.8" fill="none" stroke="#444" stroke-width="0.9"/>
<path d="M202 558L205.1 558.6" fill="none" stroke="#444" stroke-width="0.9"/>
<path d="M202 560.8L205.1 561.4" fill="none" stroke="#444" stroke-width="0.9"/>
<path d="M222.7 522.9C222.9 526.9 223.7 538.4 224.1 546.8C224.5 555.2 224.9 569 225.1 573.5" fill="none" stroke="#1a1a1a" stroke-width="1.2" stroke-linejoin="round" stroke-linecap="round"/>
<path d="M194.7 486.4L194.7 501.8" fill="none" stroke="#1a1a1a" stroke-width="1.4"/>
<path d="M199.1 487.8L199.1 505.8" fill="none" stroke="#1a1a1a" stroke-width="1.3"/>
<path d="M322.3 485L321.7 513.1" fill="none" stroke="#1a1a1a" stroke-width="1.5"/>
<path d="M319.8 513.1L319.8 566.5" fill="none" stroke="#1a1a1a" stroke-width="1.5"/>
<path d="M322.3 491.7L325.1 492.8L325.1 497.3L322.3 498.2" fill="none" stroke="#1a1a1a" stroke-width="1.3" stroke-linejoin="round"/>
<path d="M319.8 548.2L322 549.3L322 556.1L319.8 556.9" fill="none" stroke="#1a1a1a" stroke-width="1.3" stroke-linejoin="round"/>
<path d="M317.5 508.8L317.8 518.7" fill="none" stroke="#1a1a1a" stroke-width="1.3"/>
<path d="M187 474.6L187 478.1L187.2 479.6L187.9 481L189 482.4L190.5 483.8L192.4 485.2L194.8 486.5L197.5 487.8L200.7 489L204.1 490.1L207.9 491.2L212.1 492.2L216.5 493.1L221.1 493.9L226 494.6L231.1 495.2L236.4 495.7L241.8 496.1L247.3 496.4L252.9 496.5L258.5 496.6L264.1 496.5L269.7 496.4L275.2 496.1L280.6 495.7L285.9 495.2L291 494.6L295.9 493.9L300.5 493.1L304.9 492.2L309.1 491.2L312.9 490.1L316.3 489L319.5 487.8L322.2 486.5L324.6 485.2L326.5 483.8L328 482.4L329.1 481L329.8 479.6L330 478.1L330 474.6" fill="#fff" stroke="#1a1a1a" stroke-width="1.5" stroke-linejoin="round"/>
<path d="M180.1 464.6L181 468.6L181.2 470.3L182 472L183.1 473.7L184.8 475.4L186.9 477L189.4 478.6L192.4 480.1L195.8 481.5L199.6 482.9L203.7 484.2L208.2 485.3L212.9 486.4L218 487.4L223.3 488.2L228.8 488.9L234.6 489.5L240.4 490L246.4 490.3L252.4 490.5L258.5 490.6L264.6 490.5L270.6 490.3L276.6 490L282.4 489.5L288.2 488.9L293.7 488.2L299 487.4L304.1 486.4L308.8 485.3L313.3 484.2L317.4 482.9L321.2 481.5L324.6 480.1L327.6 478.6L330.1 477L332.2 475.4L333.9 473.7L335 472L335.8 470.3L336 468.6L336.9 464.6" fill="#fff" stroke="#1a1a1a" stroke-width="1.7" stroke-linejoin="round"/>
<ellipse cx="258.5" cy="464.6" rx="78.4" ry="22" fill="#fff" stroke="#1a1a1a" stroke-width="1.8"/>
<path d="M187.1 459L184.9 460.9L183.4 462.9L182.6 464.9L182.5 466.9L183.2 468.9L184.4 470.9L186.4 472.9L189.1 474.7L192.4 476.5L196.2 478.2L200.7 479.8L205.7 481.3L211.2 482.6L217.1 483.8L223.4 484.8L230 485.7L236.9 486.3L244 486.8L251.2 487.1L258.5 487.2L265.8 487.1L273 486.8L280.1 486.3L287 485.7L293.6 484.8L299.9 483.8L305.8 482.6L311.3 481.3L316.3 479.8L320.8 478.2L324.6 476.5L327.9 474.7L330.6 472.9L332.6 470.9L333.8 468.9L334.5 466.9L334.4 464.9L333.6 462.9L332.1 460.9L329.9 459" fill="none" stroke="#1a1a1a" stroke-width="1.2"/>
<ellipse cx="258.2" cy="462.6" rx="69.8" ry="16.2" fill="none" stroke="#1a1a1a" stroke-width="1.5"/>
<path d="M197.4 467.2L197.6 466.3L198.2 465.3L199.1 464.4L200.4 463.5L202.1 462.6L204.1 461.8L206.5 460.9L209.2 460.1L212.2 459.4L215.5 458.7L219.1 458.1L222.9 457.5L226.9 457L231.1 456.5L235.6 456.1L240.1 455.8L244.8 455.5L249.5 455.3L254.4 455.2L259.2 455.2L264 455.2L268.9 455.3L273.6 455.5L278.3 455.8L282.8 456.1L287.3 456.5L291.5 457L295.5 457.5L299.3 458.1L302.9 458.7L306.2 459.4L309.2 460.1L311.9 460.9L314.3 461.8L316.3 462.6L318 463.5L319.3 464.4L320.2 465.3L320.8 466.3L321 467.2" fill="none" stroke="#1a1a1a" stroke-width="1.4"/>
<path d="M321.5 468.7L319.9 469.6L318.2 470.4L316.2 471.2L314 472L311.7 472.8L309.1 473.5L306.3 474.2L303.3 474.8L300.2 475.4L296.9 476L293.5 476.5L290 476.9L286.3 477.3L282.5 477.7L278.6 478L274.7 478.2L270.7 478.4L266.7 478.6L262.6 478.7L258.5 478.7L254.4 478.7L250.3 478.6L246.3 478.4L242.3 478.2L238.4 478L234.5 477.7L230.7 477.3L227 476.9L223.5 476.5L220.1 476L216.8 475.4L213.7 474.8L210.7 474.2L207.9 473.5L205.3 472.8L203 472L200.8 471.2L198.8 470.4L197.1 469.6L195.5 468.7" fill="none" stroke="#1a1a1a" stroke-width="1.2"/>
<!-- p_unions -->
<ellipse cx="124.1" cy="791.4" rx="9.9" ry="37.4" transform="rotate(-8 124.1 791.4)" fill="#fff" stroke="#1a1a1a" stroke-width="1.7"/>
<ellipse cx="124.1" cy="791.4" rx="8.2" ry="35.2" transform="rotate(-8 124.1 791.4)" fill="none" stroke="#1a1a1a" stroke-width="1.3"/>
<path d="M68.4 754.1L92.8 752.8L94.2 752L95.6 751.7L97.1 752L98.7 752.7L100.3 753.9L101.9 755.6L103.4 757.7L105 760.3L106.6 763.3L108 766.7L109.5 770.4L110.8 774.4L112 778.7L113.1 783.2L114.1 787.8L115 792.6L115.7 797.4L116.2 802.2L116.6 807L116.8 811.6L116.9 816.1L116.8 820.4L116.5 824.5L116 828.2L115.4 831.7L114.7 834.7L113.8 837.4L112.8 839.6L111.6 841.4L110.3 842.6L86.1 845L86.1 845L84.8 845.8L83.3 846.1L81.8 845.9L80.3 845.2L78.7 844L77.1 842.2L75.5 840.1L73.9 837.4L72.3 834.4L70.9 831L69.4 827.2L68.1 823.1L66.9 818.8L65.7 814.3L64.8 809.6L63.9 804.7L63.2 799.9L62.6 795L62.2 790.2L62 785.5L61.9 780.9L62 776.5L62.3 772.4L62.8 768.6L63.3 765.2L64.1 762.1L65 759.4L66 757.1L67.2 755.3L68.4 754.1Z" fill="#fff" stroke="#1a1a1a" stroke-width="1.8" stroke-linejoin="round"/>
<path d="M95.1 752.1L96.1 752.7L97.2 753.4L98.2 754.3L99.2 755.4L100.3 756.7L101.3 758.2L102.3 759.9L103.3 761.8L104.3 763.8L105.2 766L106.2 768.3L107.1 770.7L107.9 773.3L108.8 776L109.5 778.8L110.3 781.7L110.9 784.6L111.6 787.6L112.1 790.7L112.6 793.8L113.1 796.9L113.5 800L113.8 803.1L114 806.2L114.2 809.2L114.3 812.2L114.4 815.1L114.3 817.9L114.2 820.7L114.1 823.3L113.8 825.8L113.5 828.2L113.2 830.5L112.7 832.6L112.2 834.5L111.7 836.3L111.1 837.9L110.4 839.3L109.7 840.6L108.9 841.6" fill="none" stroke="#1a1a1a" stroke-width="1.3"/>
<path d="M79.1 755L91 752.8L81.2 760.2" fill="none" stroke="#1a1a1a" stroke-width="1.3" stroke-linejoin="round"/>
<path d="M81.2 760.2L95.3 758.1L101.6 767.9L86.8 770.7" fill="none" stroke="#1a1a1a" stroke-width="1.4" stroke-linejoin="round"/>
<path d="M86.8 770.7L88.2 778.5L105.8 775L109.3 790.4L92.4 793.9" fill="none" stroke="#1a1a1a" stroke-width="1.4" stroke-linejoin="round"/>
<path d="M92.4 793.9L93.8 803.1L110.7 801L111.4 815.7L95.3 818.5" fill="none" stroke="#1a1a1a" stroke-width="1.4" stroke-linejoin="round"/>
<path d="M95.3 818.5L96 827L110.7 824.8L107.9 834L92.4 838.2" fill="none" stroke="#1a1a1a" stroke-width="1.4" stroke-linejoin="round"/>
<path d="M92.4 838.2L91 842.4L103.7 839.6" fill="none" stroke="#1a1a1a" stroke-width="1.3" stroke-linejoin="round"/>
<ellipse cx="77.3" cy="799.6" rx="14" ry="47" transform="rotate(-8 77.3 799.6)" fill="#fff" stroke="#1a1a1a" stroke-width="1.8"/>
<ellipse cx="78.9" cy="799.6" rx="12.4" ry="44.2" transform="rotate(-8 78.9 799.6)" fill="none" stroke="#1a1a1a" stroke-width="1.3"/>
<path d="M46.1 770.7L65.5 766.8L66.9 766.4L68.4 766.6L69.9 767.3L71.4 768.6L72.9 770.5L74.4 772.8L75.8 775.7L77.2 778.9L78.4 782.6L79.5 786.5L80.5 790.7L81.3 795.1L81.9 799.5L82.4 804L82.6 808.4L82.7 812.7L82.5 816.7L82.2 820.5L81.6 824L80.9 827L80 829.6L79 831.7L77.8 833.3L76.5 834.3L55.2 838.9L55.1 838.5L53.7 838.9L52.2 838.7L50.7 838L49.2 836.7L47.7 834.9L46.2 832.5L44.7 829.6L43.4 826.4L42.2 822.7L41 818.8L40.1 814.6L39.3 810.2L38.6 805.8L38.2 801.3L37.9 796.9L37.9 792.6L38.1 788.6L38.4 784.8L38.9 781.3L39.7 778.3L40.6 775.7L41.6 773.6L42.8 772L44.1 771Z" fill="#fff" stroke="none" stroke-width="0" stroke-linejoin="round"/>
<path d="M46.1 770.7L67.2 766.8" fill="none" stroke="#1a1a1a" stroke-width="1.7"/>
<path d="M55.2 838.9L77 834.3" fill="none" stroke="#1a1a1a" stroke-width="1.7"/>
<path d="M65.5 766.8L66.9 766.4L68.4 766.6L69.9 767.3L71.4 768.6L72.9 770.5L74.4 772.8L75.8 775.7L77.2 778.9L78.4 782.6L79.5 786.5L80.5 790.7L81.3 795.1L81.9 799.5L82.4 804L82.6 808.4L82.7 812.7L82.5 816.7L82.2 820.5L81.6 824L80.9 827L80 829.6L79 831.7L77.8 833.3L76.5 834.3" fill="none" stroke="#1a1a1a" stroke-width="1.4" stroke-linejoin="round"/>
<ellipse cx="49.6" cy="804.8" rx="11" ry="34.4" transform="rotate(-7 49.6 804.8)" fill="#fff" stroke="#1a1a1a" stroke-width="1.8"/>
<ellipse cx="50.3" cy="805.2" rx="9.1" ry="30.6" transform="rotate(-7 50.3 805.2)" fill="none" stroke="#1a1a1a" stroke-width="1.5"/>
<ellipse cx="370.4" cy="672.7" rx="32" ry="8.3" fill="#fff" stroke="#1a1a1a" stroke-width="1.7"/>
<ellipse cx="370.4" cy="672.7" rx="30" ry="6.5" fill="none" stroke="#1a1a1a" stroke-width="1.3"/>
<path d="M331.4 632.9L332 653.2L332.2 654.4L332.8 655.7L333.9 656.8L335.3 658L337.2 659.1L339.4 660.1L341.9 661.1L344.8 662L348 662.7L351.4 663.4L355 664L358.7 664.4L362.7 664.7L366.7 664.9L370.7 665L374.7 664.9L378.7 664.7L382.7 664.4L386.4 664L390.1 663.4L393.4 662.7L396.6 662L399.5 661.1L402 660.1L404.2 659.1L406.1 658L407.5 656.8L408.6 655.7L409.2 654.4L409.4 653.2L410 632.9" fill="#fff" stroke="#1a1a1a" stroke-width="1.8" stroke-linejoin="round"/>
<ellipse cx="370.7" cy="632.9" rx="39.3" ry="9.8" fill="#fff" stroke="#1a1a1a" stroke-width="1.8"/>
<path d="M331.9 637.2L332.2 638L332.7 638.7L333.5 639.4L334.4 640.2L335.6 640.8L336.9 641.5L338.5 642.2L340.2 642.8L342.1 643.3L344.2 643.9L346.4 644.4L348.7 644.8L351.2 645.2L353.8 645.6L356.4 645.9L359.2 646.1L362 646.3L364.9 646.5L367.8 646.6L370.7 646.6L373.6 646.6L376.5 646.5L379.4 646.3L382.2 646.1L385 645.9L387.6 645.6L390.2 645.2L392.7 644.8L395 644.4L397.2 643.9L399.3 643.3L401.2 642.8L402.9 642.2L404.5 641.5L405.8 640.8L407 640.2L407.9 639.4L408.7 638.7L409.2 638L409.5 637.2" fill="none" stroke="#1a1a1a" stroke-width="1.3"/>
<path d="M336.4 635.5L336.9 636.1L337.6 636.6L338.4 637.2L339.4 637.7L340.6 638.2L341.8 638.7L343.3 639.1L344.8 639.6L346.5 640L348.3 640.4L350.2 640.7L352.3 641.1L354.4 641.3L356.5 641.6L358.8 641.8L361.1 642L363.5 642.1L365.9 642.2L368.3 642.3L370.7 642.3L373.1 642.3L375.5 642.2L377.9 642.1L380.3 642L382.6 641.8L384.9 641.6L387 641.3L389.1 641.1L391.2 640.7L393.1 640.4L394.9 640L396.6 639.6L398.1 639.1L399.6 638.7L400.8 638.2L402 637.7L403 637.2L403.8 636.6L404.5 636.1L405 635.5" fill="none" stroke="#1a1a1a" stroke-width="1.2"/>
<path d="M337.4 655.2L337.4 643.2L343.7 645.4L343.7 657.4" fill="none" stroke="#1a1a1a" stroke-width="1.4" stroke-linejoin="round"/>
<path d="M339 644.7L339 654.7" fill="none" stroke="#1a1a1a" stroke-width="1"/>
<path d="M352.2 659.1L352.2 647.1L364.1 648.2L364.1 660.2" fill="none" stroke="#1a1a1a" stroke-width="1.4" stroke-linejoin="round"/>
<path d="M353.8 648.6L353.8 658.6" fill="none" stroke="#1a1a1a" stroke-width="1"/>
<path d="M372.5 660.4L372.5 648.4L385.9 647.5L385.9 659.5" fill="none" stroke="#1a1a1a" stroke-width="1.4" stroke-linejoin="round"/>
<path d="M374.1 649.9L374.1 659.9" fill="none" stroke="#1a1a1a" stroke-width="1"/>
<path d="M394.3 658.2L394.3 646.2L401.3 644.3L401.3 656.3" fill="none" stroke="#1a1a1a" stroke-width="1.4" stroke-linejoin="round"/>
<path d="M395.9 647.7L395.9 657.7" fill="none" stroke="#1a1a1a" stroke-width="1"/>
<path d="M405 654.8L405 642.8L408.4 640.5L408.4 652.5" fill="none" stroke="#1a1a1a" stroke-width="1.4" stroke-linejoin="round"/>
<path d="M406.6 644.3L406.6 654.3" fill="none" stroke="#1a1a1a" stroke-width="1"/>
<path d="M341.5 607.8L342 627.3L342.2 628.2L342.6 629L343.4 629.8L344.5 630.6L345.9 631.4L347.6 632.1L349.5 632.8L351.7 633.4L354.1 633.9L356.7 634.4L359.4 634.8L362.2 635.1L365.2 635.3L368.2 635.5L371.3 635.5L374.4 635.5L377.4 635.3L380.4 635.1L383.2 634.8L385.9 634.4L388.5 633.9L390.9 633.4L393.1 632.8L395 632.1L396.7 631.4L398.1 630.6L399.2 629.8L400 629L400.4 628.2L400.6 627.3L401.1 607.8" fill="#fff" stroke="#1a1a1a" stroke-width="1.8" stroke-linejoin="round"/>
<ellipse cx="371.3" cy="607.8" rx="29.8" ry="8.4" fill="#fff" stroke="#1a1a1a" stroke-width="1.9"/>
<ellipse cx="372" cy="608.6" rx="25.2" ry="6.3" fill="none" stroke="#1a1a1a" stroke-width="1.5"/>
<!-- p_rotor -->
<path d="M523.5 593.1L534.1 592.1L535.6 591.9L537.1 592L538.7 592.5L540.2 593.4L541.6 594.5L543 596L544.3 597.7L545.4 599.8L546.4 602L547.3 604.4L548 607L548.5 609.6L548.8 612.3L548.9 615L548.9 617.7L548.6 620.2L548.1 622.7L547.5 625L546.6 627L545.6 628.8L544.5 630.4L543.3 631.6L541.9 632.5L540.5 633.1L529.9 634.7L529.9 634.7L528.4 634.9L526.9 634.8L525.4 634.3L523.9 633.4L522.4 632.2L521 630.7L519.8 629L518.6 626.9L517.6 624.7L516.7 622.2L516 619.6L515.5 616.9L515.2 614.2L515.1 611.4L515.1 608.7L515.4 606.1L515.9 603.6L516.5 601.3L517.3 599.2L518.3 597.4L519.5 595.8L520.7 594.6L522.1 593.7L523.5 593.1Z" fill="#fff" stroke="#1a1a1a" stroke-width="1.8" stroke-linejoin="round"/>
<ellipse cx="526.7" cy="613.9" rx="11.5" ry="21.1" transform="rotate(-6 526.7 613.9)" fill="#fff" stroke="#1a1a1a" stroke-width="1.8"/>
<ellipse cx="527.5" cy="613.9" rx="9" ry="16.9" transform="rotate(-6 527.5 613.9)" fill="none" stroke="#1a1a1a" stroke-width="1.3"/>
<ellipse cx="527.9" cy="613.9" rx="7.1" ry="13.5" transform="rotate(-6 527.9 613.9)" fill="none" stroke="#1a1a1a" stroke-width="1.3"/>
<ellipse cx="528.3" cy="613.9" rx="4.8" ry="9.5" transform="rotate(-6 528.3 613.9)" fill="none" stroke="#1a1a1a" stroke-width="1.7"/>
<path d="M529.8 622.7L529.5 622.6L529.2 622.4L528.8 622.3L528.5 622L528.2 621.8L527.9 621.5L527.6 621.1L527.3 620.8L527.1 620.4L526.8 619.9L526.5 619.5L526.3 619L526.1 618.5L525.9 617.9L525.7 617.4L525.6 616.8L525.4 616.2L525.3 615.6L525.2 615L525.1 614.4L525.1 613.8L525 613.1L525 612.5L525 611.9L525.1 611.3L525.1 610.8L525.2 610.2L525.3 609.6L525.5 609.1L525.6 608.6L525.8 608.1L526 607.7L526.2 607.3L526.4 606.9L526.6 606.5L526.9 606.2L527.1 605.9L527.4 605.7L527.7 605.5L528 605.3" fill="none" stroke="#1a1a1a" stroke-width="1.2"/>
<path d="M787.2 541.4L797.7 539.9L798.7 539.7L799.7 539.8L800.8 540.1L801.8 540.8L802.8 541.7L803.8 542.8L804.8 544.2L805.6 545.7L806.4 547.5L807.1 549.3L807.6 551.3L808.1 553.4L808.4 555.5L808.6 557.6L808.7 559.7L808.6 561.8L808.3 563.7L808 565.5L807.5 567.1L806.9 568.5L806.2 569.8L805.4 570.7L804.5 571.5L803.5 571.9L793.2 574L793.2 574L792.2 574.2L791.1 574.1L790.1 573.7L789 573.1L788 572.1L787 571L786.1 569.6L785.2 568L784.4 566.3L783.7 564.3L783.2 562.3L782.7 560.2L782.4 558.1L782.2 555.9L782.1 553.8L782.2 551.7L782.4 549.8L782.8 548L783.3 546.3L783.9 544.9L784.6 543.6L785.4 542.6L786.3 541.9L787.2 541.4Z" fill="#fff" stroke="#1a1a1a" stroke-width="1.8" stroke-linejoin="round"/>
<ellipse cx="790.2" cy="557.7" rx="7.8" ry="16.6" transform="rotate(-8 790.2 557.7)" fill="#fff" stroke="#1a1a1a" stroke-width="1.8"/>
<ellipse cx="791" cy="557.7" rx="6.1" ry="13.3" transform="rotate(-8 791 557.7)" fill="none" stroke="#1a1a1a" stroke-width="1.3"/>
<ellipse cx="791.4" cy="557.7" rx="4.8" ry="10.6" transform="rotate(-8 791.4 557.7)" fill="none" stroke="#1a1a1a" stroke-width="1.3"/>
<ellipse cx="791.8" cy="557.7" rx="3.3" ry="7.5" transform="rotate(-8 791.8 557.7)" fill="none" stroke="#1a1a1a" stroke-width="1.7"/>
<path d="M793.6 564.6L793.4 564.5L793.2 564.4L792.9 564.3L792.7 564.1L792.5 563.9L792.3 563.7L792.1 563.4L791.9 563.1L791.7 562.8L791.5 562.5L791.3 562.1L791.1 561.7L790.9 561.3L790.8 560.9L790.6 560.5L790.5 560L790.4 559.6L790.3 559.1L790.2 558.6L790.1 558.1L790.1 557.7L790 557.2L790 556.7L790 556.2L790 555.7L790 555.3L790 554.8L790.1 554.4L790.1 554L790.2 553.6L790.3 553.2L790.4 552.9L790.5 552.5L790.7 552.2L790.8 551.9L791 551.7L791.1 551.5L791.3 551.3L791.5 551.1L791.7 551" fill="none" stroke="#1a1a1a" stroke-width="1.2"/>
<path d="M557.6 604.3L575.9 600.1L576.6 610.6L558.3 613.4Q554.6 608.9 557.6 604.3Z" fill="#fff" stroke="#1a1a1a" stroke-width="1.5"/>
<path d="M558.6 604.9L560.4 613.3" fill="none" stroke="#333" stroke-width="1.3"/>
<path d="M560.8 604.4L562.6 612.8" fill="none" stroke="#333" stroke-width="1.3"/>
<path d="M562.9 603.9L564.7 612.3" fill="none" stroke="#333" stroke-width="1.3"/>
<path d="M565.1 603.4L566.9 611.8" fill="none" stroke="#333" stroke-width="1.3"/>
<path d="M567.2 602.9L569 611.3" fill="none" stroke="#333" stroke-width="1.3"/>
<path d="M569.4 602.4L571.2 610.8" fill="none" stroke="#333" stroke-width="1.3"/>
<path d="M571.5 601.9L573.3 610.3" fill="none" stroke="#333" stroke-width="1.3"/>
<path d="M573.7 601.4L575.5 609.8" fill="none" stroke="#333" stroke-width="1.3"/>
<path d="M575.8 600.9L577.6 609.3" fill="none" stroke="#333" stroke-width="1.3"/>
<path d="M575.9 597L622.2 586L625.8 602.9L580.1 612Z" fill="#fff" stroke="#1a1a1a" stroke-width="1.7" stroke-linejoin="round"/>
<ellipse cx="577.7" cy="604.6" rx="2.6" ry="7.6" transform="rotate(-10 577.7 604.6)" fill="#fff" stroke="#1a1a1a" stroke-width="1.5"/>
<path d="M736.8 562.4L753.9 559.2L755.3 571.4L741 574.2Z" fill="#fff" stroke="#1a1a1a" stroke-width="1.5" stroke-linejoin="round"/>
<path d="M746.7 560.5L746.8 560.5L747 560.5L747.1 560.5L747.3 560.7L747.5 560.8L747.6 561L747.8 561.2L747.9 561.4L748.1 561.7L748.3 562L748.4 562.3L748.6 562.6L748.7 563L748.9 563.4L749 563.8L749.1 564.2L749.2 564.7L749.3 565.1L749.4 565.6L749.5 566.1L749.6 566.5L749.7 567L749.7 567.4L749.8 567.9L749.8 568.3L749.8 568.8L749.8 569.2L749.8 569.6L749.8 570L749.7 570.3L749.7 570.7L749.6 571L749.6 571.2L749.5 571.5L749.4 571.7L749.3 571.9L749.2 572L749.1 572.2L748.9 572.2L748.8 572.3" fill="none" stroke="#1a1a1a" stroke-width="1.2"/>
<path d="M748.7 560L748.8 560L749 560.1L749.1 560.1L749.3 560.2L749.4 560.4L749.6 560.5L749.8 560.7L749.9 561L750.1 561.3L750.2 561.5L750.4 561.9L750.5 562.2L750.7 562.6L750.8 563L751 563.4L751.1 563.8L751.2 564.3L751.3 564.7L751.4 565.2L751.5 565.6L751.6 566.1L751.6 566.6L751.7 567L751.7 567.5L751.7 567.9L751.8 568.4L751.8 568.8L751.8 569.2L751.7 569.5L751.7 569.9L751.7 570.2L751.6 570.5L751.5 570.8L751.4 571.1L751.4 571.3L751.3 571.5L751.1 571.6L751 571.7L750.9 571.8L750.8 571.9" fill="none" stroke="#1a1a1a" stroke-width="1.2"/>
<path d="M753.6 557.9C755.2 555.5 762 556.1 764.2 556.8C766.3 557.5 766.3 560.1 766.6 562.2C766.9 564.2 767.9 567.6 766 569.2C764.1 570.7 757.1 573.3 755.1 571.4C753 569.6 752.1 560.4 753.6 557.9Z" fill="#555" stroke="#1a1a1a" stroke-width="1.5" stroke-linejoin="round" stroke-linecap="round"/>
<path d="M754.4 560L765.6 558.6" fill="none" stroke="#111" stroke-width="1"/>
<path d="M754.4 562.2L765.6 560.7" fill="none" stroke="#111" stroke-width="1"/>
<path d="M754.4 564.3L765.6 562.9" fill="none" stroke="#111" stroke-width="1"/>
<path d="M754.4 566.4L765.6 565" fill="none" stroke="#111" stroke-width="1"/>
<path d="M754.4 568.5L765.6 567.1" fill="none" stroke="#111" stroke-width="1"/>
<path d="M722 548.8L728.4 548.2L728.4 553.4L722 554Z" fill="#fff" stroke="#1a1a1a" stroke-width="1.3" stroke-linejoin="round"/>
<path d="M730.5 557.7L736.4 557.1L736.4 561.9L730.5 562.4Z" fill="#fff" stroke="#1a1a1a" stroke-width="1.3" stroke-linejoin="round"/>
<path d="M733.7 566.4L738.5 565.8L738.5 575.4L733.7 575.9Z" fill="#fff" stroke="#1a1a1a" stroke-width="1.3" stroke-linejoin="round"/>
<path d="M734.3 580.4L739.2 579.9L739.2 585.5L734.3 586Z" fill="#fff" stroke="#1a1a1a" stroke-width="1.3" stroke-linejoin="round"/>
<path d="M733.4 587.7L737.6 587.2L737.6 590L733.4 590.5Z" fill="#fff" stroke="#1a1a1a" stroke-width="1.3" stroke-linejoin="round"/>
<path d="M633.5 571.3L636.3 568.5L640.5 569.2L643.3 566.4L648.3 567.1L646.9 573.4L642.6 575.5L635.6 576.2Z" fill="#fff" stroke="#1a1a1a" stroke-width="1.3" stroke-linejoin="round"/>
<path d="M634.9 576.9L644.1 575.5L646.9 579L638.4 580.1L634.5 579.7Z" fill="#fff" stroke="#1a1a1a" stroke-width="1.3" stroke-linejoin="round"/>
<path d="M651.1 583.9L660.9 582.9L661.2 587.2L651.4 587.7Z" fill="#fff" stroke="#1a1a1a" stroke-width="1.3" stroke-linejoin="round"/>
<path d="M651.1 592.4L660.2 591.4L660.5 595.9L651.4 596.6Z" fill="#fff" stroke="#1a1a1a" stroke-width="1.3" stroke-linejoin="round"/>
<path d="M648.3 599.4L659.5 598L660.1 602.2L649 604.3Z" fill="#fff" stroke="#1a1a1a" stroke-width="1.3" stroke-linejoin="round"/>
<path d="M642.6 605L658.1 602.9L659.5 607.8L646.9 612.7L643.3 609.9Z" fill="#fff" stroke="#1a1a1a" stroke-width="1.3" stroke-linejoin="round"/>
<path d="M649.7 607.1L660.2 605.7L660.2 612L653.2 613.4Z" fill="#fff" stroke="#1a1a1a" stroke-width="1.3" stroke-linejoin="round"/>
<path d="M646.9 561.5L711.5 547.4L719.9 548.1L728.4 556.5L733.3 573.4L731.9 588.8L727 597.3L719.9 600.8L661.6 614.1L659 614.8L657.7 614.4L656.3 613.7L655 612.6L653.6 611.1L652.4 609.2L651.1 607.1L650 604.6L649 601.9L648.1 599L647.3 595.9L646.7 592.7L646.2 589.4L645.9 586.1L645.7 582.9L645.7 579.7L645.9 576.7L646.2 573.8L646.7 571.1L647.4 568.7L648.2 566.6L649.1 564.9L650.2 563.4L651.3 562.4L652.5 561.8Z" fill="#fff" stroke="#1a1a1a" stroke-width="1.8" stroke-linejoin="round"/>
<ellipse cx="656.7" cy="588.1" rx="10.6" ry="26.8" transform="rotate(-7 656.7 588.1)" fill="#fff" stroke="#1a1a1a" stroke-width="1.7"/>
<ellipse cx="657.3" cy="588.1" rx="8.4" ry="23.6" transform="rotate(-7 657.3 588.1)" fill="none" stroke="#1a1a1a" stroke-width="1.3"/>
<path d="M720.8 548.8L721.5 549.2L722.1 549.7L722.8 550.3L723.4 551L724.1 551.8L724.7 552.7L725.3 553.6L725.9 554.7L726.5 555.8L727.1 557L727.6 558.3L728.1 559.6L728.6 561L729.1 562.5L729.5 564L729.9 565.6L730.2 567.1L730.6 568.7L730.9 570.4L731.1 572L731.3 573.7L731.5 575.3L731.6 577L731.7 578.6L731.8 580.3L731.8 581.9L731.7 583.4L731.6 585L731.5 586.5L731.4 587.9L731.2 589.3L730.9 590.6L730.7 591.9L730.3 593.1L730 594.2L729.6 595.3L729.2 596.2L728.7 597.1L728.3 597.9L727.7 598.6" fill="none" stroke="#1a1a1a" stroke-width="1.3"/>
<path d="M621.5 584.4L653.2 579.3L655.3 581.8L656 594.5L652.5 598.1L626.5 603.9Z" fill="#fff" stroke="none" stroke-width="0" stroke-linejoin="round"/>
<path d="M621.5 584.4L653.2 579.3" fill="none" stroke="#1a1a1a" stroke-width="1.7"/>
<path d="M626.5 603.9L652.5 598.1" fill="none" stroke="#1a1a1a" stroke-width="1.7"/>
<path d="M625.9 603.6L625.6 603.7L625.4 603.6L625.1 603.5L624.8 603.4L624.5 603.1L624.3 602.9L624 602.5L623.7 602.2L623.4 601.7L623.2 601.3L622.9 600.8L622.6 600.2L622.4 599.6L622.2 599L621.9 598.3L621.7 597.6L621.5 596.9L621.4 596.2L621.2 595.5L621.1 594.7L620.9 594L620.8 593.3L620.8 592.5L620.7 591.8L620.7 591.1L620.6 590.4L620.7 589.7L620.7 589.1L620.7 588.5L620.8 587.9L620.9 587.4L621 586.9L621.1 586.4L621.3 586L621.5 585.7L621.7 585.4L621.9 585.1L622.1 584.9L622.3 584.8L622.5 584.7" fill="none" stroke="#1a1a1a" stroke-width="1.4"/>
<path d="M627.3 585.7L627.5 586L627.8 586.3L628 586.7L628.2 587.1L628.4 587.5L628.6 588L628.9 588.5L629.1 589L629.2 589.5L629.4 590.1L629.6 590.6L629.8 591.2L629.9 591.8L630.1 592.4L630.2 593L630.3 593.6L630.4 594.3L630.5 594.9L630.6 595.5L630.6 596.1L630.7 596.7L630.7 597.3L630.7 597.9L630.7 598.4L630.7 599L630.7 599.5L630.6 600L630.6 600.5L630.5 600.9L630.4 601.4L630.3 601.7L630.2 602.1L630 602.4L629.9 602.7L629.8 603L629.6 603.2L629.4 603.4L629.2 603.5L629 603.6L628.8 603.6" fill="none" stroke="#1a1a1a" stroke-width="1.2"/>
<path d="M621.5 584.4L622.5 586" fill="none" stroke="#1a1a1a" stroke-width="1.3"/>
<path d="M651.1 583.9L660.9 582.9L661.2 587.2L651.4 587.7Z" fill="#fff" stroke="#1a1a1a" stroke-width="1.3" stroke-linejoin="round"/>
<path d="M651.1 592.4L660.2 591.4L660.5 595.9L651.4 596.6Z" fill="#fff" stroke="#1a1a1a" stroke-width="1.3" stroke-linejoin="round"/>
<path d="M648.3 599.4L659.5 598L660.1 602.2L649 604.3Z" fill="#fff" stroke="#1a1a1a" stroke-width="1.3" stroke-linejoin="round"/>
<path d="M658.1 563.8L678.5 562.2" fill="none" stroke="#333" stroke-width="1.2"/>
<path d="M703.1 561.6L727 560.7" fill="none" stroke="#333" stroke-width="1.2"/>
<path d="M662.6 570.9L700.3 569.9" fill="none" stroke="#333" stroke-width="1.2"/>
<path d="M705.9 570L731.2 569.2" fill="none" stroke="#333" stroke-width="1.2"/>
<path d="M666.8 578.5L729.8 578.2" fill="none" stroke="#333" stroke-width="1.2"/>
<path d="M667.9 587.6L690.4 587.2" fill="none" stroke="#333" stroke-width="1.2"/>
<path d="M711.5 586.9L731.4 586" fill="none" stroke="#333" stroke-width="1.2"/>
<path d="M668.6 596.7L691.8 595.9" fill="none" stroke="#333" stroke-width="1.2"/>
<path d="M710.1 594.6L728.4 593.8" fill="none" stroke="#333" stroke-width="1.2"/>
<path d="M667.9 605.1L689 603.7" fill="none" stroke="#333" stroke-width="1.2"/>
<path d="M677.8 557.7L680.6 557.4" fill="none" stroke="#333" stroke-width="1.2"/>
<!-- p_motor -->
<path d="M871.8 526L877.4 502.2L924.5 488.1L924.3 479.1L929.2 476.9L930.8 480.7L934.7 479.9L936.3 483.7L940.1 483.2L941.8 488.1L945.1 487.2L946.1 494.6L950 494.1L951.1 505.6L954.3 505L956 515.4L961.7 526L963.4 547.1L961.2 566.8L956.1 579.4L943.8 586.2L942.1 589.3L866.2 609.2L856.4 599.1Z" fill="#fff" stroke="#1a1a1a" stroke-width="1.8" stroke-linejoin="round"/>
<path d="M924.3 483.2L930.8 480.9" fill="none" stroke="#1a1a1a" stroke-width="1.3"/>
<path d="M924.8 485.9L936.3 483.7" fill="none" stroke="#1a1a1a" stroke-width="1.3"/>
<path d="M925.4 490.8L941.8 488.1" fill="none" stroke="#1a1a1a" stroke-width="1.3"/>
<path d="M925.9 497.4L946.1 494.6" fill="none" stroke="#1a1a1a" stroke-width="1.3"/>
<path d="M925.9 508.9L951.1 505.6" fill="none" stroke="#1a1a1a" stroke-width="1.3"/>
<path d="M872.5 528.8L958.7 515.1" fill="none" stroke="#1a1a1a" stroke-width="1.3"/>
<path d="M876.5 534.8L959.2 522.1" fill="none" stroke="#1a1a1a" stroke-width="2.2"/>
<path d="M958.7 515.1L960.3 518.1L959.2 522.1" fill="none" stroke="#1a1a1a" stroke-width="1.3" stroke-linejoin="round"/>
<path d="M872.5 528.8L876.5 534.8" fill="none" stroke="#1a1a1a" stroke-width="1.3"/>
<path d="M872.9 536.5L961.7 522.9" fill="none" stroke="#1a1a1a" stroke-width="1.3"/>
<path d="M876.9 542.4L962.3 530" fill="none" stroke="#1a1a1a" stroke-width="2.2"/>
<path d="M961.7 522.9L963.3 525.9L962.3 530" fill="none" stroke="#1a1a1a" stroke-width="1.3" stroke-linejoin="round"/>
<path d="M872.9 536.5L876.9 542.4" fill="none" stroke="#1a1a1a" stroke-width="1.3"/>
<path d="M873.4 544.2L961.7 530.8" fill="none" stroke="#1a1a1a" stroke-width="1.3"/>
<path d="M877.3 550.1L962.3 537.8" fill="none" stroke="#1a1a1a" stroke-width="2.2"/>
<path d="M961.7 530.8L963.3 533.8L962.3 537.8" fill="none" stroke="#1a1a1a" stroke-width="1.3" stroke-linejoin="round"/>
<path d="M873.4 544.2L877.3 550.1" fill="none" stroke="#1a1a1a" stroke-width="1.3"/>
<path d="M873.8 551.8L961.7 538.7" fill="none" stroke="#1a1a1a" stroke-width="1.3"/>
<path d="M877.7 557.7L962.3 545.7" fill="none" stroke="#1a1a1a" stroke-width="2.2"/>
<path d="M961.7 538.7L963.3 541.7L962.3 545.7" fill="none" stroke="#1a1a1a" stroke-width="1.3" stroke-linejoin="round"/>
<path d="M873.8 551.8L877.7 557.7" fill="none" stroke="#1a1a1a" stroke-width="1.3"/>
<path d="M874.2 559.5L961.7 546.6" fill="none" stroke="#1a1a1a" stroke-width="1.3"/>
<path d="M878.1 565.4L962.3 553.6" fill="none" stroke="#1a1a1a" stroke-width="2.2"/>
<path d="M961.7 546.6L963.3 549.6L962.3 553.6" fill="none" stroke="#1a1a1a" stroke-width="1.3" stroke-linejoin="round"/>
<path d="M874.2 559.5L878.1 565.4" fill="none" stroke="#1a1a1a" stroke-width="1.3"/>
<path d="M874.6 567.1L961.7 554.4" fill="none" stroke="#1a1a1a" stroke-width="1.3"/>
<path d="M878.6 573L962.3 561.4" fill="none" stroke="#1a1a1a" stroke-width="2.2"/>
<path d="M961.7 554.4L963.3 557.4L962.3 561.4" fill="none" stroke="#1a1a1a" stroke-width="1.3" stroke-linejoin="round"/>
<path d="M874.6 567.1L878.6 573" fill="none" stroke="#1a1a1a" stroke-width="1.3"/>
<path d="M875.1 574.8L961.7 562.3" fill="none" stroke="#1a1a1a" stroke-width="1.3"/>
<path d="M879 580.7L962.3 569.3" fill="none" stroke="#1a1a1a" stroke-width="2.2"/>
<path d="M961.7 562.3L963.3 565.3L962.3 569.3" fill="none" stroke="#1a1a1a" stroke-width="1.3" stroke-linejoin="round"/>
<path d="M875.1 574.8L879 580.7" fill="none" stroke="#1a1a1a" stroke-width="1.3"/>
<path d="M875.5 582.5L958.7 570.2" fill="none" stroke="#1a1a1a" stroke-width="1.3"/>
<path d="M879.4 588.4L959.2 577.2" fill="none" stroke="#1a1a1a" stroke-width="2.2"/>
<path d="M958.7 570.2L960.3 573.2L959.2 577.2" fill="none" stroke="#1a1a1a" stroke-width="1.3" stroke-linejoin="round"/>
<path d="M875.5 582.5L879.4 588.4" fill="none" stroke="#1a1a1a" stroke-width="1.3"/>
<path d="M875.9 590.1L958.7 578" fill="none" stroke="#1a1a1a" stroke-width="1.3"/>
<path d="M925.2 531L925.5 533.1" fill="none" stroke="#1a1a1a" stroke-width="1.5"/>
<path d="M914 544.9L918.2 544.6" fill="none" stroke="#1a1a1a" stroke-width="1.8"/>
<path d="M834.7 498.5L837.4 477.7L869.6 496L871.8 505.6L877.3 516.5L876.9 523.1L858.7 516.5Z" fill="#fff" stroke="#1a1a1a" stroke-width="1.7" stroke-linejoin="round"/>
<path d="M869.6 496L923.2 485.9L924.5 510.8L877.8 522.2L877.1 516.5L871.8 505.6Z" fill="#fff" stroke="#1a1a1a" stroke-width="1.7" stroke-linejoin="round"/>
<path d="M837.4 477.7L884.9 472.8L923.2 485.9L869.6 496Z" fill="#fff" stroke="#1a1a1a" stroke-width="1.7" stroke-linejoin="round"/>
<path d="M846.1 479L882.8 475.2L916.6 483.4L868.8 492.7Z" fill="none" stroke="#1a1a1a" stroke-width="1.3" stroke-linejoin="round"/>
<path d="M875.1 494.6L875.1 489.7L877.8 488.6L880.6 489.5L880.6 494.1" fill="#fff" stroke="#1a1a1a" stroke-width="1.3" stroke-linejoin="round"/>
<path d="M877.8 488.6L878.4 481" fill="none" stroke="#1a1a1a" stroke-width="1.2"/>
<path d="M885.5 493.2L885.5 488.3L888.2 487.2L891 488.1L891 492.7" fill="#fff" stroke="#1a1a1a" stroke-width="1.3" stroke-linejoin="round"/>
<path d="M888.2 487.2L888.8 479.6" fill="none" stroke="#1a1a1a" stroke-width="1.2"/>
<ellipse cx="886.6" cy="508.3" rx="6.9" ry="7.3" transform="rotate(-20 886.6 508.3)" fill="none" stroke="#1a1a1a" stroke-width="1.3"/>
<ellipse cx="886.9" cy="508.5" rx="5" ry="5.6" transform="rotate(-20 886.9 508.5)" fill="none" stroke="#1a1a1a" stroke-width="1.3"/>
<ellipse cx="907.3" cy="503.9" rx="6.9" ry="7.3" transform="rotate(-20 907.3 503.9)" fill="none" stroke="#1a1a1a" stroke-width="1.3"/>
<ellipse cx="907.6" cy="504.1" rx="5" ry="5.6" transform="rotate(-20 907.6 504.1)" fill="none" stroke="#1a1a1a" stroke-width="1.3"/>
<path d="M897 501.2L895.3 512.1" fill="none" stroke="#1a1a1a" stroke-width="1.2"/>
<path d="M878.4 509.9C878.2 511 877.4 514.5 877.3 516.5C877.2 518.5 877.8 521.1 877.8 522" fill="none" stroke="#1a1a1a" stroke-width="1" stroke-linejoin="round" stroke-linecap="round"/>
<ellipse cx="848.2" cy="549.4" rx="26.9" ry="51.2" transform="rotate(-8 848.2 549.4)" fill="#fff" stroke="#1a1a1a" stroke-width="1.9"/>
<ellipse cx="848" cy="549.4" rx="24.4" ry="47.2" transform="rotate(-8 848 549.4)" fill="none" stroke="#1a1a1a" stroke-width="1.3"/>
<clipPath id="st"><ellipse cx="847.7" cy="549.2" rx="21.6" ry="42.8" transform="rotate(-8 847.7 549.2)"/></clipPath>
<g clip-path="url(#st)">
<rect x="815" y="495" width="70" height="115" fill="#fff"/>
<path d="M845.9 560.2L848.9 563.9" fill="none" stroke="#1a1a1a" stroke-width="1.7"/>
<path d="M865.2 530.6L867.9 534" fill="none" stroke="#1a1a1a" stroke-width="1.9"/>
<path d="M838.8 522.7L843.1 522.9" fill="none" stroke="#1a1a1a" stroke-width="1.8"/>
<path d="M843.2 551.6L847.3 551" fill="none" stroke="#1a1a1a" stroke-width="1.9"/>
<path d="M825.9 585.8L828.1 588.6" fill="none" stroke="#1a1a1a" stroke-width="1.5"/>
<path d="M852.6 531L853.1 533.3" fill="none" stroke="#1a1a1a" stroke-width="1.7"/>
<path d="M856 552L858 550.6" fill="none" stroke="#1a1a1a" stroke-width="2.3"/>
<path d="M864.5 572L867.1 571.6" fill="none" stroke="#1a1a1a" stroke-width="1.7"/>
<path d="M825.6 560.5L827.5 560.5" fill="none" stroke="#1a1a1a" stroke-width="2.1"/>
<path d="M842.8 592L847.2 592.3" fill="none" stroke="#1a1a1a" stroke-width="1.4"/>
<path d="M842.2 572.1L844.7 570.4" fill="none" stroke="#1a1a1a" stroke-width="1.9"/>
<path d="M861.6 537L862 538.7" fill="none" stroke="#1a1a1a" stroke-width="1.2"/>
<path d="M843.9 589.2L845.9 589.3" fill="none" stroke="#1a1a1a" stroke-width="1.2"/>
<path d="M846.5 554.3L850.4 553.8" fill="none" stroke="#1a1a1a" stroke-width="1.7"/>
<path d="M833.4 574L834.6 575.5" fill="none" stroke="#1a1a1a" stroke-width="1.3"/>
<path d="M844.4 532.4L846.4 531" fill="none" stroke="#1a1a1a" stroke-width="1.5"/>
<path d="M866.7 532.3L869.1 530.6" fill="none" stroke="#1a1a1a" stroke-width="1.9"/>
<path d="M829 594.5L829.5 596.7" fill="none" stroke="#1a1a1a" stroke-width="1.2"/>
<path d="M853.5 581.8L856.3 582" fill="none" stroke="#1a1a1a" stroke-width="1.3"/>
<path d="M852.2 534.8L853 538.4" fill="none" stroke="#1a1a1a" stroke-width="1.9"/>
<path d="M830.3 562.4L834.7 561.7" fill="none" stroke="#1a1a1a" stroke-width="2.2"/>
<path d="M833 527.7L836.8 525.1" fill="none" stroke="#1a1a1a" stroke-width="1.4"/>
<path d="M833.3 574.6L838 573.8" fill="none" stroke="#1a1a1a" stroke-width="1.9"/>
<path d="M842.8 554L844.6 554.1" fill="none" stroke="#1a1a1a" stroke-width="1.3"/>
<path d="M826.1 592.4L827.5 594.2" fill="none" stroke="#1a1a1a" stroke-width="1.4"/>
<path d="M863.7 563.1L866.2 562.7" fill="none" stroke="#1a1a1a" stroke-width="2.2"/>
<path d="M847.2 567.7L850.9 567.9" fill="none" stroke="#1a1a1a" stroke-width="1.5"/>
<path d="M868.2 531.7L868.6 533.2" fill="none" stroke="#1a1a1a" stroke-width="1.6"/>
<path d="M837.7 557.9L842.6 558.1" fill="none" stroke="#1a1a1a" stroke-width="1.6"/>
<path d="M867 593.8L870.1 591.7" fill="none" stroke="#1a1a1a" stroke-width="1.8"/>
<path d="M825.1 588.2L829 588.4" fill="none" stroke="#1a1a1a" stroke-width="1.2"/>
<path d="M854.7 554L855.6 557.9" fill="none" stroke="#1a1a1a" stroke-width="1.3"/>
<path d="M827.7 551.6L830.5 551.8" fill="none" stroke="#1a1a1a" stroke-width="2.2"/>
<path d="M859.6 571.7L860.5 575.9" fill="none" stroke="#1a1a1a" stroke-width="1.6"/>
<path d="M857.1 587.5L859.9 591" fill="none" stroke="#1a1a1a" stroke-width="2.2"/>
<path d="M825.7 555.4L826.6 556.6" fill="none" stroke="#1a1a1a" stroke-width="1.6"/>
<path d="M824.8 521.2L826.6 521.3" fill="none" stroke="#1a1a1a" stroke-width="2.3"/>
<path d="M866.4 573.7L868.8 572" fill="none" stroke="#1a1a1a" stroke-width="1.7"/>
<path d="M846.4 558.7L849.1 556.8" fill="none" stroke="#1a1a1a" stroke-width="1.2"/>
<path d="M853.1 553.9L855.4 554" fill="none" stroke="#1a1a1a" stroke-width="1.7"/>
<path d="M853.7 589L856.1 589.2" fill="none" stroke="#1a1a1a" stroke-width="1.6"/>
<path d="M831.1 564.3L831.8 567.6" fill="none" stroke="#1a1a1a" stroke-width="1.9"/>
<path d="M845.4 586.7L846 589.3" fill="none" stroke="#1a1a1a" stroke-width="1.4"/>
<path d="M844.9 579.9L849.5 579.2" fill="none" stroke="#1a1a1a" stroke-width="1.6"/>
<path d="M852.2 540.7L853.4 542.3" fill="none" stroke="#1a1a1a" stroke-width="1.6"/>
<path d="M827.3 593.8L831.6 594" fill="none" stroke="#1a1a1a" stroke-width="1.7"/>
<path d="M837.4 532.5L839.8 530.9" fill="none" stroke="#1a1a1a" stroke-width="1.7"/>
<path d="M839.3 582.5L842.4 586.4" fill="none" stroke="#1a1a1a" stroke-width="1.5"/>
<path d="M864 537.6L864.8 541.2" fill="none" stroke="#1a1a1a" stroke-width="1.8"/>
<path d="M839 578.7L840.6 578.5" fill="none" stroke="#1a1a1a" stroke-width="1.6"/>
<path d="M833.3 576.9L835.7 576.6" fill="none" stroke="#1a1a1a" stroke-width="2.1"/>
<path d="M829.4 558.2L830.3 561.9" fill="none" stroke="#1a1a1a" stroke-width="2.3"/>
<path d="M857.1 531.3L860.2 530.9" fill="none" stroke="#1a1a1a" stroke-width="2"/>
<path d="M860.4 558.2L862.1 557.9" fill="none" stroke="#1a1a1a" stroke-width="1.5"/>
<path d="M840.8 571.2L843.5 569.3" fill="none" stroke="#1a1a1a" stroke-width="2.3"/>
<path d="M831.8 583.3L835.7 582.7" fill="none" stroke="#1a1a1a" stroke-width="1.3"/>
<path d="M869 573.2L870.2 574.7" fill="none" stroke="#1a1a1a" stroke-width="1.4"/>
<path d="M850.6 567.6L851.3 570.8" fill="none" stroke="#1a1a1a" stroke-width="1.7"/>
<path d="M855.5 531.8L859.5 532" fill="none" stroke="#1a1a1a" stroke-width="1.4"/>
<path d="M867.4 593.8L871.5 591.1" fill="none" stroke="#1a1a1a" stroke-width="2.3"/>
<path d="M868.9 536.4L873 536.6" fill="none" stroke="#1a1a1a" stroke-width="1.6"/>
<path d="M828.2 550.7L828.9 554" fill="none" stroke="#1a1a1a" stroke-width="1.7"/>
<path d="M825.6 580.1L827.3 580.2" fill="none" stroke="#1a1a1a" stroke-width="1.4"/>
<path d="M840.3 578.4L842.2 578.1" fill="none" stroke="#1a1a1a" stroke-width="2.3"/>
<path d="M867.4 556.9L869.8 559.9" fill="none" stroke="#1a1a1a" stroke-width="2.2"/>
<path d="M847.8 591.3L849.6 591.1" fill="none" stroke="#1a1a1a" stroke-width="1.7"/>
<path d="M851 581.9L854.4 581.4" fill="none" stroke="#1a1a1a" stroke-width="1.8"/>
<path d="M864.7 560.2L866.3 562.2" fill="none" stroke="#1a1a1a" stroke-width="2.3"/>
<path d="M866 564.2L868.5 563.8" fill="none" stroke="#1a1a1a" stroke-width="2.3"/>
<path d="M849.4 561.2L851.2 560" fill="none" stroke="#1a1a1a" stroke-width="1.3"/>
<path d="M824.4 545.6L827.8 545.7" fill="none" stroke="#1a1a1a" stroke-width="1.7"/>
<path d="M843.4 579.5L845.6 582.2" fill="none" stroke="#1a1a1a" stroke-width="1.3"/>
<path d="M832.2 589.9L834.1 592.3" fill="none" stroke="#1a1a1a" stroke-width="1.5"/>
<path d="M846.9 525.6L848.8 527.9" fill="none" stroke="#1a1a1a" stroke-width="1.8"/>
<path d="M829.4 549L829.8 550.5" fill="none" stroke="#1a1a1a" stroke-width="1.3"/>
<path d="M833.5 533.6L834.4 537.4" fill="none" stroke="#1a1a1a" stroke-width="2"/>
<path d="M835.9 555.3L838.6 553.5" fill="none" stroke="#1a1a1a" stroke-width="1.3"/>
<path d="M848.7 535.4L850.5 534.2" fill="none" stroke="#1a1a1a" stroke-width="2.2"/>
<path d="M825.3 566L828.9 563.6" fill="none" stroke="#1a1a1a" stroke-width="1.3"/>
<path d="M834 565.9L837.1 563.8" fill="none" stroke="#1a1a1a" stroke-width="1.4"/>
<path d="M850.3 562.3L850.7 564.3" fill="none" stroke="#1a1a1a" stroke-width="2.2"/>
<path d="M839.4 540.6L844 539.9" fill="none" stroke="#1a1a1a" stroke-width="2"/>
<path d="M833.5 523.1L838.1 522.5" fill="none" stroke="#1a1a1a" stroke-width="2"/>
<path d="M836.7 523.2L839.4 526.6" fill="none" stroke="#1a1a1a" stroke-width="1.8"/>
<path d="M858 531.5L861.7 531.6" fill="none" stroke="#1a1a1a" stroke-width="1.3"/>
<path d="M851.6 544L852.5 548.3" fill="none" stroke="#1a1a1a" stroke-width="1.3"/>
<path d="M848.5 576.1L851.7 575.6" fill="none" stroke="#1a1a1a" stroke-width="2.1"/>
<path d="M860.8 564.5L863.7 568.1" fill="none" stroke="#1a1a1a" stroke-width="1.3"/>
<path d="M833.1 531.7L834 536" fill="none" stroke="#1a1a1a" stroke-width="2.2"/>
<path d="M828.8 520.4L831.8 524.1" fill="none" stroke="#1a1a1a" stroke-width="1.2"/>
<path d="M828.8 546.7L829.5 549.6" fill="none" stroke="#1a1a1a" stroke-width="1.6"/>
<path d="M857.8 582.9L859.2 584.6" fill="none" stroke="#1a1a1a" stroke-width="1.6"/>
<path d="M842 589.1L845.6 589.3" fill="none" stroke="#1a1a1a" stroke-width="1.7"/>
<path d="M824.9 586.9L827.6 590.2" fill="none" stroke="#1a1a1a" stroke-width="1.8"/>
<path d="M833.4 562.2L834 564.8" fill="none" stroke="#1a1a1a" stroke-width="1.5"/>
<path d="M829.8 574.8L831.1 576.5" fill="none" stroke="#1a1a1a" stroke-width="1.3"/>
<path d="M840 558.5L841.8 560.7" fill="none" stroke="#1a1a1a" stroke-width="2"/>
<path d="M843.7 573.2L844.1 574.9" fill="none" stroke="#1a1a1a" stroke-width="1.5"/>
<path d="M829 586.4L833.1 583.6" fill="none" stroke="#1a1a1a" stroke-width="1.2"/>
<path d="M837.3 592.3L839.8 591.9" fill="none" stroke="#1a1a1a" stroke-width="1.9"/>
<path d="M851.5 558L853.3 560.3" fill="none" stroke="#1a1a1a" stroke-width="1.9"/>
<path d="M857.9 576.3L862.8 576.6" fill="none" stroke="#1a1a1a" stroke-width="1.3"/>
<path d="M829.4 534.4L831.9 532.6" fill="none" stroke="#1a1a1a" stroke-width="1.2"/>
<path d="M833.6 545.5L834 547.3" fill="none" stroke="#1a1a1a" stroke-width="1.5"/>
<path d="M840.6 558.6L843 557" fill="none" stroke="#1a1a1a" stroke-width="1.8"/>
<path d="M872 566.4L876.3 566.7" fill="none" stroke="#1a1a1a" stroke-width="1.8"/>
<path d="M856.3 591.8L859.1 591.4" fill="none" stroke="#1a1a1a" stroke-width="1.6"/>
<path d="M870.8 583.9L873.6 581.9" fill="none" stroke="#1a1a1a" stroke-width="1.2"/>
<path d="M869.6 549.1L872.3 547.2" fill="none" stroke="#1a1a1a" stroke-width="1.5"/>
<path d="M849.7 554.1L850.2 556.4" fill="none" stroke="#1a1a1a" stroke-width="1.9"/>
<path d="M861.3 562.3L863.6 565.2" fill="none" stroke="#1a1a1a" stroke-width="2"/>
<path d="M842.9 587.2L847 587.4" fill="none" stroke="#1a1a1a" stroke-width="1.8"/>
<path d="M858.9 540.9L863.2 540.3" fill="none" stroke="#1a1a1a" stroke-width="1.6"/>
<path d="M847.1 593.3L849.1 591.9" fill="none" stroke="#1a1a1a" stroke-width="1.3"/>
<path d="M863.1 588.2L865.1 587.9" fill="none" stroke="#1a1a1a" stroke-width="1.8"/>
<path d="M829.7 565.3L832.8 564.9" fill="none" stroke="#1a1a1a" stroke-width="2.1"/>
<path d="M841.3 527.8L844.1 527.4" fill="none" stroke="#1a1a1a" stroke-width="1.9"/>
<path d="M846.1 536.4L848.3 539.1" fill="none" stroke="#1a1a1a" stroke-width="1.6"/>
<path d="M859.9 580.6L860.3 582.5" fill="none" stroke="#1a1a1a" stroke-width="2"/>
<path d="M835.6 524.5L839.5 521.9" fill="none" stroke="#1a1a1a" stroke-width="1.9"/>
<path d="M841.4 537.1L844.7 534.9" fill="none" stroke="#1a1a1a" stroke-width="2"/>
<path d="M833.3 537.7L835.6 537.3" fill="none" stroke="#1a1a1a" stroke-width="1.7"/>
<path d="M855.5 531.1L859.4 531.3" fill="none" stroke="#1a1a1a" stroke-width="1.2"/>
<path d="M826 533.2L828.5 533.3" fill="none" stroke="#1a1a1a" stroke-width="2.2"/>
<path d="M831.9 534.2L835 538" fill="none" stroke="#1a1a1a" stroke-width="1.7"/>
<path d="M834.3 542.9L838.4 543.1" fill="none" stroke="#1a1a1a" stroke-width="2.1"/>
<path d="M845.7 581.2L850.1 580.5" fill="none" stroke="#1a1a1a" stroke-width="1.7"/>
<path d="M860.1 546.6L862.1 546.3" fill="none" stroke="#1a1a1a" stroke-width="1.9"/>
<path d="M871.7 541.4L875.1 540.9" fill="none" stroke="#1a1a1a" stroke-width="1.6"/>
<path d="M841.9 523.2L846.5 523.4" fill="none" stroke="#1a1a1a" stroke-width="1.8"/>
<path d="M844.9 560.8L847.6 564.2" fill="none" stroke="#1a1a1a" stroke-width="1.5"/>
<path d="M834.4 568.4L834.8 570.1" fill="none" stroke="#1a1a1a" stroke-width="1.7"/>
<path d="M860.9 541.6L865.4 541" fill="none" stroke="#1a1a1a" stroke-width="1.6"/>
<path d="M859 544.7L860.2 546.2" fill="none" stroke="#1a1a1a" stroke-width="1.8"/>
<path d="M868.3 590.6L871.2 594.3" fill="none" stroke="#1a1a1a" stroke-width="1.8"/>
<path d="M871.8 552.1L873.7 550.8" fill="none" stroke="#1a1a1a" stroke-width="1.4"/>
<path d="M841.6 544.6L843.3 546.8" fill="none" stroke="#1a1a1a" stroke-width="1.8"/>
<path d="M862.4 574.5L864.1 576.7" fill="none" stroke="#1a1a1a" stroke-width="1.8"/>
<path d="M864.3 560.4L865.7 562.1" fill="none" stroke="#1a1a1a" stroke-width="2.2"/>
<path d="M849 558.9L852.4 559.1" fill="none" stroke="#1a1a1a" stroke-width="1.9"/>
<path d="M850.4 578.4L852.2 578.5" fill="none" stroke="#1a1a1a" stroke-width="1.5"/>
<path d="M829.3 540.5L830.8 540.3" fill="none" stroke="#1a1a1a" stroke-width="1.3"/>
<path d="M863.4 549.2L865.9 552.3" fill="none" stroke="#1a1a1a" stroke-width="2"/>
<path d="M849.2 576.6L849.9 579.4" fill="none" stroke="#1a1a1a" stroke-width="2.1"/>
<path d="M840.2 526.3L843.4 526.5" fill="none" stroke="#1a1a1a" stroke-width="2"/>
<path d="M868.1 548.2L869.1 552.5" fill="none" stroke="#1a1a1a" stroke-width="2.1"/>
<path d="M862.9 582.1L866.7 579.5" fill="none" stroke="#1a1a1a" stroke-width="1.9"/>
<path d="M849.3 572.2L852 575.6" fill="none" stroke="#1a1a1a" stroke-width="2.2"/>
<path d="M868.1 535.1L869.4 536.7" fill="none" stroke="#1a1a1a" stroke-width="1.9"/>
<path d="M839.6 546.5L840.3 549.8" fill="none" stroke="#1a1a1a" stroke-width="2.3"/>
<path d="M827 540.1L828.9 539.8" fill="none" stroke="#1a1a1a" stroke-width="2"/>
<path d="M832.8 520.4L835.4 518.6" fill="none" stroke="#1a1a1a" stroke-width="1.7"/>
<path d="M862.6 540.4L863.1 542.5" fill="none" stroke="#1a1a1a" stroke-width="1.4"/>
<path d="M835.5 572.8L839 572.2" fill="none" stroke="#1a1a1a" stroke-width="1.7"/>
<path d="M867.1 547.6L868.2 552.2" fill="none" stroke="#1a1a1a" stroke-width="1.9"/>
<path d="M869.4 559.4L872.2 562.9" fill="none" stroke="#1a1a1a" stroke-width="2.2"/>
<path d="M868.1 542.8L871.5 542.9" fill="none" stroke="#1a1a1a" stroke-width="1.7"/>
<path d="M869.7 579.5L872 577.9" fill="none" stroke="#1a1a1a" stroke-width="2.1"/>
<path d="M861.4 578.4L863 578.2" fill="none" stroke="#1a1a1a" stroke-width="2.2"/>
<path d="M866.2 587.8L869.2 587.4" fill="none" stroke="#1a1a1a" stroke-width="2"/>
<path d="M853.3 528L853.7 530" fill="none" stroke="#1a1a1a" stroke-width="1.3"/>
<path d="M867.8 580.2L869.4 579.1" fill="none" stroke="#1a1a1a" stroke-width="1.5"/>
<path d="M849.9 527.5L854.1 527.7" fill="none" stroke="#1a1a1a" stroke-width="1.4"/>
<path d="M868.2 527.3L868.6 529.2" fill="none" stroke="#1a1a1a" stroke-width="1.5"/>
<path d="M847.2 552.9L851.2 550.2" fill="none" stroke="#1a1a1a" stroke-width="1.8"/>
<path d="M833.2 530.8L835.6 533.9" fill="none" stroke="#1a1a1a" stroke-width="1.4"/>
<path d="M850.3 557.5L850.7 559.5" fill="none" stroke="#1a1a1a" stroke-width="1.5"/>
<path d="M843.7 559.9L848.6 560.2" fill="none" stroke="#1a1a1a" stroke-width="1.6"/>
<path d="M857.2 523.9L859 526.1" fill="none" stroke="#1a1a1a" stroke-width="2"/>
<path d="M861.9 525.2L863.8 527.5" fill="none" stroke="#1a1a1a" stroke-width="2"/>
<path d="M847 538.9L848.9 539" fill="none" stroke="#1a1a1a" stroke-width="2.1"/>
<path d="M864.7 572.9L869.3 572.2" fill="none" stroke="#1a1a1a" stroke-width="1.5"/>
<path d="M842.2 558.6L842.8 561.1" fill="none" stroke="#1a1a1a" stroke-width="2"/>
<path d="M833.3 545.5L833.7 547.4" fill="none" stroke="#1a1a1a" stroke-width="2.2"/>
<path d="M851.2 573.3L852.9 575.4" fill="none" stroke="#1a1a1a" stroke-width="1.3"/>
<path d="M831 523L834.8 522.4" fill="none" stroke="#1a1a1a" stroke-width="1.4"/>
<path d="M843.5 582.4L847.1 582.5" fill="none" stroke="#1a1a1a" stroke-width="1.3"/>
<path d="M825.8 594.4L828.8 594.5" fill="none" stroke="#1a1a1a" stroke-width="1.5"/>
<path d="M863.7 589.6L865.7 589.3" fill="none" stroke="#1a1a1a" stroke-width="2"/>
<path d="M863.6 546.3L865.3 548.4" fill="none" stroke="#1a1a1a" stroke-width="1.9"/>
<path d="M859.1 564.4L861.7 564.1" fill="none" stroke="#1a1a1a" stroke-width="1.9"/>
<path d="M840.1 542.8L843.9 543" fill="none" stroke="#1a1a1a" stroke-width="1.8"/>
<path d="M834 542L836.6 542.1" fill="none" stroke="#1a1a1a" stroke-width="1.9"/>
<path d="M831.8 576.7L835.6 574.1" fill="none" stroke="#1a1a1a" stroke-width="1.4"/>
<path d="M853.6 556.5L857 556" fill="none" stroke="#1a1a1a" stroke-width="2.3"/>
<path d="M849 572.6L853.3 572" fill="none" stroke="#1a1a1a" stroke-width="1.8"/>
<path d="M825.5 568.2L829.7 567.5" fill="none" stroke="#1a1a1a" stroke-width="1.4"/>
<path d="M851.9 571.2L852.5 573.8" fill="none" stroke="#1a1a1a" stroke-width="1.5"/>
<path d="M866.6 551.6L870.6 551" fill="none" stroke="#1a1a1a" stroke-width="2.2"/>
<path d="M850.3 560.3L851 563.6" fill="none" stroke="#1a1a1a" stroke-width="1.3"/>
<path d="M860 587.2L862.6 586.8" fill="none" stroke="#1a1a1a" stroke-width="1.3"/>
<path d="M863.8 538.5L868.4 537.8" fill="none" stroke="#1a1a1a" stroke-width="2"/>
<path d="M841.6 528.7L845.2 528.8" fill="none" stroke="#1a1a1a" stroke-width="1.7"/>
<path d="M843.6 578L848.3 577.3" fill="none" stroke="#1a1a1a" stroke-width="1.5"/>
<path d="M856.4 574.4L858.8 572.8" fill="none" stroke="#1a1a1a" stroke-width="1.9"/>
<path d="M860.8 528.1L863.8 528.2" fill="none" stroke="#1a1a1a" stroke-width="1.3"/>
<path d="M842.7 561L844.5 559.8" fill="none" stroke="#1a1a1a" stroke-width="1.3"/>
<path d="M835.9 589.9L837.6 590" fill="none" stroke="#1a1a1a" stroke-width="2"/>
<path d="M862 547.7L865.2 547.8" fill="none" stroke="#1a1a1a" stroke-width="1.7"/>
<path d="M843.9 565.3L846.4 568.4" fill="none" stroke="#1a1a1a" stroke-width="2"/>
<path d="M847.5 595L850.3 598.4" fill="none" stroke="#1a1a1a" stroke-width="2.1"/>
<path d="M829.8 524.6L830.9 529.2" fill="none" stroke="#1a1a1a" stroke-width="1.8"/>
<path d="M844.9 587.7L847.6 587.9" fill="none" stroke="#1a1a1a" stroke-width="1.5"/>
<path d="M853.8 550.1L854.4 552.8" fill="none" stroke="#1a1a1a" stroke-width="2"/>
<path d="M838.8 562.9L840.6 563" fill="none" stroke="#1a1a1a" stroke-width="2.1"/>
<path d="M835.8 585.2L838.9 589.1" fill="none" stroke="#1a1a1a" stroke-width="2"/>
<path d="M849.5 534.5L851.1 536.5" fill="none" stroke="#1a1a1a" stroke-width="2.2"/>
<path d="M866.4 595.3L867.3 599.3" fill="none" stroke="#1a1a1a" stroke-width="2.2"/>
<path d="M844.4 579.8L845.8 581.6" fill="none" stroke="#1a1a1a" stroke-width="1.8"/>
<path d="M862.2 525.3L864.3 528" fill="none" stroke="#1a1a1a" stroke-width="1.2"/>
<path d="M835.9 539.3L838.5 539.5" fill="none" stroke="#1a1a1a" stroke-width="1.7"/>
<path d="M845.8 557.8L847.4 556.7" fill="none" stroke="#1a1a1a" stroke-width="1.4"/>
<path d="M838.9 551.8L839.5 554.3" fill="none" stroke="#1a1a1a" stroke-width="1.7"/>
<path d="M869 593.6L872.1 593.1" fill="none" stroke="#1a1a1a" stroke-width="1.4"/>
<path d="M865.4 570.8L865.8 572.5" fill="none" stroke="#1a1a1a" stroke-width="2.1"/>
<path d="M841.2 553.2L842.9 552" fill="none" stroke="#1a1a1a" stroke-width="1.4"/>
<path d="M854.6 530.7L859.1 530.9" fill="none" stroke="#1a1a1a" stroke-width="1.9"/>
<path d="M838.9 580.8L840 585.6" fill="none" stroke="#1a1a1a" stroke-width="2.2"/>
<path d="M858.4 526.2L860.9 529.3" fill="none" stroke="#1a1a1a" stroke-width="1.6"/>
<path d="M832.3 584.3L834.2 584" fill="none" stroke="#1a1a1a" stroke-width="1.5"/>
<path d="M858.8 555.5L859.3 558" fill="none" stroke="#1a1a1a" stroke-width="1.6"/>
<path d="M856 586.2L859.5 585.6" fill="none" stroke="#1a1a1a" stroke-width="2.3"/>
<path d="M867.2 529.8L869.4 529.5" fill="none" stroke="#1a1a1a" stroke-width="1.9"/>
<path d="M828.5 594L831 592.3" fill="none" stroke="#1a1a1a" stroke-width="1.2"/>
<path d="M852.4 558.4L854.8 556.7" fill="none" stroke="#1a1a1a" stroke-width="1.3"/>
<path d="M837.9 575.9L838.4 578.2" fill="none" stroke="#1a1a1a" stroke-width="2"/>
<path d="M825.6 578.6L827.6 578.7" fill="none" stroke="#1a1a1a" stroke-width="1.9"/>
<path d="M868.2 562.2L869.1 563.4" fill="none" stroke="#1a1a1a" stroke-width="1.2"/>
<path d="M827.3 577.5L828.3 582.1" fill="none" stroke="#1a1a1a" stroke-width="1.9"/>
<path d="M861.8 556.7L864.5 554.9" fill="none" stroke="#1a1a1a" stroke-width="2"/>
<path d="M849.7 562.9L853.9 563.1" fill="none" stroke="#1a1a1a" stroke-width="1.9"/>
<path d="M835.5 550.6L839.7 550" fill="none" stroke="#1a1a1a" stroke-width="1.5"/>
<path d="M850.3 583.6L851.1 587.1" fill="none" stroke="#1a1a1a" stroke-width="1.2"/>
<path d="M852.8 572.6L856.3 572.1" fill="none" stroke="#1a1a1a" stroke-width="1.5"/>
<path d="M853.4 564.1L857 561.6" fill="none" stroke="#1a1a1a" stroke-width="1.7"/>
<path d="M836.8 579.3L838.6 579" fill="none" stroke="#1a1a1a" stroke-width="1.8"/>
<path d="M850.3 578.7L852.6 578.4" fill="none" stroke="#1a1a1a" stroke-width="1.2"/>
<path d="M844.6 571.1L848.2 568.6" fill="none" stroke="#1a1a1a" stroke-width="2.1"/>
<path d="M860.9 555.3L864.1 553.1" fill="none" stroke="#1a1a1a" stroke-width="1.3"/>
<path d="M836.4 528.2L839.7 526" fill="none" stroke="#1a1a1a" stroke-width="2.1"/>
<path d="M827.1 548.3L829.9 547.8" fill="none" stroke="#1a1a1a" stroke-width="2"/>
<path d="M860.5 563.5L861.7 565" fill="none" stroke="#1a1a1a" stroke-width="1.8"/>
<path d="M843.9 557.4L845.4 556.4" fill="none" stroke="#1a1a1a" stroke-width="1.5"/>
<path d="M825.8 595.1L829.3 592.7" fill="none" stroke="#1a1a1a" stroke-width="1.4"/>
<path d="M836.4 559.6L837.8 561.4" fill="none" stroke="#1a1a1a" stroke-width="1.3"/>
<path d="M835.1 540.1L839.1 537.4" fill="none" stroke="#1a1a1a" stroke-width="1.4"/>
<path d="M831.9 562.2L833 567.1" fill="none" stroke="#1a1a1a" stroke-width="1.8"/>
<path d="M868 586.2L872.7 585.4" fill="none" stroke="#1a1a1a" stroke-width="1.7"/>
<path d="M843.1 582.8L845.9 583" fill="none" stroke="#1a1a1a" stroke-width="1.4"/>
<path d="M840.9 530.1L844.3 529.6" fill="none" stroke="#1a1a1a" stroke-width="1.7"/>
<path d="M843.4 562.9L846 566.2" fill="none" stroke="#1a1a1a" stroke-width="1.7"/>
<path d="M871.9 569.7L876.3 569.1" fill="none" stroke="#1a1a1a" stroke-width="1.8"/>
<path d="M837.5 591.3L840.5 589.2" fill="none" stroke="#1a1a1a" stroke-width="1.4"/>
<path d="M836.8 546.8L841.5 546.1" fill="none" stroke="#1a1a1a" stroke-width="1.5"/>
<path d="M841.5 527.7L842.6 532.3" fill="none" stroke="#1a1a1a" stroke-width="1.3"/>
<path d="M835.8 582.5L836.2 584.4" fill="none" stroke="#1a1a1a" stroke-width="2.1"/>
<path d="M845.8 583.8L846.4 586.5" fill="none" stroke="#1a1a1a" stroke-width="2"/>
<path d="M843.1 534.5L844.7 534.2" fill="none" stroke="#1a1a1a" stroke-width="1.7"/>
<path d="M830.3 532.1L832.2 534.4" fill="none" stroke="#1a1a1a" stroke-width="1.8"/>
<path d="M830.7 571.9L832.2 573.8" fill="none" stroke="#1a1a1a" stroke-width="1.9"/>
<path d="M831.3 531.8L832.8 533.7" fill="none" stroke="#1a1a1a" stroke-width="1.6"/>
<path d="M842.8 584.7L843.3 586.9" fill="none" stroke="#1a1a1a" stroke-width="1.6"/>
<path d="M853.5 526.6L856.3 530.1" fill="none" stroke="#1a1a1a" stroke-width="1.8"/>
<path d="M863 593.4L865.6 593.6" fill="none" stroke="#1a1a1a" stroke-width="2.2"/>
<path d="M834.6 570.5L835.4 574.3" fill="none" stroke="#1a1a1a" stroke-width="1.4"/>
<path d="M844.7 546.8L845.8 548.1" fill="none" stroke="#1a1a1a" stroke-width="2.2"/>
<path d="M837.9 571.7L839.3 573.4" fill="none" stroke="#1a1a1a" stroke-width="1.4"/>
<path d="M861.1 543.5L864.4 541.2" fill="none" stroke="#1a1a1a" stroke-width="1.3"/>
<path d="M840.6 549.2L842.3 548" fill="none" stroke="#1a1a1a" stroke-width="1.4"/>
<path d="M865.1 540.1L868.1 543.8" fill="none" stroke="#1a1a1a" stroke-width="1.3"/>
<path d="M867.9 588.4L869.4 590.3" fill="none" stroke="#1a1a1a" stroke-width="1.7"/>
<path d="M852.3 552.9L852.9 555.5" fill="none" stroke="#1a1a1a" stroke-width="1.2"/>
<path d="M825.9 541.3L826.5 544" fill="none" stroke="#1a1a1a" stroke-width="1.5"/>
<path d="M856.3 530.3L858.9 528.5" fill="none" stroke="#1a1a1a" stroke-width="1.5"/>
<path d="M858.1 532.7L859.9 532.8" fill="none" stroke="#1a1a1a" stroke-width="1.9"/>
<path d="M843.9 548.6L845.5 550.6" fill="none" stroke="#1a1a1a" stroke-width="2.2"/>
<path d="M842.5 588.2L844.1 587.9" fill="none" stroke="#1a1a1a" stroke-width="1.9"/>
<path d="M837.3 555L840.4 555.2" fill="none" stroke="#1a1a1a" stroke-width="1.3"/>
<path d="M833.4 533.7L837.3 533.1" fill="none" stroke="#1a1a1a" stroke-width="1.8"/>
<path d="M868.7 593.8L869.9 592.9" fill="none" stroke="#1a1a1a" stroke-width="1.7"/>
<path d="M855.4 559.3L858.4 557.2" fill="none" stroke="#1a1a1a" stroke-width="2.2"/>
<path d="M857.4 579.1L859.8 579.2" fill="none" stroke="#1a1a1a" stroke-width="2.2"/>
<path d="M839.2 572.7L843.1 572.1" fill="none" stroke="#1a1a1a" stroke-width="2.3"/>
<path d="M863.8 528.2L866.1 531" fill="none" stroke="#1a1a1a" stroke-width="2.1"/>
<path d="M838.3 548.6L840.6 547" fill="none" stroke="#1a1a1a" stroke-width="1.7"/>
<path d="M855.2 544.4L858.5 542.1" fill="none" stroke="#1a1a1a" stroke-width="2"/>
<path d="M866.3 594.5L867.3 598.8" fill="none" stroke="#1a1a1a" stroke-width="1.3"/>
<path d="M845.9 577.2L849 576.7" fill="none" stroke="#1a1a1a" stroke-width="1.9"/>
<path d="M844 554L845.7 556.1" fill="none" stroke="#1a1a1a" stroke-width="1.7"/>
<path d="M862.4 546.8L863.3 550.7" fill="none" stroke="#1a1a1a" stroke-width="1.6"/>
<path d="M857 530.1L861.4 529.4" fill="none" stroke="#1a1a1a" stroke-width="2.1"/>
<path d="M864 560.8L866.9 560.4" fill="none" stroke="#1a1a1a" stroke-width="1.9"/>
<path d="M864.1 579.5L865.3 581" fill="none" stroke="#1a1a1a" stroke-width="1.9"/>
<path d="M838.2 567.6L841.3 571.4" fill="none" stroke="#1a1a1a" stroke-width="1.8"/>
<path d="M869.4 593L869.8 595" fill="none" stroke="#1a1a1a" stroke-width="1.6"/>
<path d="M854.5 547.1L859.2 546.4" fill="none" stroke="#1a1a1a" stroke-width="1.2"/>
<path d="M858.4 524.9L858.8 526.5" fill="none" stroke="#1a1a1a" stroke-width="1.6"/>
<path d="M850 579.5L853 579.7" fill="none" stroke="#1a1a1a" stroke-width="2.1"/>
<path d="M865.3 529.1L866.3 530.5" fill="none" stroke="#1a1a1a" stroke-width="2.1"/>
<path d="M864.5 538.1L866.8 536.5" fill="none" stroke="#1a1a1a" stroke-width="1.6"/>
<path d="M831 561.5L834.8 560.9" fill="none" stroke="#1a1a1a" stroke-width="1.8"/>
<path d="M862.6 527.2L864.7 527.3" fill="none" stroke="#1a1a1a" stroke-width="1.8"/>
<path d="M867.2 585.8L870.2 585.4" fill="none" stroke="#1a1a1a" stroke-width="1.5"/>
<path d="M825.1 560.7L826.4 562.2" fill="none" stroke="#1a1a1a" stroke-width="1.5"/>
<path d="M835.1 554L835.7 556.7" fill="none" stroke="#1a1a1a" stroke-width="1.8"/>
<path d="M860.7 569L861 570.5" fill="none" stroke="#1a1a1a" stroke-width="1.7"/>
<path d="M872.1 531.6L874.9 535.1" fill="none" stroke="#1a1a1a" stroke-width="1.2"/>
<path d="M841.1 560.2L844.5 559.7" fill="none" stroke="#1a1a1a" stroke-width="1.8"/>
<path d="M855.7 565.2L856.3 567.7" fill="none" stroke="#1a1a1a" stroke-width="2.1"/>
<path d="M871.9 550.9L876.3 551.1" fill="none" stroke="#1a1a1a" stroke-width="1.4"/>
<path d="M825.5 528.9L827.4 529" fill="none" stroke="#1a1a1a" stroke-width="1.5"/>
<path d="M825.4 559.9L826.4 561.2" fill="none" stroke="#1a1a1a" stroke-width="1.2"/>
<path d="M834.3 592.1L835.6 591.3" fill="none" stroke="#1a1a1a" stroke-width="1.5"/>
<path d="M836 589.4L836.7 592.5" fill="none" stroke="#1a1a1a" stroke-width="2.1"/>
<path d="M863.9 576.8L868.9 577.1" fill="none" stroke="#1a1a1a" stroke-width="2.2"/>
<path d="M847.3 582.6L849.8 580.9" fill="none" stroke="#1a1a1a" stroke-width="1.2"/>
<path d="M851.9 533.6L852.5 536.4" fill="none" stroke="#1a1a1a" stroke-width="1.7"/>
<path d="M837.5 594.8L839.8 597.7" fill="none" stroke="#1a1a1a" stroke-width="1.6"/>
<path d="M837.6 587.8L840.2 587.9" fill="none" stroke="#1a1a1a" stroke-width="1.5"/>
<path d="M834.5 529.8L836.1 529.6" fill="none" stroke="#1a1a1a" stroke-width="1.8"/>
<path d="M856.9 529.6L858.7 529.3" fill="none" stroke="#1a1a1a" stroke-width="1.6"/>
<path d="M828.7 591.4L833.1 590.8" fill="none" stroke="#1a1a1a" stroke-width="1.2"/>
<path d="M832.6 520.7L835.5 518.7" fill="none" stroke="#1a1a1a" stroke-width="2.3"/>
<path d="M844.8 592.4L846.3 594.2" fill="none" stroke="#1a1a1a" stroke-width="2.1"/>
<path d="M866.8 580.4L867.9 581.8" fill="none" stroke="#1a1a1a" stroke-width="2.2"/>
<path d="M839.7 530.1L842.4 530.2" fill="none" stroke="#1a1a1a" stroke-width="1.3"/>
<path d="M854.7 545.6L858.4 545.1" fill="none" stroke="#1a1a1a" stroke-width="1.9"/>
<path d="M840.7 550.6L843.2 553.7" fill="none" stroke="#1a1a1a" stroke-width="1.7"/>
<path d="M851.5 524.5L854.2 528" fill="none" stroke="#1a1a1a" stroke-width="1.7"/>
<path d="M846.6 582.3L848.7 584.9" fill="none" stroke="#1a1a1a" stroke-width="1.8"/>
<path d="M851.7 556.6L852.7 557.9" fill="none" stroke="#1a1a1a" stroke-width="1.7"/>
<path d="M852.7 563L857.4 562.3" fill="none" stroke="#1a1a1a" stroke-width="1.8"/>
<path d="M840 535.9L843.6 535.3" fill="none" stroke="#1a1a1a" stroke-width="2"/>
<path d="M871.7 547.6L876.2 546.9" fill="none" stroke="#1a1a1a" stroke-width="2"/>
<path d="M833.2 589.3L837.4 588.7" fill="none" stroke="#1a1a1a" stroke-width="2.1"/>
<path d="M862.5 556.3L867.5 556.6" fill="none" stroke="#1a1a1a" stroke-width="1.4"/>
<path d="M826 542.8L826.8 546" fill="none" stroke="#1a1a1a" stroke-width="1.7"/>
<path d="M849.9 584.6L850.4 586.8" fill="none" stroke="#1a1a1a" stroke-width="2.3"/>
<path d="M835.6 524L837.5 526.4" fill="none" stroke="#1a1a1a" stroke-width="2.2"/>
<path d="M827.7 555.1L829.1 554.2" fill="none" stroke="#1a1a1a" stroke-width="2.3"/>
<path d="M827.4 590.7L831.6 590.1" fill="none" stroke="#1a1a1a" stroke-width="1.3"/>
<path d="M826 543.1L827 547.5" fill="none" stroke="#1a1a1a" stroke-width="1.3"/>
<path d="M832.9 546.5L836.6 544" fill="none" stroke="#1a1a1a" stroke-width="1.7"/>
<path d="M847.7 522.5L850.8 520.3" fill="none" stroke="#1a1a1a" stroke-width="1.9"/>
<path d="M866.3 573.6L867.6 575.3" fill="none" stroke="#1a1a1a" stroke-width="1.6"/>
<path d="M863.4 571.4L864.4 575.7" fill="none" stroke="#1a1a1a" stroke-width="1.9"/>
<path d="M834.2 532.2L838.3 531.5" fill="none" stroke="#1a1a1a" stroke-width="2"/>
<path d="M846.6 525.7L847 527.6" fill="none" stroke="#1a1a1a" stroke-width="1.9"/>
<path d="M841.4 531.1L846.3 530.3" fill="none" stroke="#1a1a1a" stroke-width="2"/>
<path d="M841.5 540.2L844.4 539.8" fill="none" stroke="#1a1a1a" stroke-width="1.2"/>
<path d="M837 545.4L837.8 548.9" fill="none" stroke="#1a1a1a" stroke-width="1.7"/>
<path d="M848.5 590.7L850.2 592.9" fill="none" stroke="#1a1a1a" stroke-width="1.4"/>
<path d="M852 538.2L853 542.6" fill="none" stroke="#1a1a1a" stroke-width="2.2"/>
<path d="M828 567.3L829.4 569.1" fill="none" stroke="#1a1a1a" stroke-width="1.6"/>
<path d="M859.9 563.5L862.9 563.7" fill="none" stroke="#1a1a1a" stroke-width="1.6"/>
<path d="M840.2 562.1L841 565.9" fill="none" stroke="#1a1a1a" stroke-width="1.5"/>
<path d="M857.6 569.2L859 571" fill="none" stroke="#1a1a1a" stroke-width="1.6"/>
<path d="M852.7 584.7L853.3 587.5" fill="none" stroke="#1a1a1a" stroke-width="1.5"/>
<path d="M863.6 583.4L866.5 581.4" fill="none" stroke="#1a1a1a" stroke-width="1.9"/>
<path d="M846 532.1L850.2 532.4" fill="none" stroke="#1a1a1a" stroke-width="1.6"/>
<path d="M858.9 568.9L861.6 569.1" fill="none" stroke="#1a1a1a" stroke-width="1.9"/>
<path d="M831.7 521.2L833.4 520" fill="none" stroke="#1a1a1a" stroke-width="1.5"/>
<path d="M856.4 563.8L861.3 564.1" fill="none" stroke="#1a1a1a" stroke-width="2.3"/>
<path d="M843.2 581.7L846.9 581.9" fill="none" stroke="#1a1a1a" stroke-width="2.3"/>
<path d="M827.4 552.4L830.3 551.9" fill="none" stroke="#1a1a1a" stroke-width="1.7"/>
<path d="M852.2 555.2L855.9 552.7" fill="none" stroke="#1a1a1a" stroke-width="1.6"/>
<path d="M832.2 567.3L833 570.9" fill="none" stroke="#1a1a1a" stroke-width="1.9"/>
<path d="M870.8 553.3L873.6 556.9" fill="none" stroke="#1a1a1a" stroke-width="1.7"/>
<path d="M825 584.2L829.8 584.4" fill="none" stroke="#1a1a1a" stroke-width="1.3"/>
<path d="M844 560.3L848.9 560.5" fill="none" stroke="#1a1a1a" stroke-width="1.5"/>
<path d="M848.6 525.4L852 524.8" fill="none" stroke="#1a1a1a" stroke-width="1.9"/>
<path d="M848.7 540.1L851.4 539.7" fill="none" stroke="#1a1a1a" stroke-width="1.4"/>
<path d="M834.6 551.5L836.8 554.2" fill="none" stroke="#1a1a1a" stroke-width="1.3"/>
<path d="M867.3 580.2L870.6 579.7" fill="none" stroke="#1a1a1a" stroke-width="2.3"/>
<path d="M849.4 547.9L853 548.1" fill="none" stroke="#1a1a1a" stroke-width="1.6"/>
<path d="M824.7 527.7L827.4 531.1" fill="none" stroke="#1a1a1a" stroke-width="1.3"/>
<path d="M829.5 539.5L834.4 539.7" fill="none" stroke="#1a1a1a" stroke-width="1.6"/>
<path d="M838.6 532.6L840.7 535.2" fill="none" stroke="#1a1a1a" stroke-width="1.5"/>
<path d="M847.7 567.7L852.2 567" fill="none" stroke="#1a1a1a" stroke-width="1.8"/>
<path d="M848.2 587.7L848.9 590.5" fill="none" stroke="#1a1a1a" stroke-width="1.5"/>
<path d="M853 533L854.1 534.4" fill="none" stroke="#1a1a1a" stroke-width="1.6"/>
<path d="M855.3 542.1L855.8 544" fill="none" stroke="#1a1a1a" stroke-width="2.1"/>
<path d="M827.2 557.6L829.3 560.3" fill="none" stroke="#1a1a1a" stroke-width="2.1"/>
<path d="M856.6 572.4L857 574" fill="none" stroke="#1a1a1a" stroke-width="1.7"/>
<path d="M835.3 575.4L838.5 575.5" fill="none" stroke="#1a1a1a" stroke-width="1.6"/>
<path d="M852.7 523.8L853.5 527.6" fill="none" stroke="#1a1a1a" stroke-width="2.3"/>
<path d="M841.8 563.2L842.4 566" fill="none" stroke="#1a1a1a" stroke-width="1.4"/>
<path d="M833 524.8L833.9 528.9" fill="none" stroke="#1a1a1a" stroke-width="1.2"/>
<path d="M828.7 535.6L830.2 537.5" fill="none" stroke="#1a1a1a" stroke-width="1.9"/>
<path d="M842.1 522.6L845.6 522.8" fill="none" stroke="#1a1a1a" stroke-width="1.3"/>
<path d="M871.4 581.9L872 584.5" fill="none" stroke="#1a1a1a" stroke-width="1.3"/>
<path d="M831.7 538.2L833.2 540.2" fill="none" stroke="#1a1a1a" stroke-width="1.2"/>
<path d="M854.2 559.6L858.9 559.8" fill="none" stroke="#1a1a1a" stroke-width="1.9"/>
<path d="M857 532.3L859.1 535" fill="none" stroke="#1a1a1a" stroke-width="1.6"/>
<path d="M856.8 594.1L861.5 594.3" fill="none" stroke="#1a1a1a" stroke-width="1.4"/>
<path d="M828.2 570.2L829.4 571.8" fill="none" stroke="#1a1a1a" stroke-width="1.9"/>
<path d="M862.7 551L867.3 551.2" fill="none" stroke="#1a1a1a" stroke-width="2.1"/>
<path d="M870.1 543.9L874.5 544.1" fill="none" stroke="#1a1a1a" stroke-width="2"/>
<path d="M843.3 570.7L847 570.9" fill="none" stroke="#1a1a1a" stroke-width="2.2"/>
<path d="M834.3 548.6L837.7 548.8" fill="none" stroke="#1a1a1a" stroke-width="1.3"/>
<path d="M837.4 548L840.2 551.6" fill="none" stroke="#1a1a1a" stroke-width="1.4"/>
<path d="M857.9 555L859.8 557.3" fill="none" stroke="#1a1a1a" stroke-width="1.7"/>
<path d="M847.3 559.4L851 556.8" fill="none" stroke="#1a1a1a" stroke-width="1.5"/>
<path d="M824.9 581.3L827.3 584.2" fill="none" stroke="#1a1a1a" stroke-width="1.8"/>
<path d="M849.2 546.5L851.3 549.2" fill="none" stroke="#1a1a1a" stroke-width="1.6"/>
<path d="M852.2 553.8L853.3 558.7" fill="none" stroke="#1a1a1a" stroke-width="1.3"/>
<path d="M847.7 566L849.4 568.1" fill="none" stroke="#1a1a1a" stroke-width="1.8"/>
<path d="M863.8 545.6L866.3 548.7" fill="none" stroke="#1a1a1a" stroke-width="2.2"/>
<path d="M827.3 529.8L829.8 528.1" fill="none" stroke="#1a1a1a" stroke-width="1.7"/>
<path d="M847.6 533.9L851.7 534.1" fill="none" stroke="#1a1a1a" stroke-width="1.9"/>
<path d="M848.2 527.4L849.3 532.3" fill="none" stroke="#1a1a1a" stroke-width="1.8"/>
<path d="M850.7 542L851.1 544" fill="none" stroke="#1a1a1a" stroke-width="2.1"/>
<path d="M828.9 578.1L831.1 577.8" fill="none" stroke="#1a1a1a" stroke-width="2.1"/>
<path d="M859.6 542.9L861.7 542.6" fill="none" stroke="#1a1a1a" stroke-width="1.8"/>
<path d="M867.4 589.3L868.2 593.1" fill="none" stroke="#1a1a1a" stroke-width="1.3"/>
<path d="M862 580L862.8 583.5" fill="none" stroke="#1a1a1a" stroke-width="1.3"/>
<path d="M841.4 529.2L842.4 533.7" fill="none" stroke="#1a1a1a" stroke-width="1.5"/>
<path d="M851.1 536.4L852.9 536.5" fill="none" stroke="#1a1a1a" stroke-width="1.5"/>
<path d="M837.5 556.1L842 555.5" fill="none" stroke="#1a1a1a" stroke-width="2.1"/>
<path d="M850.3 525.9L852.1 525.6" fill="none" stroke="#1a1a1a" stroke-width="1.8"/>
<path d="M855.9 588.9L856.8 593.1" fill="none" stroke="#1a1a1a" stroke-width="1.5"/>
<path d="M844.7 577.8L847.8 575.7" fill="none" stroke="#1a1a1a" stroke-width="1.4"/>
<path d="M845.9 545L849.3 542.8" fill="none" stroke="#1a1a1a" stroke-width="1.5"/>
<path d="M859.1 586.2L860.5 585.2" fill="none" stroke="#1a1a1a" stroke-width="1.3"/>
<path d="M869.3 568L871.1 568.1" fill="none" stroke="#1a1a1a" stroke-width="1.3"/>
<path d="M851.3 525L852.4 529.8" fill="none" stroke="#1a1a1a" stroke-width="1.6"/>
<path d="M831 591.3L834.7 590.8" fill="none" stroke="#1a1a1a" stroke-width="1.2"/>
<path d="M851.6 594L854.8 591.8" fill="none" stroke="#1a1a1a" stroke-width="1.8"/>
<path d="M845.2 569.8L845.6 571.5" fill="none" stroke="#1a1a1a" stroke-width="1.9"/>
<path d="M868.6 585.8L870.4 585.5" fill="none" stroke="#1a1a1a" stroke-width="1.7"/>
<path d="M828 554.4L830.8 552.4" fill="none" stroke="#1a1a1a" stroke-width="1.3"/>
<path d="M867.4 535.9L867.9 538.1" fill="none" stroke="#1a1a1a" stroke-width="2.2"/>
<path d="M871 591.4L874 595.1" fill="none" stroke="#1a1a1a" stroke-width="2.2"/>
<path d="M825.2 554.6L828.1 552.6" fill="none" stroke="#1a1a1a" stroke-width="1.9"/>
<path d="M853.6 590.1L855.1 589" fill="none" stroke="#1a1a1a" stroke-width="1.3"/>
<path d="M838.5 539.5L841.6 543.3" fill="none" stroke="#1a1a1a" stroke-width="1.2"/>
<path d="M864 570.5L866.8 568.6" fill="none" stroke="#1a1a1a" stroke-width="2"/>
<path d="M842 592.1L843.4 593.8" fill="none" stroke="#1a1a1a" stroke-width="2.1"/>
<path d="M843.8 542.2L846.5 542.4" fill="none" stroke="#1a1a1a" stroke-width="2.2"/>
<path d="M841.9 573.2L842.7 576.5" fill="none" stroke="#1a1a1a" stroke-width="1.7"/>
<path d="M835.5 585.9L837.5 585.6" fill="none" stroke="#1a1a1a" stroke-width="1.4"/>
<path d="M845.9 533.1L850.5 532.4" fill="none" stroke="#1a1a1a" stroke-width="1.4"/>
<path d="M855.6 536.2L856.3 539.5" fill="none" stroke="#1a1a1a" stroke-width="1.8"/>
<path d="M825.3 540.3L826.7 539.3" fill="none" stroke="#1a1a1a" stroke-width="1.5"/>
<path d="M859.1 569.3L862.6 566.9" fill="none" stroke="#1a1a1a" stroke-width="1.3"/>
<path d="M857.1 555.7L860.1 555.8" fill="none" stroke="#1a1a1a" stroke-width="1.6"/>
<path d="M871.7 545.1L874.5 545.2" fill="none" stroke="#1a1a1a" stroke-width="2.3"/>
<path d="M842.8 526.2L847 525.6" fill="none" stroke="#1a1a1a" stroke-width="1.5"/>
<path d="M862.1 545.8L864.2 544.3" fill="none" stroke="#1a1a1a" stroke-width="2.2"/>
<path d="M827.5 593.3L832.2 593.6" fill="none" stroke="#1a1a1a" stroke-width="1.7"/>
<path d="M868.1 526.9L869.5 528.6" fill="none" stroke="#1a1a1a" stroke-width="2.3"/>
<path d="M868.9 542.8L873.6 542" fill="none" stroke="#1a1a1a" stroke-width="2.1"/>
<path d="M835.6 571.5L837 573.4" fill="none" stroke="#1a1a1a" stroke-width="1.6"/>
<path d="M859.1 589.3L861.1 589.4" fill="none" stroke="#1a1a1a" stroke-width="2.3"/>
<path d="M859 569.5L859.4 571.4" fill="none" stroke="#1a1a1a" stroke-width="1.4"/>
<path d="M830.1 557.6L832.9 555.6" fill="none" stroke="#1a1a1a" stroke-width="1.7"/>
<path d="M862.8 536.3L864.6 536.1" fill="none" stroke="#1a1a1a" stroke-width="1.2"/>
<path d="M868.4 593.4L872.4 590.7" fill="none" stroke="#1a1a1a" stroke-width="1.4"/>
<path d="M870.5 566.5L871.7 567.9" fill="none" stroke="#1a1a1a" stroke-width="2.1"/>
<path d="M870.9 552.2L873.1 555" fill="none" stroke="#1a1a1a" stroke-width="1.7"/>
<path d="M833.4 590.9L838.3 591.2" fill="none" stroke="#1a1a1a" stroke-width="1.7"/>
<path d="M852.3 558.9L854.7 559" fill="none" stroke="#1a1a1a" stroke-width="1.4"/>
<path d="M859.5 532.3L861.1 532.1" fill="none" stroke="#1a1a1a" stroke-width="1.6"/>
<path d="M870.4 564.4L872.1 564.5" fill="none" stroke="#1a1a1a" stroke-width="1.4"/>
<path d="M824.9 539.7L825.3 541.4" fill="none" stroke="#1a1a1a" stroke-width="2.1"/>
<path d="M851.2 570.4L851.7 572.7" fill="none" stroke="#1a1a1a" stroke-width="1.3"/>
<path d="M831.1 561.7L833.4 564.6" fill="none" stroke="#1a1a1a" stroke-width="1.8"/>
<path d="M846.3 542L850.9 541.3" fill="none" stroke="#1a1a1a" stroke-width="1.9"/>
<path d="M854 586.7L856.4 589.7" fill="none" stroke="#1a1a1a" stroke-width="1.7"/>
<path d="M871.5 538.5L871.9 540.5" fill="none" stroke="#1a1a1a" stroke-width="1.4"/>
<path d="M852.2 528L853.3 532.7" fill="none" stroke="#1a1a1a" stroke-width="1.9"/>
<path d="M847.2 524.4L850.6 522" fill="none" stroke="#1a1a1a" stroke-width="1.9"/>
<path d="M857.1 568.4L858.9 570.7" fill="none" stroke="#1a1a1a" stroke-width="1.8"/>
<path d="M854.5 552.4L855.7 553.8" fill="none" stroke="#1a1a1a" stroke-width="1.9"/>
<path d="M827.2 526.8L828.5 525.9" fill="none" stroke="#1a1a1a" stroke-width="1.7"/>
<path d="M828.3 579.4L829.7 581.2" fill="none" stroke="#1a1a1a" stroke-width="2.1"/>
<path d="M836.4 587.6L838.5 590.2" fill="none" stroke="#1a1a1a" stroke-width="1.6"/>
<path d="M827 521.2L831.4 520.5" fill="none" stroke="#1a1a1a" stroke-width="1.5"/>
<path d="M864.6 555.6L867.2 555.2" fill="none" stroke="#1a1a1a" stroke-width="1.9"/>
<path d="M857.3 551.1L859.8 550.7" fill="none" stroke="#1a1a1a" stroke-width="1.9"/>
<path d="M862.5 572.3L866.8 571.7" fill="none" stroke="#1a1a1a" stroke-width="1.3"/>
<path d="M847 572.5L848.7 572.6" fill="none" stroke="#1a1a1a" stroke-width="2.3"/>
<path d="M855.8 553.1L858.1 556" fill="none" stroke="#1a1a1a" stroke-width="2.2"/>
<path d="M856.2 524.2L859.3 528" fill="none" stroke="#1a1a1a" stroke-width="1.5"/>
<path d="M833.1 570.9L836.6 568.6" fill="none" stroke="#1a1a1a" stroke-width="1.9"/>
<path d="M860.2 568.9L862 571.3" fill="none" stroke="#1a1a1a" stroke-width="2"/>
<path d="M861.9 585.3L864.1 588" fill="none" stroke="#1a1a1a" stroke-width="1.9"/>
<path d="M847.8 546.2L850.5 546.3" fill="none" stroke="#1a1a1a" stroke-width="2.2"/>
<path d="M848.2 593.7L850.1 592.4" fill="none" stroke="#1a1a1a" stroke-width="2"/>
<path d="M857.5 556.7L858.1 559.2" fill="none" stroke="#1a1a1a" stroke-width="1.9"/>
<path d="M825.5 536.7L829.7 537" fill="none" stroke="#1a1a1a" stroke-width="1.5"/>
<path d="M868.7 588.3L870.8 586.9" fill="none" stroke="#1a1a1a" stroke-width="1.9"/>
<path d="M870.4 577.3L871 579.9" fill="none" stroke="#1a1a1a" stroke-width="1.4"/>
<path d="M828.8 571.8L830.2 570.9" fill="none" stroke="#1a1a1a" stroke-width="1.4"/>
<path d="M833.8 561.9L834.3 564.2" fill="none" stroke="#1a1a1a" stroke-width="1.6"/>
<path d="M840.5 592.1L842.6 590.7" fill="none" stroke="#1a1a1a" stroke-width="1.6"/>
<path d="M843.7 534.2L846.9 534.4" fill="none" stroke="#1a1a1a" stroke-width="1.3"/>
<path d="M845 570.3L848.4 567.9" fill="none" stroke="#1a1a1a" stroke-width="2.1"/>
<path d="M868.6 555.4L872.6 552.7" fill="none" stroke="#1a1a1a" stroke-width="1.8"/>
<path d="M872.1 557.6L874.2 557.7" fill="none" stroke="#1a1a1a" stroke-width="1.9"/>
<path d="M833 592.9L836.5 590.5" fill="none" stroke="#1a1a1a" stroke-width="2"/>
<path d="M839.5 576.8L843.3 576.9" fill="none" stroke="#1a1a1a" stroke-width="1.7"/>
<path d="M845 523.9L845.7 527" fill="none" stroke="#1a1a1a" stroke-width="2.2"/>
<path d="M826.9 521.1L828.9 519.7" fill="none" stroke="#1a1a1a" stroke-width="1.7"/>
<path d="M830.3 549.4L833.8 548.9" fill="none" stroke="#1a1a1a" stroke-width="1.6"/>
<path d="M855.4 569.9L859 570.1" fill="none" stroke="#1a1a1a" stroke-width="1.3"/>
<path d="M851.3 535L853.4 537.8" fill="none" stroke="#1a1a1a" stroke-width="1.2"/>
<path d="M827.7 546.7L830.8 546.8" fill="none" stroke="#1a1a1a" stroke-width="1.4"/>
<path d="M836 574.7L837.1 579.6" fill="none" stroke="#1a1a1a" stroke-width="2.2"/>
<path d="M854.8 542.3L856.1 541.4" fill="none" stroke="#1a1a1a" stroke-width="1.8"/>
<path d="M859.7 585L861.8 585.1" fill="none" stroke="#1a1a1a" stroke-width="2.1"/>
<path d="M858.2 551.3L859.9 553.4" fill="none" stroke="#1a1a1a" stroke-width="1.4"/>
<path d="M845.1 532.3L845.4 533.8" fill="none" stroke="#1a1a1a" stroke-width="1.9"/>
<path d="M828.5 574.2L831.5 572.1" fill="none" stroke="#1a1a1a" stroke-width="1.7"/>
<path d="M842.2 587.2L845.3 591.1" fill="none" stroke="#1a1a1a" stroke-width="2.2"/>
<path d="M827.8 533.5L829.7 532.2" fill="none" stroke="#1a1a1a" stroke-width="2.2"/>
<path d="M855.7 568.9L856.3 571.9" fill="none" stroke="#1a1a1a" stroke-width="1.4"/>
<path d="M861.2 558.5L862.3 563.3" fill="none" stroke="#1a1a1a" stroke-width="1.8"/>
<path d="M843 582.6L844.7 584.7" fill="none" stroke="#1a1a1a" stroke-width="1.5"/>
<path d="M853.6 533.1L856.5 532.6" fill="none" stroke="#1a1a1a" stroke-width="2"/>
<path d="M845 555.3L846.7 555" fill="none" stroke="#1a1a1a" stroke-width="2.1"/>
<path d="M843 562.6L843.9 566.5" fill="none" stroke="#1a1a1a" stroke-width="2"/>
<path d="M852 535.5L855.3 533.3" fill="none" stroke="#1a1a1a" stroke-width="1.6"/>
<path d="M860.3 562.2L863.9 559.7" fill="none" stroke="#1a1a1a" stroke-width="2.2"/>
<path d="M837.4 560.8L839.5 563.4" fill="none" stroke="#1a1a1a" stroke-width="1.5"/>
<path d="M868.5 578.9L870.5 581.4" fill="none" stroke="#1a1a1a" stroke-width="1.5"/>
<path d="M862.9 549L864.5 547.9" fill="none" stroke="#1a1a1a" stroke-width="1.2"/>
<path d="M846.4 560L849.5 560.1" fill="none" stroke="#1a1a1a" stroke-width="2.3"/>
<path d="M841.1 576.1L841.5 577.8" fill="none" stroke="#1a1a1a" stroke-width="1.8"/>
<path d="M832.3 544.5L832.8 546.7" fill="none" stroke="#1a1a1a" stroke-width="1.3"/>
<path d="M852 556.5L854.1 559.1" fill="none" stroke="#1a1a1a" stroke-width="1.9"/>
<path d="M831.3 540.3L835.1 537.7" fill="none" stroke="#1a1a1a" stroke-width="1.4"/>
<path d="M832.7 524.8L834.5 524.9" fill="none" stroke="#1a1a1a" stroke-width="2"/>
<path d="M836.9 554.5L840.8 554.7" fill="none" stroke="#1a1a1a" stroke-width="1.9"/>
<path d="M838.2 541.9L839 545.4" fill="none" stroke="#1a1a1a" stroke-width="2"/>
<path d="M840.4 585.7L841.8 587.4" fill="none" stroke="#1a1a1a" stroke-width="2"/>
<path d="M825.5 588.8L826.5 592.9" fill="none" stroke="#1a1a1a" stroke-width="1.9"/>
<path d="M871.6 533.3L873.5 532" fill="none" stroke="#1a1a1a" stroke-width="1.5"/>
<path d="M855.3 589.1L857.9 592.5" fill="none" stroke="#1a1a1a" stroke-width="1.4"/>
<path d="M833 562.8L835.5 566.1" fill="none" stroke="#1a1a1a" stroke-width="1.6"/>
<path d="M858.1 532.7L862.6 532" fill="none" stroke="#1a1a1a" stroke-width="1.7"/>
<path d="M827 554.8L830.9 555" fill="none" stroke="#1a1a1a" stroke-width="2"/>
<path d="M856.9 590.7L857.2 592.2" fill="none" stroke="#1a1a1a" stroke-width="1.2"/>
<path d="M841.1 594.2L843.4 597" fill="none" stroke="#1a1a1a" stroke-width="1.2"/>
<path d="M857.7 529.5L860.1 529.1" fill="none" stroke="#1a1a1a" stroke-width="2"/>
<path d="M839.7 552.8L841.7 551.4" fill="none" stroke="#1a1a1a" stroke-width="1.2"/>
<path d="M868.5 539.4L868.9 540.9" fill="none" stroke="#1a1a1a" stroke-width="1.5"/>
<path d="M852.6 536.9L854.5 537" fill="none" stroke="#1a1a1a" stroke-width="1.7"/>
<path d="M848.8 540.4L852.6 537.8" fill="none" stroke="#1a1a1a" stroke-width="2.1"/>
<path d="M845.5 572.8L847 574.7" fill="none" stroke="#1a1a1a" stroke-width="1.6"/>
<path d="M836.9 550.9L840.4 550.4" fill="none" stroke="#1a1a1a" stroke-width="1.5"/>
<path d="M838.4 546.7L842.2 546.9" fill="none" stroke="#1a1a1a" stroke-width="1.9"/>
<path d="M837.9 530.7L841.7 528.1" fill="none" stroke="#1a1a1a" stroke-width="1.9"/>
<path d="M857.4 575L859.3 577.4" fill="none" stroke="#1a1a1a" stroke-width="1.7"/>
<path d="M835.1 561.8L838.8 561.3" fill="none" stroke="#1a1a1a" stroke-width="1.2"/>
<path d="M836.1 593.1L838.9 591.2" fill="none" stroke="#1a1a1a" stroke-width="1.8"/>
<path d="M826.1 538.6L828.8 538.7" fill="none" stroke="#1a1a1a" stroke-width="1.8"/>
<path d="M829.6 584.7L833.9 584.9" fill="none" stroke="#1a1a1a" stroke-width="1.7"/>
<path d="M871.7 587.1L874.6 585.1" fill="none" stroke="#1a1a1a" stroke-width="1.8"/>
<path d="M852.2 529.3L855.2 528.8" fill="none" stroke="#1a1a1a" stroke-width="1.9"/>
<path d="M834.6 551.2L835.4 554.5" fill="none" stroke="#1a1a1a" stroke-width="2.3"/>
<path d="M868.4 564.6L870 564.3" fill="none" stroke="#1a1a1a" stroke-width="1.8"/>
<path d="M835.9 540.3L837.6 539.1" fill="none" stroke="#1a1a1a" stroke-width="1.8"/>
<path d="M871.1 530.1L873.2 529.8" fill="none" stroke="#1a1a1a" stroke-width="2"/>
<path d="M862.5 526.6L864.7 526.8" fill="none" stroke="#1a1a1a" stroke-width="2"/>
<path d="M866.8 567L867.8 571.8" fill="none" stroke="#1a1a1a" stroke-width="2.2"/>
<path d="M859.8 541L861.7 541.1" fill="none" stroke="#1a1a1a" stroke-width="2.2"/>
<path d="M826.3 560.5L826.9 563.2" fill="none" stroke="#1a1a1a" stroke-width="1.6"/>
<path d="M855.3 548.6L859.1 548.8" fill="none" stroke="#1a1a1a" stroke-width="1.4"/>
<path d="M837.6 588.8L841.4 589" fill="none" stroke="#1a1a1a" stroke-width="1.4"/>
<path d="M857.6 545.9L862.3 546.1" fill="none" stroke="#1a1a1a" stroke-width="2.3"/>
<path d="M856.3 565.6L857 568.4" fill="none" stroke="#1a1a1a" stroke-width="1.7"/>
<path d="M827 554.8L829.4 553.2" fill="none" stroke="#1a1a1a" stroke-width="1.4"/>
<path d="M829.8 544.2L832.8 542.1" fill="none" stroke="#1a1a1a" stroke-width="1.5"/>
<path d="M831.3 562.8L836 562.1" fill="none" stroke="#1a1a1a" stroke-width="1.4"/>
<path d="M824.7 568.1L828.5 567.5" fill="none" stroke="#1a1a1a" stroke-width="1.7"/>
<path d="M850.2 592.2L851.5 593.8" fill="none" stroke="#1a1a1a" stroke-width="1.7"/>
<path d="M864.7 565L865.6 569" fill="none" stroke="#1a1a1a" stroke-width="2"/>
<path d="M826.7 581.4L828.7 581.1" fill="none" stroke="#1a1a1a" stroke-width="1.9"/>
<path d="M867.2 534.7L870.9 534.2" fill="none" stroke="#1a1a1a" stroke-width="1.3"/>
<path d="M826.4 583.1L830 583.3" fill="none" stroke="#1a1a1a" stroke-width="1.8"/>
<path d="M835.2 529.8L837.2 532.2" fill="none" stroke="#1a1a1a" stroke-width="1.4"/>
<path d="M854.9 528.8L856.7 527.7" fill="none" stroke="#1a1a1a" stroke-width="2.1"/>
<path d="M843.9 545.7L848 545.9" fill="none" stroke="#1a1a1a" stroke-width="1.6"/>
<path d="M853.7 530.9L856.4 531" fill="none" stroke="#1a1a1a" stroke-width="1.6"/>
<path d="M862.1 583.5L862.6 586" fill="none" stroke="#1a1a1a" stroke-width="2.2"/>
<path d="M830.5 546.1L831.4 550" fill="none" stroke="#1a1a1a" stroke-width="2.2"/>
<path d="M829.4 567.6L829.9 570" fill="none" stroke="#1a1a1a" stroke-width="1.5"/>
<path d="M860.2 578.1L864.1 577.6" fill="none" stroke="#1a1a1a" stroke-width="1.9"/>
<path d="M865.7 542.7L867.7 541.4" fill="none" stroke="#1a1a1a" stroke-width="2.3"/>
<path d="M859.7 584.7L862 583.1" fill="none" stroke="#1a1a1a" stroke-width="1.9"/>
<path d="M851.9 585.8L852.9 590.3" fill="none" stroke="#1a1a1a" stroke-width="2.3"/>
<path d="M864.5 567.9L869.3 567.1" fill="none" stroke="#1a1a1a" stroke-width="1.5"/>
<path d="M848 522.6L852.3 522.8" fill="none" stroke="#1a1a1a" stroke-width="1.7"/>
<path d="M852 532.1L855 535.9" fill="none" stroke="#1a1a1a" stroke-width="1.4"/>
<path d="M845.7 584L846.8 588.8" fill="none" stroke="#1a1a1a" stroke-width="1.4"/>
<path d="M848.5 563.8L849.2 567.2" fill="none" stroke="#1a1a1a" stroke-width="1.4"/>
<path d="M850.9 542.6L852.4 542.6" fill="none" stroke="#1a1a1a" stroke-width="1.9"/>
<path d="M854.3 566.7L856.9 564.9" fill="none" stroke="#1a1a1a" stroke-width="1.9"/>
<path d="M827.3 572.7L828.8 574.5" fill="none" stroke="#1a1a1a" stroke-width="1.4"/>
<path d="M846.4 553.3L847.3 557.1" fill="none" stroke="#1a1a1a" stroke-width="1.5"/>
<path d="M843.3 540.4L845.8 543.6" fill="none" stroke="#1a1a1a" stroke-width="1.8"/>
<path d="M853.9 588.6L857.7 588" fill="none" stroke="#1a1a1a" stroke-width="1.3"/>
<path d="M853 570.2L855.9 569.8" fill="none" stroke="#1a1a1a" stroke-width="1.8"/>
<path d="M833.5 569.3L836.3 569.4" fill="none" stroke="#1a1a1a" stroke-width="1.6"/>
<path d="M869 526.5L869.8 530.3" fill="none" stroke="#1a1a1a" stroke-width="1.9"/>
<path d="M850.5 583.9L853.3 584" fill="none" stroke="#1a1a1a" stroke-width="1.2"/>
<path d="M855.3 553.5L856.8 552.4" fill="none" stroke="#1a1a1a" stroke-width="1.3"/>
<path d="M827.3 557.9L828.9 556.8" fill="none" stroke="#1a1a1a" stroke-width="2"/>
<path d="M865.5 588.9L866.1 591.6" fill="none" stroke="#1a1a1a" stroke-width="2.2"/>
<path d="M850.8 562L854.5 559.4" fill="none" stroke="#1a1a1a" stroke-width="2.3"/>
<path d="M838 577.4L840.3 580.3" fill="none" stroke="#1a1a1a" stroke-width="1.4"/>
<path d="M845.4 583.6L848 581.8" fill="none" stroke="#1a1a1a" stroke-width="1.3"/>
<path d="M837 558.5L837.6 561.2" fill="none" stroke="#1a1a1a" stroke-width="1.9"/>
<path d="M871.7 578.8L873.3 580.8" fill="none" stroke="#1a1a1a" stroke-width="1.9"/>
<path d="M844.4 537.8L847.4 541.6" fill="none" stroke="#1a1a1a" stroke-width="2.2"/>
<path d="M856.9 583.8L858.7 583.9" fill="none" stroke="#1a1a1a" stroke-width="1.2"/>
<path d="M843.4 521.8L847.2 521.2" fill="none" stroke="#1a1a1a" stroke-width="1.7"/>
<path d="M851.5 523.2L853.8 522.9" fill="none" stroke="#1a1a1a" stroke-width="1.7"/>
<path d="M838.4 544.8L842.9 544.1" fill="none" stroke="#1a1a1a" stroke-width="2"/>
<path d="M824.4 528.9L826.3 528.6" fill="none" stroke="#1a1a1a" stroke-width="1.3"/>
<path d="M866.9 575.3L868.6 575.1" fill="none" stroke="#1a1a1a" stroke-width="1.4"/>
<path d="M845.6 563.8L847.3 563.9" fill="none" stroke="#1a1a1a" stroke-width="1.5"/>
<path d="M831.1 577.8L833 577.9" fill="none" stroke="#1a1a1a" stroke-width="2.3"/>
<path d="M840.2 547.5L844.8 546.8" fill="none" stroke="#1a1a1a" stroke-width="2.1"/>
<path d="M867.9 529.7L868.6 532.8" fill="none" stroke="#1a1a1a" stroke-width="2.2"/>
<path d="M834.2 566.9L835.9 566.6" fill="none" stroke="#1a1a1a" stroke-width="2.2"/>
<path d="M853.9 541L857.9 541.2" fill="none" stroke="#1a1a1a" stroke-width="2.1"/>
<path d="M835.7 582.9L838.4 581.1" fill="none" stroke="#1a1a1a" stroke-width="2.1"/>
<path d="M836.1 559.6L838.7 559.2" fill="none" stroke="#1a1a1a" stroke-width="1.8"/>
<path d="M836.8 534.8L840.6 534.2" fill="none" stroke="#1a1a1a" stroke-width="1.7"/>
<path d="M829.9 523.1L831.2 524.7" fill="none" stroke="#1a1a1a" stroke-width="1.7"/>
<path d="M855.1 544.6L857.9 544.1" fill="none" stroke="#1a1a1a" stroke-width="1.4"/>
<path d="M853.3 535.2L854.8 534.2" fill="none" stroke="#1a1a1a" stroke-width="1.8"/>
<path d="M853.6 577L855.9 579.8" fill="none" stroke="#1a1a1a" stroke-width="1.6"/>
<path d="M855.3 545.3L856 548.2" fill="none" stroke="#1a1a1a" stroke-width="1.3"/>
<path d="M836.2 552.6L837 556" fill="none" stroke="#1a1a1a" stroke-width="2.1"/>
<path d="M856.7 582.9L859.5 583" fill="none" stroke="#1a1a1a" stroke-width="1.4"/>
<path d="M839.3 523.5L840.3 527.6" fill="none" stroke="#1a1a1a" stroke-width="1.8"/>
<path d="M854.7 571.4L858.8 568.6" fill="none" stroke="#1a1a1a" stroke-width="2.2"/>
<path d="M828.2 535.8L832.3 535.1" fill="none" stroke="#1a1a1a" stroke-width="1.3"/>
<path d="M827.4 571.4L828.5 576" fill="none" stroke="#1a1a1a" stroke-width="2.2"/>
<path d="M862.9 539.8L866 539.4" fill="none" stroke="#1a1a1a" stroke-width="1.9"/>
<path d="M862.7 541.5L864.9 541.6" fill="none" stroke="#1a1a1a" stroke-width="1.6"/>
<path d="M828.2 575.3L831.6 574.8" fill="none" stroke="#1a1a1a" stroke-width="1.7"/>
<path d="M852.9 540.9L853.9 542.2" fill="none" stroke="#1a1a1a" stroke-width="1.7"/>
<path d="M836.6 526.1L839.6 524" fill="none" stroke="#1a1a1a" stroke-width="1.3"/>
<path d="M840.6 565.8L842.7 565.9" fill="none" stroke="#1a1a1a" stroke-width="1.7"/>
<path d="M832.8 564.8L833.3 567.2" fill="none" stroke="#1a1a1a" stroke-width="1.8"/>
<path d="M867.3 591.9L871.4 592.1" fill="none" stroke="#1a1a1a" stroke-width="1.7"/>
<path d="M861.5 568.9L863.2 567.8" fill="none" stroke="#1a1a1a" stroke-width="2.2"/>
<path d="M862.9 575L866.7 572.4" fill="none" stroke="#1a1a1a" stroke-width="1.8"/>
<path d="M862.1 581.4L863.9 581.1" fill="none" stroke="#1a1a1a" stroke-width="2"/>
<path d="M865.6 592.4L869.8 592.6" fill="none" stroke="#1a1a1a" stroke-width="1.7"/>
<path d="M846.5 560.6L848.6 559.2" fill="none" stroke="#1a1a1a" stroke-width="1.5"/>
<path d="M864.8 579.7L866 578.8" fill="none" stroke="#1a1a1a" stroke-width="1.6"/>
<path d="M867.6 532.3L869.9 530.8" fill="none" stroke="#1a1a1a" stroke-width="2"/>
<path d="M832.9 541.7L835.3 544.6" fill="none" stroke="#1a1a1a" stroke-width="1.7"/>
<path d="M836.5 569.4L838.4 569.2" fill="none" stroke="#1a1a1a" stroke-width="1.8"/>
<path d="M851.4 558.5L854.6 558.1" fill="none" stroke="#1a1a1a" stroke-width="2.1"/>
<path d="M842.4 528.1L845.2 531.5" fill="none" stroke="#1a1a1a" stroke-width="1.4"/>
<path d="M860.5 580.8L865.2 580.1" fill="none" stroke="#1a1a1a" stroke-width="1.9"/>
<path d="M841.7 549.6L846.4 549.8" fill="none" stroke="#1a1a1a" stroke-width="2.2"/>
<path d="M846.9 525.6L849.6 525.2" fill="none" stroke="#1a1a1a" stroke-width="1.5"/>
<path d="M864.9 558.4L866.5 560.5" fill="none" stroke="#1a1a1a" stroke-width="1.2"/>
<path d="M861.5 578.9L862.2 582.1" fill="none" stroke="#1a1a1a" stroke-width="2.3"/>
<path d="M857.7 527.7L860.4 525.8" fill="none" stroke="#1a1a1a" stroke-width="1.6"/>
<path d="M825.8 521.8L828.7 521.3" fill="none" stroke="#1a1a1a" stroke-width="2.1"/>
<path d="M825.6 540.7L826.3 543.5" fill="none" stroke="#1a1a1a" stroke-width="2.1"/>
<path d="M827 570.3L827.8 573.9" fill="none" stroke="#1a1a1a" stroke-width="1.4"/>
<path d="M860.9 533.9L865 534.1" fill="none" stroke="#1a1a1a" stroke-width="1.4"/>
<path d="M842.4 553L842.8 554.8" fill="none" stroke="#1a1a1a" stroke-width="1.2"/>
<path d="M847.7 522.5L848.1 524.3" fill="none" stroke="#1a1a1a" stroke-width="2.2"/>
<path d="M827.3 539.2L829.5 537.7" fill="none" stroke="#1a1a1a" stroke-width="2.2"/>
<path d="M832.4 594.7L834.6 594.4" fill="none" stroke="#1a1a1a" stroke-width="1.3"/>
<path d="M838.7 550.8L839.7 555.1" fill="none" stroke="#1a1a1a" stroke-width="1.4"/>
<path d="M867.3 584.6L870.6 584.8" fill="none" stroke="#1a1a1a" stroke-width="1.5"/>
<path d="M868 579.9L870.9 580.1" fill="none" stroke="#1a1a1a" stroke-width="1.8"/>
<path d="M836 573.9L838.6 573.5" fill="none" stroke="#1a1a1a" stroke-width="1.7"/>
<path d="M861.4 540L861.9 542.4" fill="none" stroke="#1a1a1a" stroke-width="1.6"/>
<path d="M851.3 538.7L852.9 538.8" fill="none" stroke="#1a1a1a" stroke-width="1.5"/>
<path d="M847.8 545.6L850.2 545.7" fill="none" stroke="#1a1a1a" stroke-width="1.2"/>
<path d="M860.6 528L862 529.8" fill="none" stroke="#1a1a1a" stroke-width="1.8"/>
<path d="M824.6 558.3L825.8 559.9" fill="none" stroke="#1a1a1a" stroke-width="1.3"/>
<path d="M861.9 559.9L862.6 563.1" fill="none" stroke="#1a1a1a" stroke-width="1.6"/>
<path d="M837.1 546.6L842 545.9" fill="none" stroke="#1a1a1a" stroke-width="1.9"/>
<path d="M846.4 558.1L849.3 556.1" fill="none" stroke="#1a1a1a" stroke-width="1.7"/>
<path d="M871.7 589.1L875.3 586.6" fill="none" stroke="#1a1a1a" stroke-width="1.8"/>
<path d="M851 586.5L854.6 585.9" fill="none" stroke="#1a1a1a" stroke-width="1.6"/>
<path d="M869.7 528.6L873.2 528.1" fill="none" stroke="#1a1a1a" stroke-width="2.2"/>
<path d="M860.7 524.4L863 527.3" fill="none" stroke="#1a1a1a" stroke-width="1.2"/>
<path d="M835 574.1L836 578.5" fill="none" stroke="#1a1a1a" stroke-width="2.3"/>
<path d="M843.8 552.3L847.8 549.6" fill="none" stroke="#1a1a1a" stroke-width="2.2"/>
<path d="M847.2 542.5L848.4 543.9" fill="none" stroke="#1a1a1a" stroke-width="2.2"/>
<path d="M830.2 551.1L832.2 549.7" fill="none" stroke="#1a1a1a" stroke-width="1.3"/>
<path d="M840.2 548.2L842.2 550.7" fill="none" stroke="#1a1a1a" stroke-width="1.3"/>
<path d="M859.5 584L862.8 583.5" fill="none" stroke="#1a1a1a" stroke-width="1.4"/>
<path d="M868 554L868.9 557.8" fill="none" stroke="#1a1a1a" stroke-width="1.5"/>
<path d="M825.1 522.7L827.4 522.8" fill="none" stroke="#1a1a1a" stroke-width="1.9"/>
<path d="M829 524.9L829.4 526.6" fill="none" stroke="#1a1a1a" stroke-width="1.8"/>
<path d="M845.5 537.6L849.4 535" fill="none" stroke="#1a1a1a" stroke-width="1.7"/>
<path d="M860 576.8L860.8 580" fill="none" stroke="#1a1a1a" stroke-width="2.3"/>
<path d="M853.1 571.4L857.2 570.8" fill="none" stroke="#1a1a1a" stroke-width="1.3"/>
<path d="M870.8 532.3L873.1 532.4" fill="none" stroke="#1a1a1a" stroke-width="2.2"/>
<path d="M868.6 582.7L869.6 587.1" fill="none" stroke="#1a1a1a" stroke-width="1.8"/>
<path d="M827.8 573.9L832.2 574.2" fill="none" stroke="#1a1a1a" stroke-width="1.2"/>
<path d="M827.1 573.8L829.8 572" fill="none" stroke="#1a1a1a" stroke-width="2.3"/>
<path d="M845.7 569.4L848 572.4" fill="none" stroke="#1a1a1a" stroke-width="1.6"/>
<path d="M867.4 573.3L870.1 576.7" fill="none" stroke="#1a1a1a" stroke-width="2.2"/>
<path d="M831.4 550.8L835.8 551" fill="none" stroke="#1a1a1a" stroke-width="1.3"/>
<path d="M871.6 588.9L876 588.3" fill="none" stroke="#1a1a1a" stroke-width="1.4"/>
<path d="M844.2 571L848.8 571.2" fill="none" stroke="#1a1a1a" stroke-width="1.9"/>
<path d="M858.1 529.3L860.6 528.9" fill="none" stroke="#1a1a1a" stroke-width="1.6"/>
<path d="M856.9 588.3L860.1 586.1" fill="none" stroke="#1a1a1a" stroke-width="1.7"/>
<path d="M827.7 589.1L830.5 592.5" fill="none" stroke="#1a1a1a" stroke-width="1.7"/>
<path d="M824.9 564.5L828 562.4" fill="none" stroke="#1a1a1a" stroke-width="1.6"/>
<path d="M827.2 567L828.8 569.1" fill="none" stroke="#1a1a1a" stroke-width="2.3"/>
<path d="M852.7 583.6L856.8 583" fill="none" stroke="#1a1a1a" stroke-width="1.7"/>
<path d="M867.3 547.1L867.6 548.6" fill="none" stroke="#1a1a1a" stroke-width="2.2"/>
<path d="M827.1 561L829.7 561.1" fill="none" stroke="#1a1a1a" stroke-width="1.9"/>
<path d="M828.9 539.8L831.7 540" fill="none" stroke="#1a1a1a" stroke-width="1.3"/>
<path d="M848.7 544L850 543" fill="none" stroke="#1a1a1a" stroke-width="2.3"/>
<path d="M833.6 557.9L835.9 558" fill="none" stroke="#1a1a1a" stroke-width="1.8"/>
<path d="M844.2 570.5L846.4 568.9" fill="none" stroke="#1a1a1a" stroke-width="1.9"/>
<path d="M857.7 544L858.3 546.9" fill="none" stroke="#1a1a1a" stroke-width="2.2"/>
<path d="M861.4 579.6L866.4 578.9" fill="none" stroke="#1a1a1a" stroke-width="2.2"/>
<path d="M830.5 575.2L834.1 572.7" fill="none" stroke="#1a1a1a" stroke-width="2"/>
<path d="M831.8 560.8L834.8 558.7" fill="none" stroke="#1a1a1a" stroke-width="1.7"/>
<path d="M842.6 540.4L847.5 540.6" fill="none" stroke="#1a1a1a" stroke-width="2.3"/>
<path d="M856.3 536.2L856.8 538.4" fill="none" stroke="#1a1a1a" stroke-width="1.7"/>
<path d="M844.7 583.2L848.8 580.4" fill="none" stroke="#1a1a1a" stroke-width="2.3"/>
<path d="M866.9 589.1L867.4 591.4" fill="none" stroke="#1a1a1a" stroke-width="1.3"/>
<path d="M829 591.3L830.6 590.2" fill="none" stroke="#1a1a1a" stroke-width="1.8"/>
<path d="M863.8 525.9L866.6 529.4" fill="none" stroke="#1a1a1a" stroke-width="2.1"/>
<path d="M848 551.3L850 549.9" fill="none" stroke="#1a1a1a" stroke-width="1.2"/>
<path d="M840.4 508.8C843.1 508.1 851.8 507.7 854.6 508.8C857.5 509.9 857.7 513.7 857.7 515.4C857.7 517.1 857.5 518.5 854.6 519C851.8 519.5 843.1 519.4 840.4 518.5C837.8 517.6 838.9 515 838.9 513.4C838.9 511.8 837.8 509.6 840.4 508.8Z" fill="#fff" stroke="#1a1a1a" stroke-width="1.3" stroke-linejoin="round" stroke-linecap="round"/>
<path d="M826.7 526.1L844 524.5L844.6 530.4L827.2 532Z" fill="#fff" stroke="#1a1a1a" stroke-width="1.3" stroke-linejoin="round"/>
<path d="M826.7 535.2L843.5 533.6L844.1 539L827.2 540.6Z" fill="#fff" stroke="#1a1a1a" stroke-width="1.3" stroke-linejoin="round"/>
<path d="M826.7 543.3L842.5 541.7L843.1 546.3L827.2 547.9Z" fill="#fff" stroke="#1a1a1a" stroke-width="1.3" stroke-linejoin="round"/>
<path d="M826.7 550.9L843.5 549.3L844.1 554.2L827.2 555.8Z" fill="#fff" stroke="#1a1a1a" stroke-width="1.3" stroke-linejoin="round"/>
<path d="M826.7 559.1L840.4 557.4L841 561.3L827.2 562.9Z" fill="#fff" stroke="#1a1a1a" stroke-width="1.3" stroke-linejoin="round"/>
<path d="M850.1 536.2L857.7 536.8" fill="none" stroke="#0c0c0c" stroke-width="2.8"/>
<path d="M850.6 543.8L859.2 544.5" fill="none" stroke="#0c0c0c" stroke-width="2.8"/>
<path d="M852.4 550.1L859.9 550.7" fill="none" stroke="#0c0c0c" stroke-width="2.8"/>
<path d="M853.6 556.2L860.7 556.8" fill="none" stroke="#0c0c0c" stroke-width="2.8"/>
<path d="M852.6 562.1L858.7 562.7" fill="none" stroke="#0c0c0c" stroke-width="2.8"/>
<path d="M848.2 587.4L850.3 587.1" fill="none" stroke="#fff" stroke-width="1.2"/>
<path d="M846.6 577.3L849.5 577" fill="none" stroke="#fff" stroke-width="1.2"/>
<path d="M849.7 581.5L852.6 581.6" fill="none" stroke="#fff" stroke-width="1.2"/>
<path d="M843 554.5L845.2 554.2" fill="none" stroke="#fff" stroke-width="1.2"/>
<path d="M861.8 555L863.5 555.4" fill="none" stroke="#fff" stroke-width="1.2"/>
<path d="M857.5 569L859.8 569.3" fill="none" stroke="#fff" stroke-width="1.2"/>
<path d="M855.4 563.4L857.6 563.8" fill="none" stroke="#fff" stroke-width="1.2"/>
<path d="M842.4 554.4L844 554.7" fill="none" stroke="#fff" stroke-width="1.2"/>
<path d="M839 572.3L841.2 572.3" fill="none" stroke="#fff" stroke-width="1.2"/>
<path d="M860.6 562.4L862.5 562.4" fill="none" stroke="#fff" stroke-width="1.2"/>
<path d="M848.1 564.2L850.6 564.2" fill="none" stroke="#fff" stroke-width="1.2"/>
<path d="M841.5 555.9L843.6 556.2" fill="none" stroke="#fff" stroke-width="1.2"/>
<path d="M858.4 558.7L860.5 558.7" fill="none" stroke="#fff" stroke-width="1.2"/>
<path d="M849.1 555.2L851 555.2" fill="none" stroke="#fff" stroke-width="1.2"/>
<path d="M858.8 582L860.7 581.8" fill="none" stroke="#fff" stroke-width="1.2"/>
<path d="M854.7 551.5L857.7 551.8" fill="none" stroke="#fff" stroke-width="1.2"/>
<path d="M860.2 553.1L863.2 552.9" fill="none" stroke="#fff" stroke-width="1.2"/>
<path d="M859.8 559.5L861.9 559.4" fill="none" stroke="#fff" stroke-width="1.2"/>
<path d="M838 555L840.7 554.9" fill="none" stroke="#fff" stroke-width="1.2"/>
<path d="M837.9 572.1L840.8 572" fill="none" stroke="#fff" stroke-width="1.2"/>
<path d="M850.5 564.9L852.5 564.9" fill="none" stroke="#fff" stroke-width="1.2"/>
<path d="M838.5 568.9L841.5 568.6" fill="none" stroke="#fff" stroke-width="1.2"/>
<path d="M859.7 559.4L862.8 559.5" fill="none" stroke="#fff" stroke-width="1.2"/>
<path d="M844.5 582.4L846.9 582" fill="none" stroke="#fff" stroke-width="1.2"/>
<path d="M853.1 568.1L855.8 568.4" fill="none" stroke="#fff" stroke-width="1.2"/>
</g>
<ellipse cx="847.7" cy="549.2" rx="21.6" ry="42.8" transform="rotate(-8 847.7 549.2)" fill="none" stroke="#1a1a1a" stroke-width="1.7"/>
<path d="M833.8 583.9C834.9 585.4 838.5 590.4 840.4 592.8C842.4 595.1 843.1 595.8 845.5 597.8C847.9 599.9 851.3 603.1 854.6 604.9C857.9 606.8 863.5 608.3 865.3 609" fill="none" stroke="#1a1a1a" stroke-width="1.4" stroke-linejoin="round" stroke-linecap="round"/>
<path d="M836.7 590.8L836.7 588.2" fill="none" stroke="#1a1a1a" stroke-width="1.3"/>
<path d="M835.5 589.6L835.5 585.1" fill="none" stroke="#1a1a1a" stroke-width="0.9"/>
<path d="M839.6 594L839.6 592" fill="none" stroke="#1a1a1a" stroke-width="1.3"/>
<path d="M838.4 592.4L838.4 589" fill="none" stroke="#1a1a1a" stroke-width="0.9"/>
<path d="M842.4 596.1L842.4 595.1" fill="none" stroke="#1a1a1a" stroke-width="1.3"/>
<path d="M841.2 595.3L841.2 592.5" fill="none" stroke="#1a1a1a" stroke-width="0.9"/>
<path d="M845.3 598.2L845.3 598" fill="none" stroke="#1a1a1a" stroke-width="1.3"/>
<path d="M844.1 597.2L844.1 595.4" fill="none" stroke="#1a1a1a" stroke-width="0.9"/>
<path d="M848.1 599.3L848.1 600.3" fill="none" stroke="#1a1a1a" stroke-width="1.3"/>
<path d="M846.9 598.9L846.9 597.9" fill="none" stroke="#1a1a1a" stroke-width="0.9"/>
<path d="M851 600L851 602.5" fill="none" stroke="#1a1a1a" stroke-width="1.3"/>
<path d="M849.8 599.8L849.8 600.2" fill="none" stroke="#1a1a1a" stroke-width="0.9"/>
<path d="M853.9 600.2L853.9 604.7" fill="none" stroke="#1a1a1a" stroke-width="1.3"/>
<path d="M852.7 600.2L852.7 602.4" fill="none" stroke="#1a1a1a" stroke-width="0.9"/>
<path d="M856.7 599.8L856.7 606.1" fill="none" stroke="#1a1a1a" stroke-width="1.3"/>
<path d="M855.5 600L855.5 604.3" fill="none" stroke="#1a1a1a" stroke-width="0.9"/>
<path d="M859.6 598.7L859.6 607.2" fill="none" stroke="#1a1a1a" stroke-width="1.3"/>
<path d="M858.4 599.4L858.4 605.3" fill="none" stroke="#1a1a1a" stroke-width="0.9"/>
<path d="M862.4 597L862.4 608.3" fill="none" stroke="#1a1a1a" stroke-width="1.3"/>
<path d="M861.2 597.9L861.2 606.4" fill="none" stroke="#1a1a1a" stroke-width="0.9"/>
<path d="M865.3 594.5L865.3 609.4" fill="none" stroke="#1a1a1a" stroke-width="1.3"/>
<path d="M865.3 609L866.1 589.5" fill="none" stroke="#1a1a1a" stroke-width="1.5"/>
<path d="M820.6 539L818.4 537" fill="none" stroke="#1a1a1a" stroke-width="1.3"/>
<path d="M818.4 537L820.4 530.7" fill="none" stroke="#1a1a1a" stroke-width="1.2"/>
<path d="M821 531.5L818.8 529.5" fill="none" stroke="#1a1a1a" stroke-width="1.3"/>
<path d="M818.8 529.5L821.5 523.6" fill="none" stroke="#1a1a1a" stroke-width="1.2"/>
<path d="M822.1 524.4L819.9 522.4" fill="none" stroke="#1a1a1a" stroke-width="1.3"/>
<path d="M819.9 522.4L823.2 517.1" fill="none" stroke="#1a1a1a" stroke-width="1.2"/>
<path d="M823.8 517.9L821.6 515.9" fill="none" stroke="#1a1a1a" stroke-width="1.3"/>
<path d="M821.6 515.9L825.4 511.3" fill="none" stroke="#1a1a1a" stroke-width="1.2"/>
<path d="M826 512.1L823.8 510.1" fill="none" stroke="#1a1a1a" stroke-width="1.3"/>
<path d="M823.8 510.1L828.2 506.4" fill="none" stroke="#1a1a1a" stroke-width="1.2"/>
<path d="M828.8 507.2L826.6 505.2" fill="none" stroke="#1a1a1a" stroke-width="1.3"/>
<path d="M826.6 505.2L831.5 502.6" fill="none" stroke="#1a1a1a" stroke-width="1.2"/>
<path d="M832.1 503.4L829.9 501.4" fill="none" stroke="#1a1a1a" stroke-width="1.3"/>
<path d="M829.9 501.4L835.1 499.8" fill="none" stroke="#1a1a1a" stroke-width="1.2"/>
<path d="M835.7 500.6L833.5 498.6" fill="none" stroke="#1a1a1a" stroke-width="1.3"/>
<path d="M837.4 461.3L851.1 458.8L895.9 456.4L923.7 471.1L922.7 473L867.5 482.8L837.4 463.5Z" fill="#fff" stroke="#1a1a1a" stroke-width="1.5" stroke-linejoin="round"/>
<path d="M846.7 463.5L891.5 459.2L913.4 470.6L869.6 478.5Z" fill="none" stroke="#1a1a1a" stroke-width="1.3" stroke-linejoin="round"/>
<path d="M837.4 461.3L867.5 480.7L923.7 471.1" fill="none" stroke="#1a1a1a" stroke-width="1.2" stroke-linejoin="round"/>
<path d="M832 430.7L839.1 426.9L884.5 420.9L907.4 427.4L915.1 432.9L917.3 444.9L920 446.6L919.5 451.5L916.2 452.6L868.1 463.5L861.5 463.5L835.3 447.7L834.2 438.4Z" fill="#fff" stroke="#1a1a1a" stroke-width="1.7" stroke-linejoin="round"/>
<path d="M834 432L861.5 444L914.2 435.3" fill="none" stroke="#1a1a1a" stroke-width="1.4" stroke-linejoin="round"/>
<path d="M837.5 430.9L862.6 441.9L911.8 433.8" fill="none" stroke="#1a1a1a" stroke-width="1" stroke-linejoin="round"/>
<path d="M861.5 444L861.5 463.5" fill="none" stroke="#1a1a1a" stroke-width="1.3"/>
<path d="M860.7 445.5L868.1 444.4L868.3 462.2L861.1 463.3" fill="none" stroke="#1a1a1a" stroke-width="1.3" stroke-linejoin="round"/>
<path d="M857.2 434L876.8 431.3" fill="none" stroke="#1a1a1a" stroke-width="1"/>
<path d="M872.5 438.9L881.2 437.8" fill="none" stroke="#1a1a1a" stroke-width="1.8"/>
<path d="M906.3 432.9L907.4 428.5L912.9 429.6L914 435.1" fill="none" stroke="#1a1a1a" stroke-width="1.3" stroke-linejoin="round"/>
<path d="M914.2 435.3L914.9 452.6" fill="none" stroke="#1a1a1a" stroke-width="1.3"/>
<ellipse cx="918.9" cy="449.1" rx="1.6" ry="3.2" fill="none" stroke="#1a1a1a" stroke-width="1.5"/>
<path d="M886.7 424.2C886.8 425.2 885.9 428.7 887.5 430.7C889.2 432.7 893.4 435 896.5 436.2C899.6 437.3 904.7 437.3 906.3 437.5" fill="none" stroke="#1a1a1a" stroke-width="1.4" stroke-linejoin="round" stroke-linecap="round"/>
<path d="M891 428.3C891.4 429.1 891.6 431.6 893.2 432.9C894.9 434.2 899.6 435.4 900.9 436" fill="none" stroke="#1a1a1a" stroke-width="1.3" stroke-linejoin="round" stroke-linecap="round"/>
<path d="M886.7 407.8L918.4 403.2L917.1 403.3L918.8 403.2L920.4 403.6L922 404.3L923.5 405.4L924.8 406.8L925.9 408.5L926.7 410.4L927.2 412.4L927.4 414.6L927.2 416.6L926.8 418.6L926 420.4L925 422L923.7 423.2L922.3 424.1L920.7 424.6L891 428.5L890 428.5L888.9 428.5L887.7 428.2L886.6 427.4L885.6 426.3L884.7 424.8L883.9 423.2L883.2 421.3L882.8 419.3L882.6 417.2L882.6 415.2L882.8 413.3L883.3 411.6L883.9 410.2L884.7 409L885.6 408.2L886.7 407.8Z" fill="#fff" stroke="#1a1a1a" stroke-width="1.7" stroke-linejoin="round"/>
<ellipse cx="888.3" cy="418.1" rx="5.6" ry="10.5" transform="rotate(-8 888.3 418.1)" fill="#fff" stroke="#1a1a1a" stroke-width="1.5"/>
<path d="M888.9 413L882.8 413.9L883.1 415.8L889.1 415.2" fill="#fff" stroke="#1a1a1a" stroke-width="1.3" stroke-linejoin="round"/>
<path d="M889.9 420.7L884.5 421.5L884.7 423.5L890.4 422.8" fill="#fff" stroke="#1a1a1a" stroke-width="1.3" stroke-linejoin="round"/>
<path d="M834.2 381.5L838.6 377.2L887.8 370.6L911.8 383.7L913.8 387L913.4 395.2L867 401.7L834.8 385.9Z" fill="#fff" stroke="#1a1a1a" stroke-width="1.7" stroke-linejoin="round"/>
<path d="M834.8 382.4L867 397.6L913.1 391.4" fill="none" stroke="#1a1a1a" stroke-width="1.3" stroke-linejoin="round"/>
<path d="M838.8 378C843 380.4 859.2 389.3 863.7 392.5C868.2 395.6 865.5 396.1 865.9 396.8" fill="none" stroke="#1a1a1a" stroke-width="1.3" stroke-linejoin="round" stroke-linecap="round"/>
<path d="M863.7 392.5C867.4 391.7 877.9 389.5 885.6 388.1C893.2 386.6 905.4 383.2 909.6 383.7C913.8 384.2 910.7 389.9 910.9 391.1" fill="none" stroke="#1a1a1a" stroke-width="1.3" stroke-linejoin="round" stroke-linecap="round"/>
<path d="M900.9 378.3C901.8 378.7 904.8 379.5 906.3 381C907.9 382.4 909.5 386 910.2 387" fill="none" stroke="#1a1a1a" stroke-width="1.2" stroke-linejoin="round" stroke-linecap="round"/>
<path d="M874.6 378.8L879.6 379.9" fill="none" stroke="#1a1a1a" stroke-width="1.5"/>
<path d="M911.3 387L913.8 387L913.8 390.5L911.6 390.9" fill="none" stroke="#1a1a1a" stroke-width="1.3" stroke-linejoin="round"/>
<path d="M838 359.7L838 369.5" fill="none" stroke="#1a1a1a" stroke-width="1.9"/>
<path d="M836.3 359.9L839.8 359.5" fill="none" stroke="#1a1a1a" stroke-width="2"/>
<path d="M888.6 356.9L888.6 366.8" fill="none" stroke="#1a1a1a" stroke-width="1.9"/>
<path d="M886.9 357.2L890.4 356.7" fill="none" stroke="#1a1a1a" stroke-width="2"/>
<path d="M911.3 369.5L911.3 379.3" fill="none" stroke="#1a1a1a" stroke-width="1.9"/>
<path d="M909.5 369.7L913 369.3" fill="none" stroke="#1a1a1a" stroke-width="2"/>
<path d="M867 375.5L867 385.4" fill="none" stroke="#1a1a1a" stroke-width="1.9"/>
<path d="M865.2 375.7L868.7 375.3" fill="none" stroke="#1a1a1a" stroke-width="2"/>
<path d="M894.3 627.4L974.6 608.3" fill="none" stroke="#2a2a2a" stroke-width="2.6"/>
<ellipse cx="884.5" cy="630.2" rx="3" ry="3.7" transform="rotate(-15 884.5 630.2)" fill="#888" stroke="#1a1a1a" stroke-width="1.9"/>
<ellipse cx="891" cy="628.8" rx="2.6" ry="3.5" transform="rotate(-15 891 628.8)" fill="#aaa" stroke="#1a1a1a" stroke-width="1.9"/>
<ellipse cx="977.2" cy="608" rx="2.6" ry="3.5" transform="rotate(-15 977.2 608)" fill="#777" stroke="#1a1a1a" stroke-width="1.9"/>
<path d="M975.8 502.2C977.3 502.2 980.6 503.1 982.1 505C983.6 506.8 984.9 510.1 984.9 513.4C985 516.7 983.7 521.4 982.5 524.6C981.4 527.9 979.6 531.9 978 533.1C976.5 534.2 974.4 533.3 973 531.7C971.6 530 969.7 526.3 969.5 523.2C969.2 520.2 971 516.4 971.6 513.4C972.2 510.3 972.3 506.8 973 505C973.7 503.1 974.3 502.2 975.8 502.2Z" fill="#fff" stroke="#1a1a1a" stroke-width="1.5" stroke-linejoin="round" stroke-linecap="round"/>
<path d="M976.5 504.7C977.5 504.8 979.7 505.5 980.7 507.1C981.7 508.6 982.6 511.4 982.5 514.1C982.5 516.8 981.2 520.8 980.3 523.5C979.4 526.2 978.2 529.3 977.2 530.3C976.2 531.2 975 530.3 974.1 529.1C973.2 527.9 971.9 525.5 971.9 522.9C971.8 520.4 973.4 516.8 973.8 514.1C974.3 511.4 974.2 508.2 974.7 506.6C975.1 505.1 975.5 504.6 976.5 504.7Z" fill="none" stroke="#1a1a1a" stroke-width="1.3" stroke-linejoin="round" stroke-linecap="round"/>
<!-- p_rear -->
<path d="M1004.5 460.3C1007.6 461.1 1015.6 459.6 1020.9 460.8C1026.2 461.9 1031.5 463.5 1036.2 467.3C1040.9 471.1 1045.9 477.3 1049.3 483.7C1052.7 490.1 1055.1 499.2 1056.4 505.6C1057.7 511.9 1058 516.1 1057.2 522C1056.4 527.8 1053.9 535.6 1051.5 540.5C1049.1 545.5 1044.9 549.3 1042.8 551.5C1040.6 553.7 1039.2 552.4 1038.6 553.9C1038 555.3 1039.7 558.4 1038.9 560.2C1038.2 562 1036 563.7 1034 564.6C1032 565.5 1028.6 566.5 1026.9 565.7C1025.3 564.9 1025.2 560.9 1024.2 559.7C1023.2 558.5 1022.9 559 1020.9 558.6C1018.9 558.1 1015.3 559 1012.2 556.9C1009.1 554.8 1005.8 551.8 1002.3 546C998.9 540.2 993.9 530.5 991.4 522C988.9 513.4 987.6 502.8 987.6 494.6C987.6 486.4 990.8 477.3 991.4 472.8C992 468.2 991.2 469.5 991.4 467.3C991.6 465.1 991.6 461.5 992.5 459.7C993.4 457.9 995.2 457 996.9 456.4C998.5 455.8 1001 455.5 1002.3 456.2C1003.6 456.8 1001.4 459.6 1004.5 460.3Z" fill="#fff" stroke="#1a1a1a" stroke-width="1.8" stroke-linejoin="round" stroke-linecap="round"/>
<path d="M1018.7 461.9C1020.9 464 1028.2 469.5 1031.8 475C1035.5 480.4 1038.6 487.7 1040.6 494.6C1042.5 501.6 1043.4 509.2 1043.4 516.5C1043.5 523.8 1042 532.7 1040.8 538.4C1039.6 544 1037 548.4 1036.2 550.4" fill="none" stroke="#1a1a1a" stroke-width="1.3" stroke-linejoin="round" stroke-linecap="round"/>
<path d="M1044.9 483.7C1046 487.4 1050.4 498.3 1051.5 505.6C1052.6 512.9 1052.4 521.4 1051.5 527.4C1050.6 533.4 1046.9 539.3 1046 541.6" fill="none" stroke="#1a1a1a" stroke-width="1" stroke-linejoin="round" stroke-linecap="round"/>
<ellipse cx="1011.6" cy="509.9" rx="22.6" ry="49.4" transform="rotate(-9 1011.6 509.9)" fill="#fff" stroke="#1a1a1a" stroke-width="1.9"/>
<ellipse cx="1012.4" cy="509.9" rx="20.4" ry="46.6" transform="rotate(-9 1012.4 509.9)" fill="none" stroke="#1a1a1a" stroke-width="1.3"/>
<ellipse cx="995.5" cy="461.9" rx="1.4" ry="2" fill="none" stroke="#1a1a1a" stroke-width="1.2"/>
<ellipse cx="1028.8" cy="560" rx="1.4" ry="2.2" fill="none" stroke="#1a1a1a" stroke-width="1.2"/>
<path d="M992.5 467.3C993.2 466.5 995 463.5 996.9 462.4C998.7 461.3 1002.5 461.2 1003.6 461" fill="none" stroke="#1a1a1a" stroke-width="1.3" stroke-linejoin="round" stroke-linecap="round"/>
<path d="M1016.5 491.1L1026.4 488.1L1031.8 494.6L1034 509.9L1031.8 525.5L1019.8 527.7" fill="#fff" stroke="#1a1a1a" stroke-width="1.4" stroke-linejoin="round"/>
<ellipse cx="1017.4" cy="509.9" rx="8.2" ry="16.6" transform="rotate(-8 1017.4 509.9)" fill="#fff" stroke="#1a1a1a" stroke-width="1.7"/>
<ellipse cx="1018.4" cy="510.5" rx="5.6" ry="12.6" transform="rotate(-8 1018.4 510.5)" fill="none" stroke="#1a1a1a" stroke-width="1.5"/>
<path d="M1021.7 522.5L1021.3 522.3L1020.9 522L1020.6 521.7L1020.3 521.3L1019.9 520.9L1019.6 520.5L1019.3 520L1019 519.5L1018.7 518.9L1018.4 518.3L1018.1 517.7L1017.8 517.1L1017.6 516.4L1017.4 515.7L1017.1 515L1016.9 514.3L1016.8 513.6L1016.6 512.8L1016.5 512.1L1016.4 511.3L1016.3 510.6L1016.2 509.8L1016.1 509L1016.1 508.3L1016.1 507.5L1016.1 506.8L1016.1 506.1L1016.2 505.4L1016.3 504.7L1016.4 504L1016.5 503.4L1016.6 502.8L1016.8 502.2L1016.9 501.6L1017.1 501.1L1017.3 500.6L1017.6 500.2L1017.8 499.8L1018.1 499.4L1018.4 499.1" fill="none" stroke="#1a1a1a" stroke-width="1.2"/>
<path d="M1023.1 501.2L1029.6 499.6L1030.2 520.9L1024.2 523.1" fill="none" stroke="#1a1a1a" stroke-width="1.2" stroke-linejoin="round"/>
<path d="M1025.3 480.7L1037.3 478.3L1040.8 483.7L1040.6 492.7L1034.9 494.6L1029.6 491.4Z" fill="#fff" stroke="#1a1a1a" stroke-width="1.4" stroke-linejoin="round"/>
<path d="M1026.4 482.1L1029.6 491.4" fill="none" stroke="#1a1a1a" stroke-width="1.2" stroke-linejoin="round"/>
<path d="M1008.3 482.1L1015.7 471.7" fill="none" stroke="#1a1a1a" stroke-width="1.3" stroke-linejoin="round"/>
<path d="M1008.3 482.1L1015.7 489.4" fill="none" stroke="#1a1a1a" stroke-width="1.3" stroke-linejoin="round"/>
<path d="M1019.8 529.6C1020.5 531.1 1022.2 536.2 1024.2 538.4C1026.2 540.5 1030.6 542 1031.8 542.7" fill="none" stroke="#1a1a1a" stroke-width="1.2" stroke-linejoin="round" stroke-linecap="round"/>
<path d="M1073.8 486.5L1079.4 485.7L1080.4 485.5L1081.4 485.6L1082.3 485.9L1083.3 486.4L1084.2 487.2L1085.1 488.1L1085.9 489.3L1086.5 490.6L1087.1 492L1087.5 493.5L1087.8 495L1087.9 496.6L1087.9 498.1L1087.7 499.5L1087.4 500.9L1086.9 502.1L1086.3 503.2L1085.6 504L1084.8 504.7L1083.9 505.1L1078.4 506.1L1078.4 506.1L1077.4 506.3L1076.5 506.2L1075.5 505.9L1074.5 505.4L1073.6 504.6L1072.7 503.6L1071.9 502.5L1071.2 501.1L1070.7 499.7L1070.3 498.2L1070 496.6L1069.8 495.1L1069.9 493.5L1070 492.1L1070.4 490.7L1070.8 489.5L1071.4 488.4L1072.1 487.5L1072.9 486.9L1073.8 486.5Z" fill="#fff" stroke="#1a1a1a" stroke-width="1.7" stroke-linejoin="round"/>
<ellipse cx="1076.1" cy="496.3" rx="6.1" ry="10.1" transform="rotate(-10 1076.1 496.3)" fill="#fff" stroke="#1a1a1a" stroke-width="1.7"/>
<ellipse cx="1076.6" cy="496.3" rx="4.3" ry="8" transform="rotate(-10 1076.6 496.3)" fill="none" stroke="#1a1a1a" stroke-width="1.3"/>
<path d="M1078.7 488L1079 488.1L1079.3 488.2L1079.6 488.3L1079.9 488.5L1080.2 488.7L1080.5 488.9L1080.8 489.2L1081.1 489.5L1081.4 489.9L1081.6 490.2L1081.9 490.6L1082.1 491.1L1082.4 491.5L1082.6 492L1082.8 492.5L1083 493L1083.1 493.5L1083.3 494L1083.4 494.6L1083.5 495.1L1083.6 495.7L1083.7 496.2L1083.7 496.8L1083.7 497.3L1083.7 497.9L1083.7 498.4L1083.7 498.9L1083.6 499.4L1083.5 499.9L1083.4 500.4L1083.3 500.8L1083.2 501.2L1083 501.6L1082.8 502L1082.6 502.3L1082.4 502.6L1082.2 502.9L1081.9 503.1L1081.7 503.3L1081.4 503.5" fill="none" stroke="#1a1a1a" stroke-width="1"/>
<path d="M1115 434.4L1120.2 433.4L1132.2 440L1133 449.2L1118.1 445.7Z" fill="#fff" stroke="#1a1a1a" stroke-width="1.5" stroke-linejoin="round"/>
<path d="M1134.3 445L1139.2 442.9L1148.5 448.5L1146.2 456.2L1139.2 460.4L1132.2 450.6Z" fill="#fff" stroke="#1a1a1a" stroke-width="1.5" stroke-linejoin="round"/>
<path d="M1100.5 445.7L1108.3 444.7L1111.1 447.2L1104.8 452.3Z" fill="#fff" stroke="#1a1a1a" stroke-width="1.5" stroke-linejoin="round"/>
<path d="M1144.8 473.1L1151.8 470.3L1160.3 469.6L1159.7 473.1L1151.8 475.9L1146.2 476.7Z" fill="#fff" stroke="#1a1a1a" stroke-width="1.5" stroke-linejoin="round"/>
<path d="M1149 495.5L1158.8 494.8L1164.8 498.4L1158.8 505.4L1150.4 506.2L1148.3 503.3Z" fill="#fff" stroke="#1a1a1a" stroke-width="1.5" stroke-linejoin="round"/>
<path d="M1146.9 512.4L1151.8 511L1157.7 520.8L1149 530.7L1144.8 531L1141.3 523.6Z" fill="#fff" stroke="#1a1a1a" stroke-width="1.5" stroke-linejoin="round"/>
<path d="M1127.9 528.6L1141.3 525.1L1143.4 529.3L1132.2 537L1128.6 538Z" fill="#fff" stroke="#1a1a1a" stroke-width="1.5" stroke-linejoin="round"/>
<path d="M1111.1 525.1L1114.6 519.4L1118.1 523.6L1112.5 525.9Z" fill="#fff" stroke="#1a1a1a" stroke-width="1.5" stroke-linejoin="round"/>
<path d="M1094.9 469.6L1099.8 468.8L1100.7 471.9" fill="none" stroke="#1a1a1a" stroke-width="1.8" stroke-linejoin="round"/>
<path d="M1099.1 498.6L1103.5 497.2" fill="none" stroke="#1a1a1a" stroke-width="2" stroke-linejoin="round"/>
<path d="M1145.5 475.2L1158.8 471.4" fill="none" stroke="#1a1a1a" stroke-width="1.2"/>
<ellipse cx="1126" cy="486.4" rx="23.4" ry="41.5" transform="rotate(-8 1126 486.4)" fill="#fff" stroke="#1a1a1a" stroke-width="1.5"/>
<ellipse cx="1124.4" cy="486.4" rx="23.4" ry="41.5" transform="rotate(-8 1124.4 486.4)" fill="#fff" stroke="#1a1a1a" stroke-width="1.8"/>
<ellipse cx="1124.4" cy="485.8" rx="15" ry="26.4" transform="rotate(-8 1124.4 485.8)" fill="none" stroke="#1a1a1a" stroke-width="1.3"/>
<ellipse cx="1124.4" cy="485.8" rx="13.2" ry="23.4" transform="rotate(-8 1124.4 485.8)" fill="none" stroke="#1a1a1a" stroke-width="1.3"/>
<ellipse cx="1124.4" cy="485.8" rx="6.4" ry="10.8" transform="rotate(-8 1124.4 485.8)" fill="none" stroke="#1a1a1a" stroke-width="1.4"/>
<ellipse cx="1124.4" cy="485.8" rx="4.2" ry="7.2" transform="rotate(-8 1124.4 485.8)" fill="none" stroke="#1a1a1a" stroke-width="1.4"/>
<ellipse cx="1124.4" cy="485.8" rx="2.2" ry="4.2" transform="rotate(-8 1124.4 485.8)" fill="#888" stroke="#1a1a1a" stroke-width="2"/>
<path d="M1192.6 415.2C1196 415.1 1198.4 414.9 1202.4 415.2C1206.4 415.5 1211.5 415.4 1216.5 416.9C1221.4 418.3 1227.5 420.1 1231.9 423.9C1236.4 427.6 1240.2 433.5 1243.2 439.3C1246.1 445.2 1248.3 452.5 1249.5 459C1250.7 465.6 1250.9 473.1 1250.3 478.7C1249.7 484.3 1247.9 489 1246 492.7C1244.1 496.5 1242 498.4 1238.9 501.2C1235.9 504 1231.9 507.4 1227.7 509.6C1223.5 511.8 1218.8 512.5 1213.6 514.1C1208.5 515.7 1198.5 518.9 1196.8 519.4C1195.1 520 1202.9 517.4 1203.5 517.3C1204 517.1 1201.3 518.2 1200.2 518.5C1199.1 518.8 1197.9 519 1196.8 519.1C1195.7 519.2 1194.5 519.2 1193.3 519C1192.2 518.9 1191 518.7 1189.8 518.4C1188.6 518 1187.4 517.6 1186.3 517.1C1185.1 516.5 1184 515.9 1182.8 515.2C1181.7 514.4 1180.5 513.6 1179.4 512.7C1178.3 511.7 1177.2 510.7 1176.2 509.6C1175.1 508.5 1174.1 507.3 1173.1 506C1172.1 504.8 1171.1 503.4 1170.2 502C1169.3 500.6 1168.4 499.1 1167.6 497.5C1166.8 496 1166 494.3 1165.2 492.7C1164.5 491 1163.8 489.3 1163.2 487.5C1162.5 485.8 1162 484 1161.4 482.1C1160.9 480.3 1160.5 478.4 1160.1 476.5C1159.7 474.7 1159.3 472.7 1159 470.8C1158.8 468.9 1158.6 467 1158.4 465.1C1158.3 463.2 1158.2 461.3 1158.2 459.4C1158.1 457.5 1158.2 455.6 1158.3 453.8C1158.4 451.9 1158.6 450.1 1158.8 448.3C1159.1 446.5 1159.4 444.8 1159.7 443.1C1160.1 441.4 1160.5 439.7 1161 438.1C1161.5 436.5 1162 435 1162.6 433.6C1163.2 432.1 1163.9 430.7 1164.6 429.4C1165.3 428.1 1166.1 426.8 1166.9 425.7C1167.7 424.5 1168.6 423.5 1169.4 422.5C1170.3 421.5 1171.3 420.6 1172.3 419.8C1173.2 419 1174.2 418.3 1175.3 417.7C1176.3 417.1 1177.4 416.7 1178.5 416.3C1179.6 415.9 1179.5 415.6 1181.8 415.4C1184.2 415.2 1189.1 415.2 1192.6 415.2Z" fill="#fff" stroke="#1a1a1a" stroke-width="1.8" stroke-linejoin="round" stroke-linecap="round"/>
<clipPath id="gr"><path d="M1184.6 415.2L1187.6 415.4L1190.7 416.1L1193.7 417.2L1196.7 418.8L1199.7 420.9L1202.6 423.4L1205.3 426.3L1207.9 429.5L1210.4 433.1L1212.6 437.1L1214.7 441.3L1216.5 445.7L1218.1 450.3L1219.4 455.1L1220.5 460L1221.2 465L1221.7 470L1221.9 474.9L1221.8 479.8L1221.4 484.6L1220.8 489.2L1219.8 493.6L1218.6 497.8L1217.1 501.7L1215.3 505.3L1213.3 508.5L1211.1 511.3L1208.7 513.7L1206.2 515.7L1203.5 517.3L1213.6 501.2L1201 489.9L1194.7 470.3L1195.4 449.2L1202.4 432.3Z"/></clipPath>
<path d="M1202.4 432.3C1201.2 435.1 1196.7 442.9 1195.4 449.2C1194.1 455.5 1193.7 463.5 1194.7 470.3C1195.6 477 1197.8 484.7 1201 489.9C1204.2 495.1 1211.5 499.5 1213.6 501.4" fill="none" stroke="#1a1a1a" stroke-width="1.2" stroke-linejoin="round" stroke-linecap="round"/>
<g clip-path="url(#gr)">
<ellipse cx="1203.1" cy="440.7" rx="1.5" ry="2.1" transform="rotate(-10 1203.1 440.7)" fill="none" stroke="#333" stroke-width="1"/>
<ellipse cx="1207.3" cy="440.7" rx="1.5" ry="2.1" transform="rotate(-10 1207.3 440.7)" fill="none" stroke="#333" stroke-width="1"/>
<ellipse cx="1211.5" cy="440.7" rx="1.5" ry="2.1" transform="rotate(-10 1211.5 440.7)" fill="none" stroke="#333" stroke-width="1"/>
<ellipse cx="1205.8" cy="445.5" rx="1.5" ry="2.1" transform="rotate(-10 1205.8 445.5)" fill="none" stroke="#333" stroke-width="1"/>
<ellipse cx="1210" cy="445.5" rx="1.5" ry="2.1" transform="rotate(-10 1210 445.5)" fill="none" stroke="#333" stroke-width="1"/>
<ellipse cx="1214.2" cy="445.5" rx="1.5" ry="2.1" transform="rotate(-10 1214.2 445.5)" fill="none" stroke="#333" stroke-width="1"/>
<ellipse cx="1200.3" cy="450.3" rx="1.5" ry="2.1" transform="rotate(-10 1200.3 450.3)" fill="none" stroke="#333" stroke-width="1"/>
<ellipse cx="1204.5" cy="450.3" rx="1.5" ry="2.1" transform="rotate(-10 1204.5 450.3)" fill="none" stroke="#333" stroke-width="1"/>
<ellipse cx="1208.7" cy="450.3" rx="1.5" ry="2.1" transform="rotate(-10 1208.7 450.3)" fill="none" stroke="#333" stroke-width="1"/>
<ellipse cx="1212.9" cy="450.3" rx="1.5" ry="2.1" transform="rotate(-10 1212.9 450.3)" fill="none" stroke="#333" stroke-width="1"/>
<ellipse cx="1203" cy="455.1" rx="1.5" ry="2.1" transform="rotate(-10 1203 455.1)" fill="none" stroke="#333" stroke-width="1"/>
<ellipse cx="1207.2" cy="455.1" rx="1.5" ry="2.1" transform="rotate(-10 1207.2 455.1)" fill="none" stroke="#333" stroke-width="1"/>
<ellipse cx="1211.4" cy="455.1" rx="1.5" ry="2.1" transform="rotate(-10 1211.4 455.1)" fill="none" stroke="#333" stroke-width="1"/>
<ellipse cx="1215.6" cy="455.1" rx="1.5" ry="2.1" transform="rotate(-10 1215.6 455.1)" fill="none" stroke="#333" stroke-width="1"/>
<ellipse cx="1201.7" cy="459.9" rx="1.5" ry="2.1" transform="rotate(-10 1201.7 459.9)" fill="none" stroke="#333" stroke-width="1"/>
<ellipse cx="1205.9" cy="459.9" rx="1.5" ry="2.1" transform="rotate(-10 1205.9 459.9)" fill="none" stroke="#333" stroke-width="1"/>
<ellipse cx="1210.1" cy="459.9" rx="1.5" ry="2.1" transform="rotate(-10 1210.1 459.9)" fill="none" stroke="#333" stroke-width="1"/>
<ellipse cx="1214.4" cy="459.9" rx="1.5" ry="2.1" transform="rotate(-10 1214.4 459.9)" fill="none" stroke="#333" stroke-width="1"/>
<ellipse cx="1204.4" cy="464.6" rx="1.5" ry="2.1" transform="rotate(-10 1204.4 464.6)" fill="none" stroke="#333" stroke-width="1"/>
<ellipse cx="1208.6" cy="464.6" rx="1.5" ry="2.1" transform="rotate(-10 1208.6 464.6)" fill="none" stroke="#333" stroke-width="1"/>
<ellipse cx="1212.8" cy="464.6" rx="1.5" ry="2.1" transform="rotate(-10 1212.8 464.6)" fill="none" stroke="#333" stroke-width="1"/>
<ellipse cx="1217" cy="464.6" rx="1.5" ry="2.1" transform="rotate(-10 1217 464.6)" fill="none" stroke="#333" stroke-width="1"/>
<ellipse cx="1203.1" cy="469.4" rx="1.5" ry="2.1" transform="rotate(-10 1203.1 469.4)" fill="none" stroke="#333" stroke-width="1"/>
<ellipse cx="1207.3" cy="469.4" rx="1.5" ry="2.1" transform="rotate(-10 1207.3 469.4)" fill="none" stroke="#333" stroke-width="1"/>
<ellipse cx="1211.5" cy="469.4" rx="1.5" ry="2.1" transform="rotate(-10 1211.5 469.4)" fill="none" stroke="#333" stroke-width="1"/>
<ellipse cx="1215.8" cy="469.4" rx="1.5" ry="2.1" transform="rotate(-10 1215.8 469.4)" fill="none" stroke="#333" stroke-width="1"/>
<ellipse cx="1205.8" cy="474.2" rx="1.5" ry="2.1" transform="rotate(-10 1205.8 474.2)" fill="none" stroke="#333" stroke-width="1"/>
<ellipse cx="1210" cy="474.2" rx="1.5" ry="2.1" transform="rotate(-10 1210 474.2)" fill="none" stroke="#333" stroke-width="1"/>
<ellipse cx="1214.2" cy="474.2" rx="1.5" ry="2.1" transform="rotate(-10 1214.2 474.2)" fill="none" stroke="#333" stroke-width="1"/>
<ellipse cx="1218.4" cy="474.2" rx="1.5" ry="2.1" transform="rotate(-10 1218.4 474.2)" fill="none" stroke="#333" stroke-width="1"/>
<ellipse cx="1204.5" cy="479" rx="1.5" ry="2.1" transform="rotate(-10 1204.5 479)" fill="none" stroke="#333" stroke-width="1"/>
<ellipse cx="1208.7" cy="479" rx="1.5" ry="2.1" transform="rotate(-10 1208.7 479)" fill="none" stroke="#333" stroke-width="1"/>
<ellipse cx="1212.9" cy="479" rx="1.5" ry="2.1" transform="rotate(-10 1212.9 479)" fill="none" stroke="#333" stroke-width="1"/>
<ellipse cx="1217.2" cy="479" rx="1.5" ry="2.1" transform="rotate(-10 1217.2 479)" fill="none" stroke="#333" stroke-width="1"/>
<ellipse cx="1207.2" cy="483.7" rx="1.5" ry="2.1" transform="rotate(-10 1207.2 483.7)" fill="none" stroke="#333" stroke-width="1"/>
<ellipse cx="1211.4" cy="483.7" rx="1.5" ry="2.1" transform="rotate(-10 1211.4 483.7)" fill="none" stroke="#333" stroke-width="1"/>
<ellipse cx="1215.6" cy="483.7" rx="1.5" ry="2.1" transform="rotate(-10 1215.6 483.7)" fill="none" stroke="#333" stroke-width="1"/>
<ellipse cx="1219.8" cy="483.7" rx="1.5" ry="2.1" transform="rotate(-10 1219.8 483.7)" fill="none" stroke="#333" stroke-width="1"/>
<ellipse cx="1210.1" cy="488.5" rx="1.5" ry="2.1" transform="rotate(-10 1210.1 488.5)" fill="none" stroke="#333" stroke-width="1"/>
<ellipse cx="1214.4" cy="488.5" rx="1.5" ry="2.1" transform="rotate(-10 1214.4 488.5)" fill="none" stroke="#333" stroke-width="1"/>
<ellipse cx="1218.6" cy="488.5" rx="1.5" ry="2.1" transform="rotate(-10 1218.6 488.5)" fill="none" stroke="#333" stroke-width="1"/>
</g>
<ellipse cx="1190" cy="467.2" rx="31.2" ry="52.4" transform="rotate(-9 1190 467.2)" fill="none" stroke="#1a1a1a" stroke-width="2"/>
<path d="M1189.1 415.3L1191.3 415.7L1193.4 416.4L1195.6 417.3L1197.7 418.3L1199.8 419.7L1201.9 421.2L1203.9 423L1205.9 424.9L1207.8 427L1209.6 429.4L1211.4 431.9L1213 434.5L1214.6 437.3L1216 440.3L1217.4 443.4L1218.6 446.5L1219.7 449.8L1220.7 453.2L1221.6 456.6L1222.3 460L1222.8 463.5L1223.3 467L1223.6 470.6L1223.7 474L1223.7 477.5L1223.6 480.9L1223.3 484.3L1222.8 487.6L1222.3 490.8L1221.5 493.8L1220.7 496.8L1219.7 499.6L1218.6 502.3L1217.4 504.8L1216 507.1L1214.5 509.3L1213 511.2L1211.3 513L1209.6 514.6L1207.7 515.9" fill="none" stroke="#1a1a1a" stroke-width="1.2"/>
<ellipse cx="1213.4" cy="430.6" rx="1.3" ry="1.9" fill="#fff" stroke="#1a1a1a" stroke-width="1.3"/>
<path d="M1216.5 428.1L1231.4 417.1" fill="none" stroke="#333" stroke-width="1.9"/>
<path d="M1232.8 419.1L1229.9 415.2L1229.3 418.7Z" fill="#333" stroke="#1a1a1a" stroke-width="1" stroke-linejoin="round"/>
<ellipse cx="1224.6" cy="489.4" rx="1.3" ry="1.9" fill="#fff" stroke="#1a1a1a" stroke-width="1.3"/>
<path d="M1228.4 491L1245.7 495.5" fill="none" stroke="#333" stroke-width="1.9"/>
<path d="M1245.1 497.9L1246.3 493.2L1243.2 494.9Z" fill="#333" stroke="#1a1a1a" stroke-width="1" stroke-linejoin="round"/>
<!-- p_wet -->
<ellipse cx="474" cy="818.9" rx="9.3" ry="17.9" transform="rotate(-10 474 818.9)" fill="#fff" stroke="#1a1a1a" stroke-width="2"/>
<ellipse cx="474.2" cy="818.9" rx="7.9" ry="16.3" transform="rotate(-10 474.2 818.9)" fill="none" stroke="#1a1a1a" stroke-width="1.7"/>
<path d="M510 748.7C514.5 746.9 520.8 747.3 525 747.7C529.1 748.2 531.2 747.3 534.9 751.2C538.7 755.2 543.7 763.7 547.4 771.2C551.2 778.7 555.3 787.9 557.4 796.2C559.6 804.5 560.3 812.9 560.2 821.2C560 829.5 558.1 839.9 556.4 846.2C554.7 852.4 553.5 854.9 549.9 858.7C546.4 862.4 540.1 866.9 534.9 868.7C529.7 870.4 522 870 518.7 869.4C515.4 868.8 517.7 869.8 515 864.9C512.3 860 506 848.3 502.5 839.9C498.9 831.6 495.2 824.3 493.7 814.9C492.2 805.6 492.9 793.1 493.5 783.7C494.1 774.3 494.7 764.6 497.5 758.7C500.2 752.9 505.4 750.6 510 748.7Z" fill="#fff" stroke="#1a1a1a" stroke-width="1.9" stroke-linejoin="round" stroke-linecap="round"/>
<path d="M527.4 751.2C529.7 754.8 537.1 765 541.2 772.5C545.2 780 549.5 788.1 551.8 796.2C554.1 804.3 554.9 813.1 554.9 821.2C554.9 829.3 553.3 838.9 551.8 844.9C550.3 851 549 854 546.2 857.4C543.4 860.8 536.8 864.2 534.9 865.5" fill="none" stroke="#1a1a1a" stroke-width="1.4" stroke-linejoin="round" stroke-linecap="round"/>
<path d="M552.7 775.6L558.7 775L560.2 783.1L555.6 784" fill="#fff" stroke="#1a1a1a" stroke-width="1.4" stroke-linejoin="round"/>
<path d="M558.9 824.3L568.4 823.4L567.4 831.8L559.9 832.7" fill="#fff" stroke="#1a1a1a" stroke-width="1.4" stroke-linejoin="round"/>
<path d="M547.4 859.3L557.4 859.7L556.9 861.8L546.2 863" fill="#fff" stroke="#1a1a1a" stroke-width="1.4" stroke-linejoin="round"/>
<path d="M529.9 748.5L535.6 748.2L536.4 752.5" fill="none" stroke="#1a1a1a" stroke-width="1.3" stroke-linejoin="round"/>
<path d="M497.5 758.7L507.5 754.4L510.2 761.2L504 777.5L495.6 781.2Z" fill="#fff" stroke="#1a1a1a" stroke-width="1.4" stroke-linejoin="round"/>
<path d="M515 756.2L526.2 753.1L525.2 758.7L517.7 765L510.2 776.2L507.5 771.2Z" fill="#fff" stroke="#1a1a1a" stroke-width="1.4" stroke-linejoin="round"/>
<path d="M505 768.7L510 765L509.3 771.2" fill="none" stroke="#1a1a1a" stroke-width="1.2" stroke-linejoin="round"/>
<path d="M521.2 765C523.1 767.7 529.3 775 532.4 781.2C535.6 787.5 538.2 794.8 539.9 802.5C541.6 810.2 543.1 819.7 542.7 827.4C542.3 835.1 538.5 845.1 537.7 848.7" fill="none" stroke="#1a1a1a" stroke-width="1.2" stroke-linejoin="round" stroke-linecap="round"/>
<path d="M523.2 766.8C525 769.4 531 776.3 534 782.2C537.1 788.2 539.6 794.9 541.2 802.5C542.9 810 544.2 819.9 543.8 827.4C543.4 835 539.7 844.3 538.9 847.7" fill="none" stroke="#1a1a1a" stroke-width="1.2" stroke-linejoin="round" stroke-linecap="round"/>
<path d="M526.5 769.7C528.1 772.1 533.8 778.4 536.6 783.8C539.5 789.3 541.9 795.2 543.3 802.5C544.8 809.7 546 820.2 545.6 827.4C545.2 834.7 541.6 842.9 540.8 846" fill="none" stroke="#1a1a1a" stroke-width="1.2" stroke-linejoin="round" stroke-linecap="round"/>
<path d="M528.4 771.5C530.1 773.7 535.5 779.7 538.2 784.8C540.9 790 543.2 795.4 544.6 802.5C546.1 809.6 547.1 820.3 546.7 827.4C546.2 834.5 542.8 842.1 542 845" fill="none" stroke="#1a1a1a" stroke-width="1.2" stroke-linejoin="round" stroke-linecap="round"/>
<path d="M502.5 839.9L510 838.7L525 852.4L532.4 856.2L529.9 864.9L518.7 869.4L515 864.9Z" fill="#fff" stroke="#1a1a1a" stroke-width="1.4" stroke-linejoin="round"/>
<path d="M525 852.4L528.1 849.9L534.9 859.9L532.4 866.2" fill="none" stroke="#1a1a1a" stroke-width="1.2" stroke-linejoin="round"/>
<path d="M534.9 859.9L547.4 858.7" fill="none" stroke="#1a1a1a" stroke-width="1.2" stroke-linejoin="round"/>
<path d="M501.2 788.1L515 784.6L522.5 792.5L527.4 809.9L527.4 827.4L523.7 833.9L503.7 838.7" fill="#fff" stroke="#1a1a1a" stroke-width="1.5" stroke-linejoin="round"/>
<path d="M515 784.6L517.5 776.2" fill="none" stroke="#1a1a1a" stroke-width="1.2" stroke-linejoin="round"/>
<path d="M523.7 833.9L532.4 841.2" fill="none" stroke="#1a1a1a" stroke-width="1.2" stroke-linejoin="round"/>
<path d="M522.5 792.5L527.4 800L528.4 827.4L523.7 833.9" fill="none" stroke="#1a1a1a" stroke-width="1.2" stroke-linejoin="round"/>
<path d="M513.1 801.2C515.8 799.2 524.2 793.5 529.9 790.2C535.7 786.9 545 782.1 547.7 781.2C550.4 780.4 548.7 782.9 546.2 785.2C543.6 787.5 537.9 792.4 532.4 795.2C527 798 516.9 801.2 513.7 802.2C510.5 803.2 510.4 803.2 513.1 801.2Z" fill="#fff" stroke="#1a1a1a" stroke-width="1.4" stroke-linejoin="round" stroke-linecap="round"/>
<path d="M515.6 818.7C517.9 818.2 523 815.6 529.9 816.8C536.9 818.1 554.5 824.4 557.4 826.2C560.3 828 552 828.1 547.4 827.7C542.9 827.3 535.2 825.2 529.9 823.9C524.7 822.6 518.6 820.8 516.2 819.9C513.8 819.1 513.3 819.2 515.6 818.7Z" fill="#fff" stroke="#1a1a1a" stroke-width="1.4" stroke-linejoin="round" stroke-linecap="round"/>
<path d="M518.7 798.7L539.9 787.5" fill="none" stroke="#1a1a1a" stroke-width="1"/>
<path d="M520 819.4L547.4 826.7" fill="none" stroke="#1a1a1a" stroke-width="1"/>
<ellipse cx="499.7" cy="813.3" rx="11.2" ry="25.4" transform="rotate(-8 499.7 813.3)" fill="#fff" stroke="#1a1a1a" stroke-width="1.9"/>
<ellipse cx="500.3" cy="813.3" rx="8.8" ry="21.8" transform="rotate(-8 500.3 813.3)" fill="none" stroke="#1a1a1a" stroke-width="1.7"/>
<path d="M507.5 834.4L506.8 834.3L506.1 834.1L505.5 833.8L504.8 833.3L504.1 832.7L503.4 832L502.7 831.3L502.1 830.4L501.5 829.4L500.8 828.3L500.3 827.1L499.7 825.9L499.2 824.6L498.7 823.2L498.2 821.8L497.8 820.3L497.4 818.8L497.1 817.2L496.8 815.6L496.5 814L496.3 812.4L496.2 810.8L496.1 809.3L496 807.7L496 806.1L496 804.6L496.1 803.2L496.3 801.8L496.5 800.4L496.7 799.1L497 797.9L497.4 796.8L497.8 795.8L498.2 794.8L498.6 794L499.1 793.3L499.7 792.6L500.2 792.1L500.8 791.7L501.4 791.4" fill="none" stroke="#1a1a1a" stroke-width="1.2"/>
<ellipse cx="603.1" cy="791.6" rx="21" ry="44" transform="rotate(-8 603.1 791.6)" fill="#fff" stroke="#1a1a1a" stroke-width="1.8"/>
<ellipse cx="598.1" cy="791.6" rx="21" ry="43.8" transform="rotate(-8 598.1 791.6)" fill="#fff" stroke="#1a1a1a" stroke-width="1.5"/>
<path d="M593.7 747.7L597.5 748.1" fill="none" stroke="#1a1a1a" stroke-width="1.5" stroke-linejoin="round"/>
<path d="M603.7 835.5L609 834.5" fill="none" stroke="#1a1a1a" stroke-width="1.5" stroke-linejoin="round"/>
<path d="M597.5 748.5L605 752.7" fill="none" stroke="#1a1a1a" stroke-width="1" stroke-linejoin="round"/>
<path d="M620.2 793.9L626.2 801.2" fill="none" stroke="#1a1a1a" stroke-width="1.3" stroke-linejoin="round"/>
<ellipse cx="580" cy="795.2" rx="10.7" ry="22.6" transform="rotate(-10 580 795.2)" fill="#fff" stroke="#1a1a1a" stroke-width="1.9"/>
<ellipse cx="580.7" cy="795.2" rx="8.8" ry="20.2" transform="rotate(-10 580.7 795.2)" fill="none" stroke="#1a1a1a" stroke-width="1.4"/>
<path d="M585.2 776L585.7 776.3L586.3 776.8L586.9 777.3L587.4 777.8L588 778.5L588.5 779.2L589.1 779.9L589.6 780.7L590.1 781.6L590.6 782.5L591 783.5L591.5 784.5L591.9 785.6L592.3 786.6L592.7 787.8L593 788.9L593.4 790.1L593.7 791.3L593.9 792.5L594.2 793.7L594.3 794.9L594.5 796.1L594.6 797.3L594.7 798.5L594.8 799.7L594.8 800.9L594.8 802.1L594.8 803.2L594.7 804.3L594.6 805.4L594.5 806.4L594.3 807.4L594.1 808.3L593.8 809.2L593.5 810L593.2 810.8L592.9 811.6L592.5 812.2L592.2 812.8L591.7 813.4" fill="none" stroke="#1a1a1a" stroke-width="1"/>
<path d="M581.2 772C582 771.8 584.3 771.5 585.6 771.2C586.9 770.9 588.4 770.2 589 770" fill="none" stroke="#1a1a1a" stroke-width="1.4" stroke-linejoin="round" stroke-linecap="round"/>
<path d="M586.9 816.2C587.6 816.1 589.8 815.5 591.2 815.4C592.6 815.4 594.6 815.8 595.2 815.9" fill="none" stroke="#1a1a1a" stroke-width="1.4" stroke-linejoin="round" stroke-linecap="round"/>
<ellipse cx="735.2" cy="764.9" rx="31.2" ry="77.9" transform="rotate(-8.3 735.2 764.9)" fill="#fff" stroke="#1a1a1a" stroke-width="1.9"/>
<ellipse cx="730.7" cy="764.7" rx="30.5" ry="76.4" transform="rotate(-8.3 730.7 764.7)" fill="#fff" stroke="#1a1a1a" stroke-width="1.5"/>
<ellipse cx="723.7" cy="764.7" rx="28" ry="73.1" transform="rotate(-8.3 723.7 764.7)" fill="#fff" stroke="#1a1a1a" stroke-width="1.5"/>
<ellipse cx="715" cy="764.9" rx="25" ry="68.4" transform="rotate(-8.3 715 764.9)" fill="#fff" stroke="#1a1a1a" stroke-width="1.5"/>
<ellipse cx="705.6" cy="766.4" rx="26.5" ry="66" transform="rotate(-8.3 705.6 766.4)" fill="#fff" stroke="#1a1a1a" stroke-width="1.8"/>
<ellipse cx="706.5" cy="766.4" rx="23.5" ry="58.7" transform="rotate(-8.3 706.5 766.4)" fill="none" stroke="#1a1a1a" stroke-width="1.7"/>
<path d="M703.5 713.6L705 714.2L706.4 715L707.9 716.1L709.4 717.4L710.9 719L712.3 720.8L713.8 722.8L715.2 725L716.5 727.4L717.9 730.1L719.1 732.9L720.4 735.8L721.5 738.9L722.6 742.2L723.6 745.6L724.6 749L725.4 752.6L726.2 756.2L726.9 759.9L727.5 763.6L728 767.3L728.4 771L728.7 774.7L728.9 778.3L728.9 781.9L728.9 785.4L728.8 788.8L728.6 792.2L728.3 795.3L727.8 798.4L727.3 801.3L726.7 804L726 806.5L725.2 808.9L724.3 811L723.3 812.9L722.3 814.6L721.2 816.1L720 817.3L718.8 818.3" fill="none" stroke="#1a1a1a" stroke-width="1"/>
<ellipse cx="712.5" cy="766.8" rx="13.1" ry="25.6" transform="rotate(-8.3 712.5 766.8)" fill="none" stroke="#1a1a1a" stroke-width="1.3"/>
<path d="M710.1 744.8L710.9 744.4L711.7 744.2L712.6 744.2L713.4 744.3L714.3 744.6L715.2 745.1L716.1 745.7L717 746.5L717.8 747.4L718.7 748.5L719.5 749.7L720.3 751.1L721 752.5L721.7 754.1L722.3 755.8L722.9 757.5L723.4 759.3L723.9 761.2L724.3 763.1L724.6 765L724.8 767L725 768.9L725.1 770.8L725.1 772.7L725.1 774.6L724.9 776.3L724.7 778.1L724.4 779.7L724.1 781.2L723.6 782.6L723.1 783.9L722.6 785L722 786L721.3 786.9L720.6 787.6L719.8 788.1L719 788.5L718.2 788.7L717.3 788.7L716.5 788.6" fill="none" stroke="#1a1a1a" stroke-width="1.3"/>
<ellipse cx="719.9" cy="764.9" rx="3.2" ry="11" transform="rotate(-8.3 719.9 764.9)" fill="none" stroke="#1a1a1a" stroke-width="1.5"/>
<path d="M729.4 771.4L732.7 771.4" fill="none" stroke="#1a1a1a" stroke-width="1.8"/>
<ellipse cx="692.8" cy="708.7" rx="0.9" ry="3" transform="rotate(-8.3 692.8 708.7)" fill="none" stroke="#1a1a1a" stroke-width="1.2"/>
<ellipse cx="715.2" cy="825.5" rx="0.9" ry="3.6" transform="rotate(-8.3 715.2 825.5)" fill="none" stroke="#1a1a1a" stroke-width="1.2"/>
<path d="M680 759.9L682.5 761.4" fill="none" stroke="#1a1a1a" stroke-width="1.2"/>
<ellipse cx="686.8" cy="770.2" rx="26.4" ry="65.4" transform="rotate(-11 686.8 770.2)" fill="none" stroke="#1a1a1a" stroke-width="1.7"/>
<ellipse cx="686.8" cy="770.2" rx="24.2" ry="62.8" transform="rotate(-11 686.8 770.2)" fill="none" stroke="#1a1a1a" stroke-width="1.4"/>
<path d="M637.7 770.4L642.9 769.6L644.1 769.3L645.4 769.4L646.7 769.8L648 770.4L649.2 771.4L650.3 772.6L651.4 774L652.3 775.7L653 777.4L653.5 779.3L653.9 781.3L654 783.2L654 785.1L653.7 787L653.3 788.7L652.6 790.2L651.8 791.6L650.9 792.7L649.8 793.5L648.6 794L643.5 795L643.5 795L642.2 795.3L640.9 795.2L639.6 794.8L638.3 794.1L637.1 793.2L636 792L635 790.5L634.1 788.9L633.4 787.1L632.8 785.2L632.5 783.2L632.3 781.3L632.3 779.3L632.6 777.5L633 775.7L633.7 774.2L634.5 772.8L635.4 771.7L636.5 770.9L637.7 770.4Z" fill="#fff" stroke="#1a1a1a" stroke-width="1.7" stroke-linejoin="round"/>
<ellipse cx="640.6" cy="782.7" rx="8.1" ry="12.7" transform="rotate(-10 640.6 782.7)" fill="#fff" stroke="#1a1a1a" stroke-width="2"/>
<ellipse cx="641" cy="782.7" rx="5.8" ry="9.2" transform="rotate(-10 641 782.7)" fill="none" stroke="#1a1a1a" stroke-width="1.4"/>
<ellipse cx="641.2" cy="782.7" rx="3.7" ry="5.8" transform="rotate(-10 641.2 782.7)" fill="none" stroke="#1a1a1a" stroke-width="1.3"/>
<ellipse cx="641.4" cy="782.7" rx="2" ry="3.2" transform="rotate(-10 641.4 782.7)" fill="none" stroke="#1a1a1a" stroke-width="1.3"/>
<path d="M672.9 764.8L677.9 764.6L678.9 764.4L679.9 764.5L680.9 764.9L681.9 765.6L682.9 766.5L683.9 767.7L684.7 769.1L685.4 770.6L686.1 772.3L686.5 774.1L686.9 776L687.1 777.9L687.1 779.7L686.9 781.4L686.6 783L686.2 784.5L685.6 785.7L684.9 786.7L684.1 787.5L683.2 787.9L678.2 788.1L678.2 788.1L677.2 788.3L676.2 788.2L675.1 787.8L674.1 787.2L673.1 786.2L672.2 785L671.4 783.6L670.6 782.1L670 780.4L669.5 778.6L669.2 776.7L669 774.9L669 773L669.1 771.3L669.4 769.7L669.9 768.3L670.5 767L671.2 766L672 765.3L672.9 764.8Z" fill="#fff" stroke="#1a1a1a" stroke-width="1.5" stroke-linejoin="round"/>
<ellipse cx="675.5" cy="776.5" rx="6.3" ry="12" transform="rotate(-10 675.5 776.5)" fill="#fff" stroke="#1a1a1a" stroke-width="1.5"/>
<ellipse cx="676" cy="776.5" rx="4.1" ry="8.8" transform="rotate(-10 676 776.5)" fill="none" stroke="#1a1a1a" stroke-width="1.3"/>
<path d="M663.4 765.8L675.5 764.5" fill="none" stroke="#1a1a1a" stroke-width="1.3"/>
<path d="M664.7 790.2L676.2 788.4" fill="none" stroke="#1a1a1a" stroke-width="1.3"/>
<ellipse cx="663.4" cy="778" rx="7" ry="12.3" transform="rotate(-10 663.4 778)" fill="#fff" stroke="#1a1a1a" stroke-width="1.7"/>
<ellipse cx="663.7" cy="778" rx="4.3" ry="8.2" transform="rotate(-10 663.7 778)" fill="none" stroke="#1a1a1a" stroke-width="1.4"/>
<ellipse cx="663.9" cy="778" rx="2.6" ry="5.6" transform="rotate(-10 663.9 778)" fill="none" stroke="#1a1a1a" stroke-width="1.2"/>
<ellipse cx="775.5" cy="755" rx="6.9" ry="14.8" transform="rotate(-8 775.5 755)" fill="#fff" stroke="#1a1a1a" stroke-width="1.7"/>
<ellipse cx="775.5" cy="755" rx="3.6" ry="10" transform="rotate(-8 775.5 755)" fill="none" stroke="#1a1a1a" stroke-width="1.4"/>
<path d="M789 741L794.6 740.6L795.6 740.5L796.7 740.6L797.7 741L798.7 741.6L799.7 742.5L800.6 743.7L801.4 745L802.1 746.5L802.6 748.1L803 749.8L803.3 751.6L803.4 753.3L803.3 755L803.1 756.7L802.7 758.2L802.2 759.5L801.5 760.7L800.7 761.6L799.8 762.3L798.9 762.7L793.3 763.1L793.3 763.1L792.3 763.3L791.2 763.2L790.2 762.8L789.2 762.1L788.2 761.2L787.3 760.1L786.5 758.8L785.8 757.3L785.3 755.7L784.9 754L784.6 752.2L784.5 750.4L784.6 748.7L784.8 747.1L785.2 745.6L785.7 744.2L786.4 743.1L787.2 742.1L788.1 741.4L789 741Z" fill="#fff" stroke="#1a1a1a" stroke-width="1.7" stroke-linejoin="round"/>
<ellipse cx="791.1" cy="752.1" rx="6.5" ry="11.3" transform="rotate(-8 791.1 752.1)" fill="#fff" stroke="#1a1a1a" stroke-width="1.7"/>
<ellipse cx="791.7" cy="752.1" rx="4.5" ry="8.8" transform="rotate(-8 791.7 752.1)" fill="none" stroke="#1a1a1a" stroke-width="1.3"/>
<path d="M792.9 743L793.3 743.1L793.6 743.2L793.9 743.3L794.3 743.5L794.6 743.7L795 744L795.3 744.3L795.6 744.6L795.9 745L796.2 745.4L796.5 745.9L796.8 746.4L797 746.9L797.2 747.5L797.5 748L797.6 748.6L797.8 749.2L798 749.9L798.1 750.5L798.2 751.2L798.3 751.8L798.3 752.4L798.4 753.1L798.4 753.7L798.3 754.4L798.3 755L798.2 755.6L798.1 756.1L798 756.7L797.9 757.2L797.7 757.7L797.5 758.2L797.3 758.6L797.1 759L796.8 759.3L796.5 759.6L796.3 759.9L796 760.1L795.7 760.3L795.4 760.4" fill="none" stroke="#1a1a1a" stroke-width="1.2"/>
<path d="M793.7 740.7L794.2 740.7L794.7 740.8L795.2 740.9L795.7 741.2L796.1 741.4L796.6 741.8L797.1 742.2L797.5 742.6L798 743.1L798.4 743.6L798.8 744.2L799.1 744.8L799.5 745.5L799.8 746.2L800.1 746.9L800.3 747.7L800.6 748.5L800.8 749.3L800.9 750.1L801.1 750.9L801.2 751.7L801.2 752.5L801.3 753.4L801.3 754.2L801.2 755L801.1 755.7L801 756.5L800.9 757.2L800.7 757.9L800.5 758.6L800.2 759.2L799.9 759.8L799.6 760.4L799.3 760.9L798.9 761.3L798.6 761.7L798.2 762.1L797.7 762.4L797.3 762.6L796.8 762.7" fill="none" stroke="#1a1a1a" stroke-width="1"/>
<!-- p_bracket -->
<path d="M877.4 686.8C878.7 687.2 882.4 687.5 884.9 689.1C887.4 690.6 890.2 693.1 892.4 696.2C894.7 699.3 896.4 701.6 898.4 707.8C900.4 714.1 903.3 725.3 904.6 733.7C905.8 742 906.6 750.5 905.9 758C905.2 765.5 902.5 773.6 900.3 778.6C898 783.7 893.7 786.8 892.4 788.4" fill="#fff" stroke="#1a1a1a" stroke-width="1.8" stroke-linejoin="round" stroke-linecap="round"/>
<path d="M860.6 835.8L881.2 859.6L919.6 846.1L920.1 842.3L911.1 836.7L886.8 816.1L886.8 794L877.4 771.1L868.1 834.8Z" fill="#fff" stroke="#1a1a1a" stroke-width="1.8" stroke-linejoin="round"/>
<path d="M881.2 789.9L881.2 859.6" fill="none" stroke="#1a1a1a" stroke-width="1.3"/>
<path d="M911.1 836.7L914.9 841.4L919.6 846.1" fill="none" stroke="#1a1a1a" stroke-width="1.2" stroke-linejoin="round"/>
<path d="M892.4 824.5L899.9 827.4L903.7 833.9" fill="none" stroke="#1a1a1a" stroke-width="1.2" stroke-linejoin="round"/>
<path d="M873.7 685L884.9 689.1L892.4 696.2L898.4 707.8L904.6 733.7L905.9 758L900.3 778.6L892.4 788.4L884.9 795.5L873.7 808.6Z" fill="#fff" stroke="none" stroke-width="0" stroke-linejoin="round"/>
<path d="M882.1 701.8C883.8 705.3 890 714 892.4 722.4C894.8 730.9 896.5 743 896.5 752.4C896.6 761.8 894.1 772.7 892.8 778.6C891.5 784.6 889.4 786.4 888.7 788" fill="none" stroke="#1a1a1a" stroke-width="1.4" stroke-linejoin="round" stroke-linecap="round"/>
<path d="M883 703.1C884.8 702.9 891.1 700.9 893.7 701.8C896.2 702.8 897.6 706.3 898.1 708.7C898.7 711.1 898.4 714.7 896.9 716.2C895.4 717.6 890.6 717.2 889.3 717.4" fill="none" stroke="#1a1a1a" stroke-width="1.4" stroke-linejoin="round" stroke-linecap="round"/>
<path d="M893.7 701.8L887.4 696.2" fill="none" stroke="#1a1a1a" stroke-width="1.2"/>
<path d="M888.7 785.2C889.7 784.9 893.3 782.9 894.7 783.3C896 783.8 896.6 786.4 896.5 788C896.5 789.6 895.5 791.7 894.3 792.7C893 793.7 889.9 793.8 889 794" fill="#fff" stroke="#1a1a1a" stroke-width="1.4" stroke-linejoin="round" stroke-linecap="round"/>
<path d="M803.4 664C804.6 659.3 804.2 660 808.1 658.7C812 657.5 820.6 656 826.8 656.5C833.1 657 839.6 658.5 845.6 661.5C851.5 664.6 857.4 670.1 862.4 674.7C867.4 679.2 872.7 682.6 875.6 688.7C878.4 694.8 878.2 700.6 879.3 711.2C880.4 721.8 882 739.3 882.3 752.4C882.6 765.5 882.6 778 881.2 789.9C879.7 801.7 875.7 816.1 873.7 823.6C871.6 831.1 871.2 832.9 869 834.8C866.8 836.8 865.1 837.7 860.6 835.2C856 832.7 849 826.5 841.8 819.9C834.6 813.2 823.7 804.9 817.5 795.5C811.2 786.1 807.2 775.5 804.4 763.7C801.5 751.8 800.8 737.1 800.2 724.3C799.7 711.5 800.5 696.9 801 686.8C801.5 676.8 802.2 668.7 803.4 664Z" fill="#fff" stroke="#1a1a1a" stroke-width="2" stroke-linejoin="round" stroke-linecap="round"/>
<path d="M808.1 658.7C808.7 659.5 812.5 661.5 811.9 663.4C811.2 665.3 805.3 668.9 804 670" fill="none" stroke="#1a1a1a" stroke-width="1.2" stroke-linejoin="round" stroke-linecap="round"/>
<ellipse cx="839" cy="741.2" rx="36.4" ry="82.6" transform="rotate(-8.5 839 741.2)" fill="none" stroke="#1a1a1a" stroke-width="1.9"/>
<clipPath id="br"><ellipse cx="838.6" cy="742.3" rx="31.6" ry="71.2" transform="rotate(-8.5 838.6 742.3)"/></clipPath>
<g clip-path="url(#br)">
<path d="M821.8 675L843.1 681.8L846.2 688.7L844.3 706.2L837.5 701.2L826.2 694.3L823.7 687.5Z" fill="#fff" stroke="#1a1a1a" stroke-width="1.5" stroke-linejoin="round"/>
<path d="M845 695L854.9 695L856.2 700L845 700.2Z" fill="#fff" stroke="#1a1a1a" stroke-width="1.5" stroke-linejoin="round"/>
<path d="M808.7 700.6L832.5 700.6L840 713.7L844.3 717.4L836.2 719.9L813.7 711.2L810 706.2Z" fill="#fff" stroke="#1a1a1a" stroke-width="1.5" stroke-linejoin="round"/>
<path d="M835 724.3L856.2 716.2L864.3 723.1L863.7 726.8L836.2 728.7Z" fill="#fff" stroke="#1a1a1a" stroke-width="1.5" stroke-linejoin="round"/>
<path d="M828.1 736.2L856.2 731.2L857.4 737.4L828.7 740.5Z" fill="#fff" stroke="#1a1a1a" stroke-width="1.5" stroke-linejoin="round"/>
<path d="M812.5 746.8L843.7 739.9L845 743.7L816.2 749.9Z" fill="#fff" stroke="#1a1a1a" stroke-width="1.5" stroke-linejoin="round"/>
<path d="M843.1 746.8L868.1 742.4L868.7 748.7L843.7 751.2Z" fill="#fff" stroke="#1a1a1a" stroke-width="1.5" stroke-linejoin="round"/>
<path d="M835 757.4L864.9 752.4L865.6 758L836.2 762.4Z" fill="#fff" stroke="#1a1a1a" stroke-width="1.5" stroke-linejoin="round"/>
<path d="M827.5 778.6L843.7 767.4L849.9 766.1L850.6 778.6L845 789.9L837.5 794.9L827.5 787.4Z" fill="#fff" stroke="#1a1a1a" stroke-width="1.5" stroke-linejoin="round"/>
<path d="M837.5 794.9L848.7 788.6L856.2 779.9L863.1 765.5L864.7 767.4L859.9 781.1L849.9 794.9L849.9 812.3L845 804.9Z" fill="#fff" stroke="#1a1a1a" stroke-width="1.5" stroke-linejoin="round"/>
<path d="M857.4 777.4L868.7 776.1L868.7 788.6L862.4 787.4L857.4 781.1Z" fill="#fff" stroke="#1a1a1a" stroke-width="1.5" stroke-linejoin="round"/>
<path d="M826.2 685L843.7 685" fill="none" stroke="#1a1a1a" stroke-width="1"/>
<path d="M825.6 688.7L843.7 688.5" fill="none" stroke="#1a1a1a" stroke-width="1"/>
<path d="M819.4 708.7L832.5 708.7" fill="none" stroke="#1a1a1a" stroke-width="1"/>
<path d="M811.2 702.7L831.2 703.2" fill="none" stroke="#1a1a1a" stroke-width="1"/>
<path d="M837.5 726.2L859.9 723.1" fill="none" stroke="#1a1a1a" stroke-width="1"/>
<path d="M830 738.4L856.2 734.9" fill="none" stroke="#1a1a1a" stroke-width="1"/>
<path d="M817.5 748.4L843.7 742.4" fill="none" stroke="#1a1a1a" stroke-width="1"/>
<path d="M844.3 748.9L868.1 745.9" fill="none" stroke="#1a1a1a" stroke-width="1"/>
<path d="M836.8 760.1L864.9 755.6" fill="none" stroke="#1a1a1a" stroke-width="1"/>
<path d="M828.7 781.4L847.4 778.6" fill="none" stroke="#1a1a1a" stroke-width="1"/>
<path d="M829.3 785.1L845 782.4" fill="none" stroke="#1a1a1a" stroke-width="1"/>
<path d="M845 796.1L854.9 794.9" fill="none" stroke="#1a1a1a" stroke-width="1"/>
<path d="M845 798.6L853.7 798.1" fill="none" stroke="#1a1a1a" stroke-width="1"/>
<path d="M838.7 728.7L858.7 728.7" fill="none" stroke="#1a1a1a" stroke-width="1"/>
<path d="M858.7 728.7L859.9 739.9" fill="none" stroke="#1a1a1a" stroke-width="1"/>
<path d="M840 751.2L841.5 746.8" fill="none" stroke="#1a1a1a" stroke-width="1"/>
<ellipse cx="862.7" cy="733" rx="3.6" ry="5" fill="#fff" stroke="#1a1a1a" stroke-width="1.4"/>
<ellipse cx="863.4" cy="733.7" rx="2" ry="3.2" fill="#444" stroke="#1a1a1a" stroke-width="1.3"/>
</g>
<ellipse cx="838.6" cy="742.3" rx="31.6" ry="71.2" transform="rotate(-8.5 838.6 742.3)" fill="none" stroke="#1a1a1a" stroke-width="2.2"/>
<ellipse cx="864.3" cy="693.4" rx="2.6" ry="4.4" transform="rotate(-15 864.3 693.4)" fill="none" stroke="#1a1a1a" stroke-width="1.4"/>
<ellipse cx="863" cy="825.9" rx="3" ry="4.6" transform="rotate(-15 863 825.9)" fill="none" stroke="#1a1a1a" stroke-width="1.4"/>
<ellipse cx="805.3" cy="671.9" rx="1" ry="2.2" fill="none" stroke="#1a1a1a" stroke-width="1.2"/>
<path d="M804.4 763.7C805 766.8 805.9 776.5 808.1 782.4C810.3 788.3 812.8 793.3 817.5 799.3C822.2 805.2 833.1 814.9 836.2 818" fill="none" stroke="#1a1a1a" stroke-width="1.2" stroke-linejoin="round" stroke-linecap="round"/>
<path d="M904.9 689.1L902.6 694.5L898 694.5L895.7 689.1L898 683.7L902.6 683.7Z" fill="#fff" stroke="#1a1a1a" stroke-width="1.7" stroke-linejoin="round"/>
<ellipse cx="900.3" cy="689.1" rx="3" ry="4" fill="#999" stroke="#1a1a1a" stroke-width="1.3"/>
<ellipse cx="901.9" cy="688.7" rx="4.6" ry="6" fill="none" stroke="#1a1a1a" stroke-width="1"/>
<path d="M908.2 814.6L905.9 820L901.4 820L899.1 814.6L901.4 809.2L905.9 809.2Z" fill="#fff" stroke="#1a1a1a" stroke-width="1.7" stroke-linejoin="round"/>
<ellipse cx="903.7" cy="814.6" rx="3" ry="4" fill="#999" stroke="#1a1a1a" stroke-width="1.3"/>
<ellipse cx="905.3" cy="814.2" rx="4.6" ry="6" fill="none" stroke="#1a1a1a" stroke-width="1"/>
</svg>
</body></html>
